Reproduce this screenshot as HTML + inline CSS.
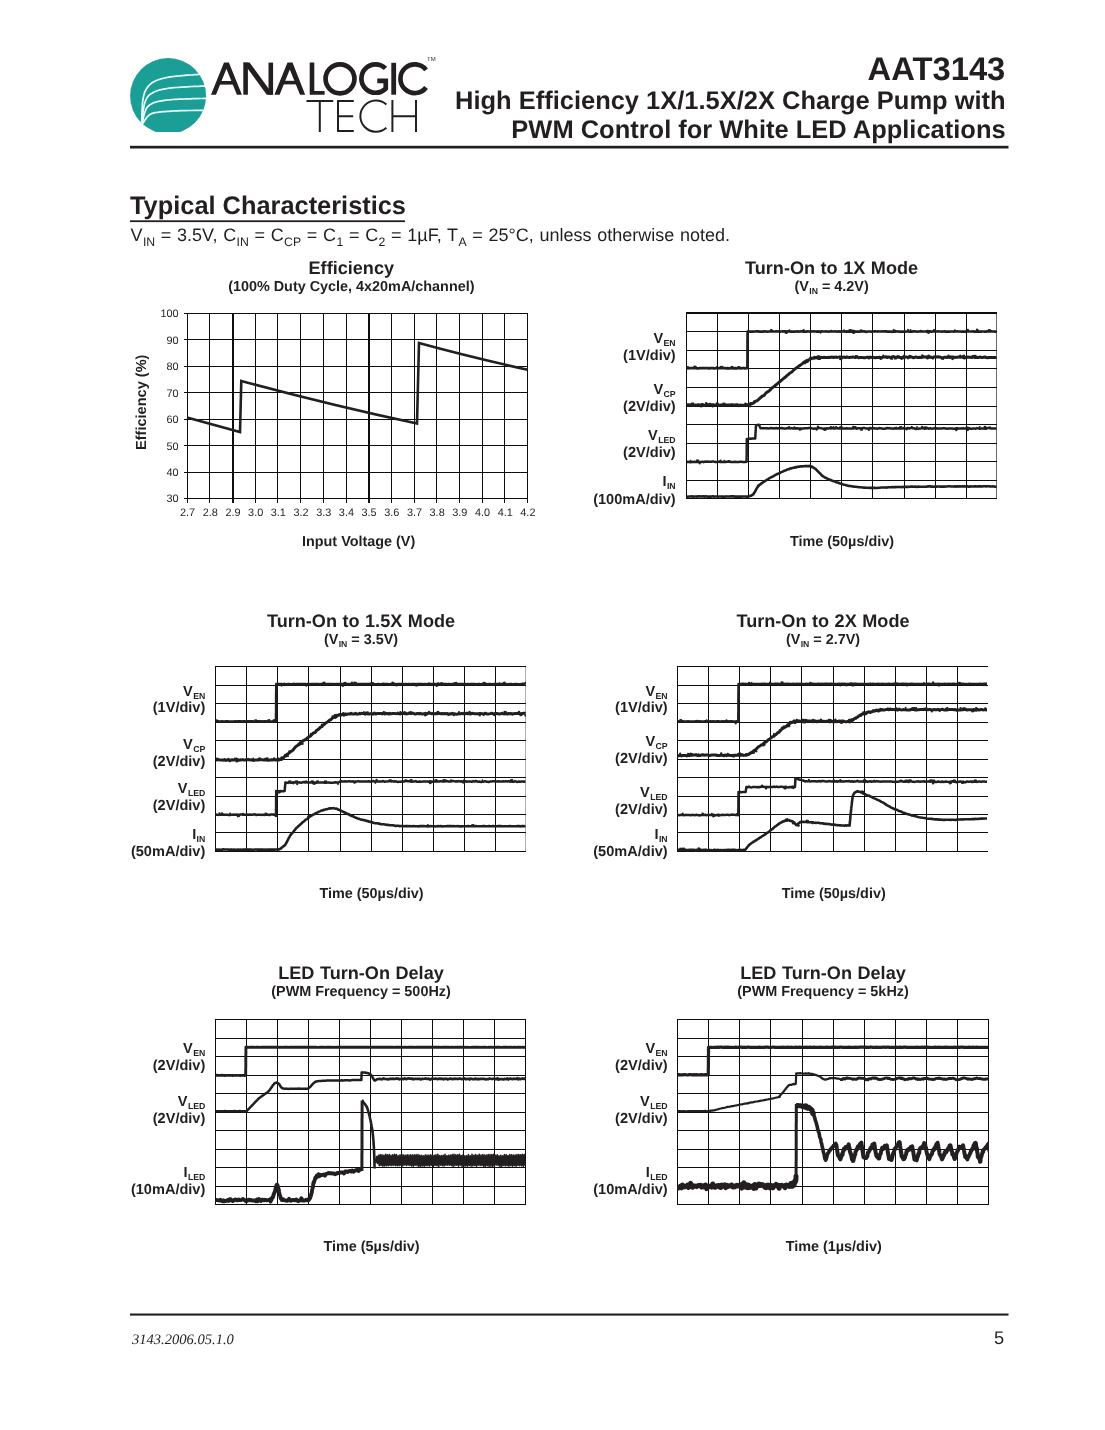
<!DOCTYPE html>
<html><head><meta charset="utf-8"><title>AAT3143</title>
<style>
html,body{margin:0;padding:0;background:#fff;}
body{width:1105px;height:1430px;position:relative;overflow:hidden;font-family:"Liberation Sans",sans-serif;color:#231f20;text-rendering:geometricPrecision;}
svg.g{position:absolute;left:0;top:0;}
.tx{position:absolute;left:0;top:0;width:1105px;height:1430px;will-change:transform;}
.t{position:absolute;white-space:nowrap;line-height:1em;font-weight:bold;}
.t sub{font-size:var(--sf,0.6em);vertical-align:baseline;position:relative;top:var(--st,0.4em);line-height:0;margin-left:0.4px;}
</style></head><body>
<svg class="g" width="1105" height="1430" viewBox="0 0 1105 1430">
<clipPath id="lc"><rect x="120" y="50" width="100" height="81.9"/></clipPath>
<circle cx="168.1" cy="96" r="38" fill="#1a9e96" clip-path="url(#lc)"/>
<path d="M141.7 121.5 L141.8 120.0 L141.8 118.1 L141.9 115.8 L142.0 113.2 L142.1 110.4 L142.2 107.6 L142.4 104.8 L142.6 102.2 L142.9 99.8 L143.2 97.8 L143.6 96.1 L144.0 94.5 L144.4 93.1 L144.9 91.8 L145.5 90.6 L146.1 89.5 L146.7 88.4 L147.4 87.4 L148.2 86.4 L149.0 85.5 L149.9 84.6 L150.8 83.8 L151.8 83.0 L152.9 82.3 L154.0 81.7 L155.2 81.1 L156.4 80.5 L157.7 80.0 L159.1 79.5 L160.5 79.0 L162.0 78.6 L163.6 78.2 L165.2 77.8 L166.9 77.5 L168.6 77.2 L170.4 76.9 L172.3 76.7 L174.1 76.5 L176.1 76.2 L178.0 76.0 L180.1 75.8 L182.4 75.6 L184.8 75.4 L187.3 75.2 L189.8 75.0 L192.3 74.9 L194.5 74.7 L196.5 74.6 L198.2 74.5 L199.5 74.4" fill="none" stroke="#eafffc" stroke-width="1.7" stroke-linecap="round"/>
<path d="M142.0 122.0 L142.1 120.9 L142.3 119.4 L142.5 117.5 L142.7 115.5 L142.9 113.4 L143.2 111.2 L143.5 109.0 L143.8 107.0 L144.2 105.2 L144.6 103.6 L145.0 102.3 L145.4 101.1 L145.9 100.0 L146.3 99.0 L146.8 98.1 L147.4 97.2 L148.0 96.4 L148.7 95.7 L149.5 94.9 L150.4 94.2 L151.4 93.5 L152.4 92.9 L153.5 92.3 L154.7 91.7 L155.9 91.2 L157.2 90.7 L158.6 90.3 L160.1 89.9 L161.7 89.5 L163.4 89.1 L165.2 88.8 L167.2 88.5 L169.4 88.2 L171.6 87.9 L173.9 87.7 L176.2 87.5 L178.5 87.4 L180.8 87.2 L183.1 87.1 L185.2 86.9 L187.4 86.8 L189.6 86.6 L191.9 86.5 L194.2 86.4 L196.5 86.4 L198.6 86.3 L200.6 86.2 L202.3 86.2 L203.8 86.1 L205.0 86.1" fill="none" stroke="#eafffc" stroke-width="1.7" stroke-linecap="round"/>
<path d="M142.4 122.6 L142.6 121.8 L142.8 120.7 L143.1 119.4 L143.4 117.9 L143.7 116.4 L144.1 114.8 L144.5 113.3 L145.0 111.8 L145.5 110.5 L146.0 109.4 L146.5 108.5 L147.1 107.6 L147.7 106.8 L148.3 106.1 L149.0 105.5 L149.7 104.9 L150.5 104.4 L151.3 103.9 L152.3 103.4 L153.3 102.9 L154.4 102.5 L155.7 102.1 L157.0 101.7 L158.4 101.4 L159.9 101.1 L161.4 100.9 L163.0 100.6 L164.5 100.4 L166.2 100.2 L167.8 100.0 L169.5 99.8 L171.2 99.7 L172.9 99.5 L174.7 99.4 L176.6 99.3 L178.4 99.2 L180.3 99.1 L182.2 99.1 L184.1 99.0 L186.0 98.9 L188.0 98.8 L190.1 98.8 L192.4 98.7 L194.7 98.6 L196.9 98.6 L199.1 98.5 L201.1 98.5 L202.9 98.5 L204.4 98.4 L205.6 98.4" fill="none" stroke="#eafffc" stroke-width="1.7" stroke-linecap="round"/>
<path d="M142.9 123.2 L143.3 122.7 L143.7 122.0 L144.2 121.2 L144.8 120.3 L145.4 119.4 L146.1 118.4 L146.8 117.5 L147.5 116.6 L148.3 115.8 L149.0 115.2 L149.7 114.7 L150.4 114.3 L151.0 113.9 L151.7 113.6 L152.4 113.3 L153.2 113.1 L154.1 112.9 L155.1 112.7 L156.3 112.5 L157.6 112.3 L159.1 112.1 L160.9 111.9 L162.7 111.7 L164.7 111.6 L166.8 111.4 L168.9 111.3 L171.2 111.1 L173.4 111.0 L175.7 110.9 L178.0 110.8 L180.4 110.7 L183.1 110.6 L185.9 110.6 L188.9 110.5 L191.8 110.5 L194.6 110.4 L197.2 110.4 L199.5 110.4 L201.5 110.3 L203.0 110.3" fill="none" stroke="#eafffc" stroke-width="1.7" stroke-linecap="round"/>
<polygon points="211.00,94.70 224.00,62.40 228.90,62.40 241.90,94.70 236.90,94.70 226.45,68.74 216.00,94.70" fill="#231f20"/>
<polygon points="219.57,81.00 233.33,81.00 233.33,84.60 219.57,84.60" fill="#231f20"/>
<polygon points="243.30,62.60 247.90,62.60 247.90,94.70 243.30,94.70" fill="#231f20"/>
<polygon points="268.50,62.60 273.10,62.60 273.10,94.70 268.50,94.70" fill="#231f20"/>
<polygon points="243.30,62.60 249.60,62.60 273.10,94.70 266.80,94.70" fill="#231f20"/>
<polygon points="274.40,94.70 287.50,62.40 292.50,62.40 305.20,94.70 300.00,94.70 289.80,69.55 279.60,94.70" fill="#231f20"/>
<polygon points="283.28,80.80 296.32,80.80 296.32,84.40 283.28,84.40" fill="#231f20"/>
<polygon points="309.70,62.60 314.30,62.60 314.30,91.00 324.60,91.00 324.60,94.70 309.70,94.70" fill="#231f20"/>
<circle cx="340" cy="78.85" r="14.45" fill="none" stroke="#231f20" stroke-width="4.7"/>
<path d="M385.5 68.4 A14.2 14.2 0 1 0 385.75 88.5 L385.75 80.85 L377.3 80.85" fill="none" stroke="#231f20" stroke-width="4.7" stroke-linecap="butt" stroke-linejoin="miter"/>
<polygon points="391.30,62.80 396.10,62.80 396.10,94.70 391.30,94.70" fill="#231f20"/>
<path d="M426.1 69.9 A14.35 14.35 0 1 0 426.1 87.5" fill="none" stroke="#231f20" stroke-width="4.7" stroke-linecap="butt" stroke-linejoin="miter"/>
<path d="M306.5 101.1 L333.2 101.1 M319.8 101.1 L319.8 132" fill="none" stroke="#231f20" stroke-width="2.0" stroke-linecap="butt" stroke-linejoin="miter"/>
<path d="M353.8 101.1 L338 101.1 L338 130.9 L353.8 130.9 M338 116.2 L353.2 116.2" fill="none" stroke="#231f20" stroke-width="2.0" stroke-linecap="butt" stroke-linejoin="miter"/>
<path d="M386.4 104.6 A15.6 15.6 0 1 0 386.4 127.8" fill="none" stroke="#231f20" stroke-width="2.0" stroke-linecap="butt" stroke-linejoin="miter"/>
<path d="M392.4 100 L392.4 132 M416 100 L416 132 M392.4 116.2 L416 116.2" fill="none" stroke="#231f20" stroke-width="2.0" stroke-linecap="butt" stroke-linejoin="miter"/>
<rect x="130" y="145.8" width="878.5" height="2.7" fill="#231f20"/>
<rect x="130" y="220.3" width="275" height="1.8" fill="#231f20"/>
<rect x="130" y="1313.5" width="878.5" height="2.1" fill="#231f20"/>
<rect x="187" y="313" width="1" height="190" fill="#0d0d0d"/>
<rect x="209" y="313" width="1" height="190" fill="#0d0d0d"/>
<rect x="232" y="313" width="2" height="190" fill="#0d0d0d"/>
<rect x="255" y="313" width="1" height="190" fill="#0d0d0d"/>
<rect x="277" y="313" width="1" height="190" fill="#0d0d0d"/>
<rect x="300" y="313" width="1" height="190" fill="#0d0d0d"/>
<rect x="323" y="313" width="1" height="190" fill="#0d0d0d"/>
<rect x="346" y="313" width="1" height="190" fill="#0d0d0d"/>
<rect x="368" y="313" width="2" height="190" fill="#0d0d0d"/>
<rect x="391" y="313" width="1" height="190" fill="#0d0d0d"/>
<rect x="414" y="313" width="1" height="190" fill="#0d0d0d"/>
<rect x="436" y="313" width="1" height="190" fill="#0d0d0d"/>
<rect x="459" y="313" width="1" height="190" fill="#0d0d0d"/>
<rect x="482" y="313" width="1" height="190" fill="#0d0d0d"/>
<rect x="504" y="313" width="1" height="190" fill="#0d0d0d"/>
<rect x="527" y="313" width="1" height="190" fill="#0d0d0d"/>
<rect x="184" y="313" width="344" height="1" fill="#0d0d0d"/>
<rect x="184" y="339" width="344" height="1" fill="#0d0d0d"/>
<rect x="184" y="366" width="344" height="1" fill="#0d0d0d"/>
<rect x="184" y="392" width="344" height="1" fill="#0d0d0d"/>
<rect x="184" y="419" width="344" height="1" fill="#0d0d0d"/>
<rect x="184" y="445" width="344" height="1" fill="#0d0d0d"/>
<rect x="184" y="472" width="344" height="1" fill="#0d0d0d"/>
<rect x="184" y="498" width="344" height="1" fill="#0d0d0d"/>
<path d="M187 417.5 L240 432 L241.3 381 Q330 405 417 423.6 L419 343 Q470 357 527.6 369.7" fill="none" stroke="#231f20" stroke-width="2.6" stroke-linejoin="miter"/>
<clipPath id="c1"><rect x="686" y="313" width="311" height="186"/></clipPath>
<rect x="686" y="313" width="1" height="186" fill="#0d0d0d"/>
<rect x="717" y="313" width="1" height="186" fill="#0d0d0d"/>
<rect x="748" y="313" width="1" height="186" fill="#0d0d0d"/>
<rect x="779" y="313" width="1" height="186" fill="#0d0d0d"/>
<rect x="810" y="313" width="1" height="186" fill="#0d0d0d"/>
<rect x="841" y="313" width="1" height="186" fill="#0d0d0d"/>
<rect x="872" y="313" width="1" height="186" fill="#0d0d0d"/>
<rect x="904" y="313" width="1" height="186" fill="#0d0d0d"/>
<rect x="935" y="313" width="1" height="186" fill="#0d0d0d"/>
<rect x="966" y="313" width="1" height="186" fill="#0d0d0d"/>
<rect x="996" y="313" width="1" height="186" fill="#6a6a6a"/>
<rect x="686" y="312" width="311" height="2" fill="#0d0d0d"/>
<rect x="686" y="331" width="311" height="1" fill="#0d0d0d"/>
<rect x="686" y="350" width="311" height="1" fill="#0d0d0d"/>
<rect x="686" y="368" width="311" height="1" fill="#0d0d0d"/>
<rect x="686" y="387" width="311" height="1" fill="#0d0d0d"/>
<rect x="686" y="406" width="311" height="1" fill="#0d0d0d"/>
<rect x="686" y="424" width="311" height="1" fill="#0d0d0d"/>
<rect x="686" y="443" width="311" height="1" fill="#0d0d0d"/>
<rect x="686" y="461" width="311" height="1" fill="#0d0d0d"/>
<rect x="686" y="480" width="311" height="1" fill="#0d0d0d"/>
<rect x="686" y="498" width="311" height="1" fill="#0d0d0d"/>
<path d="M686.6 368.2 L687.9 368.3 L689.2 368.2 L690.6 368.2 L691.9 368.2 L693.2 368.2 L694.5 368.1 L695.9 368.1 L697.2 368.3 L698.5 368.3 L699.8 368.1 L701.1 368.1 L702.5 368.2 L703.8 368.2 L705.1 368.1 L706.4 368.2 L707.7 368.1 L709.1 368.4 L710.4 368.1 L711.7 368.1 L713.0 368.1 L714.4 368.5 L715.7 368.2 L717.0 368.1 L718.3 368.2 L719.6 368.1 L721.0 368.2 L722.3 368.2 L723.6 368.2 L724.9 368.1 L726.3 368.3 L727.6 368.2 L728.9 368.4 L730.2 368.3 L731.5 368.0 L732.9 368.4 L734.2 368.4 L735.5 368.2 L736.8 368.3 L738.1 368.2 L739.5 368.2 L740.8 368.3 L742.1 368.1 L743.4 368.0 L744.8 368.4 L746.1 368.1 L747.4 368.1 L747.4 366.9 L747.4 365.6 L747.4 364.3 L747.4 363.0 L747.4 361.6 L747.4 360.3 L747.5 359.0 L747.5 357.7 L747.5 356.4 L747.5 355.1 L747.5 353.8 L747.5 352.5 L747.5 351.2 L747.5 349.9 L747.5 348.5 L747.5 347.2 L747.5 345.9 L747.5 344.6 L747.5 343.3 L747.5 342.0 L747.5 340.7 L747.6 339.4 L747.6 338.1 L747.6 336.7 L747.6 335.4 L747.6 334.1 L747.6 332.8 L747.6 331.6 L748.9 331.6 L750.2 331.5 L751.5 331.6 L752.8 331.6 L754.1 331.5 L755.4 331.5 L756.7 331.3 L758.0 331.3 L759.3 331.6 L760.6 331.6 L761.9 331.5 L763.2 331.6 L764.5 331.3 L765.9 331.5 L767.2 331.6 L768.5 331.5 L769.8 331.5 L771.1 331.4 L772.4 331.3 L773.7 331.5 L775.0 331.5 L776.3 331.4 L777.6 331.5 L778.9 331.4 L780.2 331.7 L781.5 331.5 L782.8 331.4 L784.1 331.4 L785.4 331.3 L786.7 331.8 L788.0 331.3 L789.3 331.5 L790.6 331.6 L791.9 331.7 L793.2 331.7 L794.5 331.7 L795.8 331.5 L797.1 331.4 L798.4 331.7 L799.7 331.5 L801.1 331.4 L802.4 331.4 L803.7 331.6 L805.0 331.6 L806.3 331.7 L807.6 331.3 L808.9 331.5 L810.2 331.6 L811.5 331.4 L812.8 331.5 L814.1 331.3 L815.4 331.5 L816.7 331.6 L818.0 331.4 L819.3 331.6 L820.6 331.5 L821.9 331.4 L823.2 331.5 L824.5 331.5 L825.8 331.4 L827.1 331.5 L828.4 331.7 L829.7 331.5 L831.0 331.2 L832.3 331.4 L833.6 331.5 L834.9 331.4 L836.2 331.5 L837.6 331.7 L838.9 331.3 L840.2 331.7 L841.5 331.4 L842.8 331.5 L844.1 331.5 L845.4 331.7 L846.7 331.4 L848.0 331.6 L849.3 331.6 L850.6 331.4 L851.9 331.6 L853.2 331.4 L854.5 331.4 L855.8 331.6 L857.1 331.6 L858.4 331.5 L859.7 331.6 L861.0 331.5 L862.3 331.5 L863.6 331.4 L864.9 331.4 L866.2 331.9 L867.5 331.5 L868.8 331.5 L870.1 331.5 L871.4 331.6 L872.8 331.5 L874.1 331.4 L875.4 331.4 L876.7 331.5 L878.0 331.4 L879.3 331.5 L880.6 331.5 L881.9 331.4 L883.2 331.5 L884.5 331.4 L885.8 331.4 L887.1 331.6 L888.4 331.5 L889.7 331.6 L891.0 331.7 L892.3 331.8 L893.6 331.5 L894.9 331.6 L896.2 331.4 L897.5 331.5 L898.8 331.6 L900.1 331.5 L901.4 331.8 L902.7 331.5 L904.0 331.8 L905.3 331.6 L906.6 331.5 L908.0 331.5 L909.3 331.6 L910.6 331.4 L911.9 331.7 L913.2 331.3 L914.5 331.4 L915.8 331.5 L917.1 331.7 L918.4 331.5 L919.7 331.4 L921.0 331.2 L922.3 331.5 L923.6 331.5 L924.9 331.5 L926.2 331.4 L927.5 331.2 L928.8 331.4 L930.1 331.4 L931.4 331.7 L932.7 331.5 L934.0 331.3 L935.3 331.5 L936.6 331.5 L937.9 331.4 L939.2 331.5 L940.5 331.5 L941.8 331.7 L943.1 331.5 L944.5 331.4 L945.8 331.7 L947.1 331.6 L948.4 331.6 L949.7 331.6 L951.0 331.5 L952.3 331.5 L953.6 331.6 L954.9 331.4 L956.2 331.5 L957.5 331.4 L958.8 331.5 L960.1 331.5 L961.4 331.7 L962.7 331.6 L964.0 331.5 L965.3 331.6 L966.6 331.4 L967.9 331.5 L969.2 331.5 L970.5 331.5 L971.8 331.5 L973.1 331.4 L974.4 331.6 L975.7 331.7 L977.0 331.5 L978.3 331.6 L979.7 331.5 L981.0 331.6 L982.3 331.5 L983.6 331.5 L984.9 331.6 L986.2 331.6 L987.5 331.3 L988.8 331.3 L990.1 331.4 L991.4 331.4 L992.7 331.5 L994.0 331.5 L995.3 331.7 L996.6 331.5" fill="none" stroke="#231f20" stroke-width="2.7" stroke-linejoin="round" stroke-linecap="butt" clip-path="url(#c1)"/>
<path d="M686.8 367.2a1.10 1.10 0 1 0 2.21 0a1.10 1.10 0 1 0 -2.21 0zM693.3 366.9a1.26 1.26 0 1 0 2.51 0a1.26 1.26 0 1 0 -2.51 0zM694.8 366.8a0.98 0.98 0 1 0 1.95 0a0.98 0.98 0 1 0 -1.95 0zM715.9 367.2a1.09 1.09 0 1 0 2.19 0a1.09 1.09 0 1 0 -2.19 0zM719.8 366.9a1.14 1.14 0 1 0 2.27 0a1.14 1.14 0 1 0 -2.27 0zM721.1 366.9a1.09 1.09 0 1 0 2.19 0a1.09 1.09 0 1 0 -2.19 0zM730.6 366.9a0.99 0.99 0 1 0 1.97 0a0.99 0.99 0 1 0 -1.97 0zM731.7 367.1a1.06 1.06 0 1 0 2.12 0a1.06 1.06 0 1 0 -2.12 0zM737.2 367.1a0.99 0.99 0 1 0 1.98 0a0.99 0.99 0 1 0 -1.98 0zM738.3 367.0a1.08 1.08 0 1 0 2.16 0a1.08 1.08 0 1 0 -2.16 0zM769.8 330.2a1.23 1.23 0 1 0 2.46 0a1.23 1.23 0 1 0 -2.46 0zM771.2 330.5a1.06 1.06 0 1 0 2.12 0a1.06 1.06 0 1 0 -2.12 0zM784.5 332.6a0.96 0.96 0 1 0 1.91 0a0.96 0.96 0 1 0 -1.91 0zM785.4 332.8a1.18 1.18 0 1 0 2.35 0a1.18 1.18 0 1 0 -2.35 0zM788.3 330.4a1.03 1.03 0 1 0 2.06 0a1.03 1.03 0 1 0 -2.06 0zM802.6 330.1a1.08 1.08 0 1 0 2.17 0a1.08 1.08 0 1 0 -2.17 0zM819.5 332.6a1.06 1.06 0 1 0 2.12 0a1.06 1.06 0 1 0 -2.12 0zM843.1 330.3a0.93 0.93 0 1 0 1.85 0a0.93 0.93 0 1 0 -1.85 0zM848.1 330.4a1.14 1.14 0 1 0 2.27 0a1.14 1.14 0 1 0 -2.27 0zM849.3 330.2a1.21 1.21 0 1 0 2.42 0a1.21 1.21 0 1 0 -2.42 0zM850.8 330.5a1.09 1.09 0 1 0 2.19 0a1.09 1.09 0 1 0 -2.19 0zM852.1 330.6a0.99 0.99 0 1 0 1.98 0a0.99 0.99 0 1 0 -1.98 0zM852.3 333.2a0.92 0.92 0 1 0 1.84 0a0.92 0.92 0 1 0 -1.84 0zM853.3 332.4a1.14 1.14 0 1 0 2.27 0a1.14 1.14 0 1 0 -2.27 0zM859.8 330.4a1.22 1.22 0 1 0 2.45 0a1.22 1.22 0 1 0 -2.45 0zM861.3 330.6a0.91 0.91 0 1 0 1.82 0a0.91 0.91 0 1 0 -1.82 0zM892.6 330.0a0.98 0.98 0 1 0 1.96 0a0.98 0.98 0 1 0 -1.96 0zM893.7 330.6a1.16 1.16 0 1 0 2.32 0a1.16 1.16 0 1 0 -2.32 0zM907.0 329.9a0.94 0.94 0 1 0 1.87 0a0.94 0.94 0 1 0 -1.87 0zM909.6 329.9a0.94 0.94 0 1 0 1.88 0a0.94 0.94 0 1 0 -1.88 0zM926.5 332.6a1.02 1.02 0 1 0 2.04 0a1.02 1.02 0 1 0 -2.04 0zM927.6 332.9a1.06 1.06 0 1 0 2.13 0a1.06 1.06 0 1 0 -2.13 0zM932.8 330.2a1.19 1.19 0 1 0 2.38 0a1.19 1.19 0 1 0 -2.38 0zM953.8 330.5a1.06 1.06 0 1 0 2.11 0a1.06 1.06 0 1 0 -2.11 0zM966.9 330.0a1.04 1.04 0 1 0 2.07 0a1.04 1.04 0 1 0 -2.07 0zM975.9 329.8a1.11 1.11 0 1 0 2.21 0a1.11 1.11 0 1 0 -2.21 0zM977.3 330.4a0.97 0.97 0 1 0 1.94 0a0.97 0.97 0 1 0 -1.94 0zM987.7 330.2a1.12 1.12 0 1 0 2.23 0a1.12 1.12 0 1 0 -2.23 0zM988.9 330.1a1.04 1.04 0 1 0 2.08 0a1.04 1.04 0 1 0 -2.08 0z" fill="#231f20" clip-path="url(#c1)"/>
<path d="M686.6 405.3 L687.9 404.8 L689.2 405.0 L690.5 404.8 L691.8 405.1 L693.1 405.6 L694.4 405.1 L695.7 405.1 L697.1 405.2 L698.4 404.7 L699.7 404.9 L701.0 405.1 L702.3 404.4 L703.6 405.2 L704.9 405.2 L706.2 405.3 L707.5 404.9 L708.8 404.7 L710.1 404.3 L711.4 405.0 L712.7 404.7 L714.0 404.9 L715.3 405.1 L716.6 405.0 L718.0 404.9 L719.3 405.2 L720.6 405.0 L721.9 405.0 L723.2 405.4 L724.5 404.8 L725.8 405.1 L727.1 405.0 L728.4 405.1 L729.7 404.9 L731.0 404.8 L732.3 404.8 L733.6 405.0 L734.9 405.1 L736.2 404.8 L737.5 404.8 L738.9 405.7 L740.2 405.1 L741.5 405.3 L742.8 405.2 L744.1 405.2 L745.4 405.1 L746.7 405.1 L748.0 405.2 L748.0 405.0 L748.3 405.3 L748.5 404.7 L748.8 405.2 L749.2 404.6 L749.6 404.7 L750.0 404.8 L750.5 403.9 L751.0 403.7 L751.7 404.0 L752.4 403.3 L753.1 403.2 L754.0 402.7 L755.0 401.9 L756.0 401.0 L757.2 400.7 L758.4 399.7 L759.8 398.2 L761.1 397.2 L762.5 396.0 L764.0 395.6 L765.5 393.5 L767.0 392.1 L768.5 391.4 L770.0 390.2 L771.5 388.3 L773.1 387.2 L774.8 385.8 L776.5 384.5 L778.3 382.9 L780.0 381.5 L781.7 380.1 L783.5 378.5 L785.2 377.3 L786.9 375.7 L788.5 374.4 L790.0 373.0 L791.5 372.2 L793.0 370.7 L794.5 369.2 L795.9 368.3 L797.4 367.4 L798.8 366.1 L800.1 365.4 L801.4 364.4 L802.7 363.3 L803.8 362.3 L805.0 361.6 L806.0 361.1 L806.9 360.4 L807.8 360.1 L808.6 359.9 L809.3 359.7 L809.9 359.0 L810.5 359.1 L811.1 358.7 L811.6 358.6 L812.2 358.1 L812.8 358.3 L813.4 358.2 L814.0 357.6 L814.7 358.1 L815.3 357.5 L815.9 357.8 L816.5 357.4 L817.1 357.8 L817.7 358.1 L818.3 356.6 L819.0 357.3 L819.6 357.1 L820.4 357.6 L821.2 357.3 L822.0 357.6 L822.9 357.4 L824.0 357.3 L825.2 357.4 L826.4 357.4 L827.7 357.4 L829.0 357.3 L830.3 357.4 L831.4 357.1 L832.5 357.3 L833.5 357.6 L834.4 357.1 L835.0 357.3 L836.3 357.1 L837.6 357.4 L838.9 357.1 L840.2 357.0 L841.5 357.3 L842.8 357.2 L844.1 357.1 L845.4 357.6 L846.7 356.9 L848.0 357.3 L849.3 357.6 L850.6 357.3 L851.9 357.3 L853.2 356.9 L854.5 357.4 L855.9 357.4 L857.2 357.0 L858.5 357.7 L859.8 357.5 L861.1 357.6 L862.4 357.4 L863.7 357.7 L865.0 357.7 L866.3 357.4 L867.6 357.1 L868.9 357.9 L870.2 357.1 L871.5 357.4 L872.8 357.3 L874.1 357.6 L875.4 357.8 L876.7 357.5 L878.0 357.6 L879.3 357.3 L880.6 357.7 L881.9 357.4 L883.2 357.1 L884.5 357.1 L885.8 356.7 L887.1 357.6 L888.4 356.9 L889.7 357.2 L891.0 357.4 L892.3 356.7 L893.6 356.6 L894.9 357.3 L896.3 357.3 L897.6 357.2 L898.9 357.2 L900.2 357.4 L901.5 357.7 L902.8 357.2 L904.1 357.8 L905.4 357.0 L906.7 357.1 L908.0 357.4 L909.3 357.3 L910.6 357.1 L911.9 357.1 L913.2 357.7 L914.5 357.5 L915.8 356.9 L917.1 357.4 L918.4 357.4 L919.7 357.2 L921.0 357.5 L922.3 357.3 L923.6 357.1 L924.9 356.9 L926.2 357.1 L927.5 358.0 L928.8 357.3 L930.1 357.0 L931.4 357.3 L932.7 358.0 L934.0 356.9 L935.3 356.6 L936.7 357.1 L938.0 356.7 L939.3 357.1 L940.6 357.2 L941.9 357.9 L943.2 357.6 L944.5 357.3 L945.8 357.2 L947.1 357.5 L948.4 356.8 L949.7 357.6 L951.0 356.9 L952.3 357.1 L953.6 357.1 L954.9 357.4 L956.2 357.3 L957.5 357.3 L958.8 356.9 L960.1 357.3 L961.4 356.8 L962.7 357.4 L964.0 357.9 L965.3 357.7 L966.6 357.2 L967.9 357.1 L969.2 357.2 L970.5 357.3 L971.8 357.5 L973.1 356.4 L974.4 357.4 L975.7 357.4 L977.1 357.3 L978.4 357.6 L979.7 357.1 L981.0 357.3 L982.3 357.6 L983.6 357.3 L984.9 356.9 L986.2 357.6 L987.5 357.8 L988.8 357.5 L990.1 357.6 L991.4 357.5 L992.7 357.5 L994.0 357.4 L995.3 357.5 L996.6 357.4" fill="none" stroke="#231f20" stroke-width="3.0" stroke-linejoin="round" stroke-linecap="butt" clip-path="url(#c1)"/>
<path d="M685.6 403.8a0.96 0.96 0 1 0 1.92 0a0.96 0.96 0 1 0 -1.92 0zM690.8 403.5a1.00 1.00 0 1 0 2.01 0a1.00 1.00 0 1 0 -2.01 0zM692.1 403.4a0.95 0.95 0 1 0 1.89 0a0.95 0.95 0 1 0 -1.89 0zM699.8 406.4a1.13 1.13 0 1 0 2.26 0a1.13 1.13 0 1 0 -2.26 0zM701.0 406.2a1.15 1.15 0 1 0 2.30 0a1.15 1.15 0 1 0 -2.30 0zM704.9 403.3a1.25 1.25 0 1 0 2.51 0a1.25 1.25 0 1 0 -2.51 0zM706.5 404.0a0.93 0.93 0 1 0 1.86 0a0.93 0.93 0 1 0 -1.86 0zM711.5 406.3a1.23 1.23 0 1 0 2.47 0a1.23 1.23 0 1 0 -2.47 0zM715.7 403.2a0.95 0.95 0 1 0 1.91 0a0.95 0.95 0 1 0 -1.91 0zM717.0 403.5a0.88 0.88 0 1 0 1.76 0a0.88 0.88 0 1 0 -1.76 0zM722.2 403.4a1.00 1.00 0 1 0 2.00 0a1.00 1.00 0 1 0 -2.00 0zM723.3 403.7a1.10 1.10 0 1 0 2.21 0a1.10 1.10 0 1 0 -2.21 0zM744.2 403.6a1.15 1.15 0 1 0 2.31 0a1.15 1.15 0 1 0 -2.31 0zM745.7 404.0a0.91 0.91 0 1 0 1.81 0a0.91 0.91 0 1 0 -1.81 0zM747.9 406.1a1.25 1.25 0 1 0 2.50 0a1.25 1.25 0 1 0 -2.50 0zM749.4 406.4a0.95 0.95 0 1 0 1.90 0a0.95 0.95 0 1 0 -1.90 0zM749.4 403.1a1.09 1.09 0 1 0 2.18 0a1.09 1.09 0 1 0 -2.18 0zM750.6 403.2a1.12 1.12 0 1 0 2.25 0a1.12 1.12 0 1 0 -2.25 0zM753.0 401.2a0.98 0.98 0 1 0 1.97 0a0.98 0.98 0 1 0 -1.97 0zM779.1 380.0a0.94 0.94 0 1 0 1.88 0a0.94 0.94 0 1 0 -1.88 0zM780.3 380.5a0.90 0.90 0 1 0 1.81 0a0.90 0.90 0 1 0 -1.81 0zM803.8 363.1a1.20 1.20 0 1 0 2.39 0a1.20 1.20 0 1 0 -2.39 0zM805.7 362.0a1.20 1.20 0 1 0 2.40 0a1.20 1.20 0 1 0 -2.40 0zM807.1 361.4a1.05 1.05 0 1 0 2.10 0a1.05 1.05 0 1 0 -2.10 0zM809.3 357.7a1.16 1.16 0 1 0 2.32 0a1.16 1.16 0 1 0 -2.32 0zM813.7 356.7a0.94 0.94 0 1 0 1.89 0a0.94 0.94 0 1 0 -1.89 0zM817.8 358.7a1.20 1.20 0 1 0 2.39 0a1.20 1.20 0 1 0 -2.39 0zM819.1 358.9a1.03 1.03 0 1 0 2.06 0a1.03 1.03 0 1 0 -2.06 0zM839.0 359.1a1.19 1.19 0 1 0 2.39 0a1.19 1.19 0 1 0 -2.39 0zM840.3 358.9a1.16 1.16 0 1 0 2.32 0a1.16 1.16 0 1 0 -2.32 0zM854.9 355.9a0.92 0.92 0 1 0 1.83 0a0.92 0.92 0 1 0 -1.83 0zM856.2 356.0a0.89 0.89 0 1 0 1.79 0a0.89 0.89 0 1 0 -1.79 0zM879.5 358.7a1.13 1.13 0 1 0 2.25 0a1.13 1.13 0 1 0 -2.25 0zM880.8 358.5a1.00 1.00 0 1 0 2.01 0a1.00 1.00 0 1 0 -2.01 0zM882.2 355.5a1.05 1.05 0 1 0 2.11 0a1.05 1.05 0 1 0 -2.11 0zM889.9 358.5a1.17 1.17 0 1 0 2.33 0a1.17 1.17 0 1 0 -2.33 0zM891.3 358.9a0.96 0.96 0 1 0 1.93 0a0.96 0.96 0 1 0 -1.93 0zM893.8 358.6a1.12 1.12 0 1 0 2.24 0a1.12 1.12 0 1 0 -2.24 0zM895.3 358.5a0.90 0.90 0 1 0 1.79 0a0.90 0.90 0 1 0 -1.79 0zM896.6 355.9a0.92 0.92 0 1 0 1.84 0a0.92 0.92 0 1 0 -1.84 0zM897.7 356.2a1.07 1.07 0 1 0 2.15 0a1.07 1.07 0 1 0 -2.15 0zM900.4 358.9a1.05 1.05 0 1 0 2.11 0a1.05 1.05 0 1 0 -2.11 0zM901.6 358.3a1.10 1.10 0 1 0 2.20 0a1.10 1.10 0 1 0 -2.20 0zM903.0 355.5a1.11 1.11 0 1 0 2.22 0a1.11 1.11 0 1 0 -2.22 0zM907.1 358.6a0.90 0.90 0 1 0 1.80 0a0.90 0.90 0 1 0 -1.80 0zM908.3 355.7a0.96 0.96 0 1 0 1.91 0a0.96 0.96 0 1 0 -1.91 0zM909.4 356.0a1.09 1.09 0 1 0 2.18 0a1.09 1.09 0 1 0 -2.18 0zM921.1 355.5a1.24 1.24 0 1 0 2.49 0a1.24 1.24 0 1 0 -2.49 0zM922.4 356.3a1.09 1.09 0 1 0 2.18 0a1.09 1.09 0 1 0 -2.18 0zM926.5 356.2a0.98 0.98 0 1 0 1.96 0a0.98 0.98 0 1 0 -1.96 0zM927.5 355.8a1.19 1.19 0 1 0 2.38 0a1.19 1.19 0 1 0 -2.38 0zM940.7 358.5a1.12 1.12 0 1 0 2.24 0a1.12 1.12 0 1 0 -2.24 0zM942.0 359.0a1.11 1.11 0 1 0 2.22 0a1.11 1.11 0 1 0 -2.22 0zM942.0 358.9a1.12 1.12 0 1 0 2.25 0a1.12 1.12 0 1 0 -2.25 0zM947.5 355.5a0.92 0.92 0 1 0 1.84 0a0.92 0.92 0 1 0 -1.84 0zM948.7 356.3a0.89 0.89 0 1 0 1.78 0a0.89 0.89 0 1 0 -1.78 0zM951.2 359.0a1.13 1.13 0 1 0 2.26 0a1.13 1.13 0 1 0 -2.26 0zM952.5 358.5a0.97 0.97 0 1 0 1.93 0a0.97 0.97 0 1 0 -1.93 0zM959.1 355.6a1.01 1.01 0 1 0 2.03 0a1.01 1.01 0 1 0 -2.03 0zM961.8 356.1a0.88 0.88 0 1 0 1.76 0a0.88 0.88 0 1 0 -1.76 0zM962.7 355.8a1.20 1.20 0 1 0 2.41 0a1.20 1.20 0 1 0 -2.41 0zM962.9 356.1a1.15 1.15 0 1 0 2.30 0a1.15 1.15 0 1 0 -2.30 0zM973.4 355.9a1.03 1.03 0 1 0 2.07 0a1.03 1.03 0 1 0 -2.07 0zM974.7 355.7a0.91 0.91 0 1 0 1.82 0a0.91 0.91 0 1 0 -1.82 0z" fill="#231f20" clip-path="url(#c1)"/>
<path d="M686.6 462.0 L687.9 461.8 L689.2 461.9 L690.5 462.3 L691.8 461.8 L693.1 461.9 L694.4 461.7 L695.7 462.0 L697.0 462.0 L698.3 462.1 L699.6 461.9 L700.9 461.9 L702.3 461.7 L703.6 462.2 L704.9 461.6 L706.2 461.8 L707.5 461.6 L708.8 461.8 L710.1 461.8 L711.4 461.8 L712.7 461.6 L714.0 461.6 L715.3 462.0 L716.6 462.0 L717.9 461.8 L719.2 461.7 L720.5 462.1 L721.8 462.0 L723.1 462.1 L724.4 462.0 L725.7 462.1 L727.0 461.8 L728.3 461.7 L729.6 461.7 L730.9 462.0 L732.3 461.9 L733.6 462.1 L734.9 461.7 L736.2 461.9 L737.5 461.9 L738.8 462.0 L740.1 461.7 L741.4 461.7 L742.7 462.1 L744.0 461.9 L745.3 462.0 L746.6 461.7 L746.6 460.5 L746.6 459.2 L746.6 457.8 L746.6 456.4 L746.7 455.0 L746.7 453.7 L746.7 452.3 L746.7 450.9 L746.7 449.6 L746.7 448.2 L746.7 446.8 L746.7 445.5 L746.8 444.1 L746.8 442.7 L746.8 441.3 L746.8 440.0 L746.8 438.9 L748.2 438.9 L749.6 438.6 L751.0 438.8 L752.4 438.6 L753.8 438.6 L755.2 438.6 L755.3 437.3 L755.4 435.9 L755.4 434.6 L755.5 433.2 L755.6 431.9 L755.7 430.6 L755.8 429.2 L755.8 427.9 L755.9 426.5 L756.0 425.4 L757.5 424.9 L759.0 424.8 L759.8 426.7 L760.5 428.2 L761.8 428.3 L763.1 428.2 L764.4 428.3 L765.7 428.3 L767.0 428.3 L768.3 428.4 L769.6 428.3 L770.9 428.1 L772.2 428.3 L773.5 428.2 L774.8 428.4 L776.2 428.0 L777.5 428.4 L778.8 428.2 L780.1 428.3 L781.4 428.1 L782.7 428.3 L784.0 428.5 L785.3 428.6 L786.6 428.4 L787.9 428.0 L789.2 428.3 L790.5 428.4 L791.8 428.1 L793.1 428.6 L794.4 428.5 L795.7 428.4 L797.0 428.2 L798.3 428.4 L799.6 428.5 L800.9 428.4 L802.2 428.6 L803.5 428.4 L804.9 428.2 L806.2 428.2 L807.5 428.3 L808.8 428.1 L810.1 428.0 L811.4 428.3 L812.7 428.6 L814.0 428.7 L815.3 428.4 L816.6 428.5 L817.9 428.4 L819.2 428.1 L820.5 428.1 L821.8 428.4 L823.1 428.7 L824.4 428.5 L825.7 428.4 L827.0 428.3 L828.3 428.5 L829.6 428.1 L830.9 428.5 L832.2 428.1 L833.5 428.5 L834.9 428.6 L836.2 428.3 L837.5 428.3 L838.8 428.4 L840.1 428.5 L841.4 428.2 L842.7 428.6 L844.0 428.5 L845.3 428.5 L846.6 428.3 L847.9 428.4 L849.2 428.4 L850.5 428.5 L851.8 428.5 L853.1 428.5 L854.4 428.2 L855.7 428.3 L857.0 428.7 L858.3 428.2 L859.6 428.2 L860.9 428.6 L862.2 428.1 L863.5 428.0 L864.9 428.1 L866.2 428.6 L867.5 428.4 L868.8 428.6 L870.1 428.0 L871.4 428.6 L872.7 428.1 L874.0 428.3 L875.3 428.5 L876.6 428.5 L877.9 428.7 L879.2 428.1 L880.5 428.2 L881.8 428.4 L883.1 428.8 L884.4 428.7 L885.7 428.6 L887.0 428.0 L888.3 428.2 L889.6 428.1 L890.9 428.5 L892.2 428.6 L893.6 428.7 L894.9 428.2 L896.2 428.6 L897.5 428.4 L898.8 428.3 L900.1 428.4 L901.4 428.4 L902.7 428.5 L904.0 428.0 L905.3 428.6 L906.6 428.5 L907.9 428.0 L909.2 428.5 L910.5 428.1 L911.8 428.0 L913.1 428.3 L914.4 428.2 L915.7 429.1 L917.0 428.3 L918.3 428.9 L919.6 428.5 L920.9 428.4 L922.2 428.1 L923.6 428.3 L924.9 428.7 L926.2 428.6 L927.5 428.0 L928.8 428.8 L930.1 428.2 L931.4 428.7 L932.7 428.6 L934.0 428.5 L935.3 427.9 L936.6 428.5 L937.9 428.5 L939.2 428.5 L940.5 428.6 L941.8 428.4 L943.1 428.3 L944.4 428.3 L945.7 428.5 L947.0 428.7 L948.3 428.5 L949.6 428.5 L950.9 428.6 L952.2 428.6 L953.6 428.7 L954.9 428.7 L956.2 428.3 L957.5 428.3 L958.8 428.6 L960.1 428.6 L961.4 428.5 L962.7 428.2 L964.0 428.5 L965.3 428.6 L966.6 428.4 L967.9 428.4 L969.2 428.3 L970.5 428.7 L971.8 428.7 L973.1 428.5 L974.4 428.5 L975.7 428.7 L977.0 428.1 L978.3 428.4 L979.6 428.8 L980.9 428.5 L982.3 428.6 L983.6 428.6 L984.9 428.7 L986.2 428.7 L987.5 428.1 L988.8 428.1 L990.1 428.3 L991.4 428.5 L992.7 428.5 L994.0 428.5 L995.3 428.6 L996.6 428.6" fill="none" stroke="#231f20" stroke-width="2.5" stroke-linejoin="round" stroke-linecap="butt" clip-path="url(#c1)"/>
<path d="M689.5 460.9a1.03 1.03 0 1 0 2.06 0a1.03 1.03 0 1 0 -2.06 0zM696.0 460.4a1.05 1.05 0 1 0 2.10 0a1.05 1.05 0 1 0 -2.10 0zM697.3 460.5a0.98 0.98 0 1 0 1.96 0a0.98 0.98 0 1 0 -1.96 0zM698.6 463.4a1.05 1.05 0 1 0 2.09 0a1.05 1.05 0 1 0 -2.09 0zM719.4 460.8a1.16 1.16 0 1 0 2.31 0a1.16 1.16 0 1 0 -2.31 0zM723.4 460.7a1.04 1.04 0 1 0 2.08 0a1.04 1.04 0 1 0 -2.08 0zM727.4 460.8a0.90 0.90 0 1 0 1.80 0a0.90 0.90 0 1 0 -1.80 0zM728.7 460.9a0.88 0.88 0 1 0 1.77 0a0.88 0.88 0 1 0 -1.77 0zM788.1 427.1a1.10 1.10 0 1 0 2.19 0a1.10 1.10 0 1 0 -2.19 0zM793.3 427.4a1.16 1.16 0 1 0 2.33 0a1.16 1.16 0 1 0 -2.33 0zM798.6 429.8a1.02 1.02 0 1 0 2.04 0a1.02 1.02 0 1 0 -2.04 0zM799.7 429.5a1.13 1.13 0 1 0 2.27 0a1.13 1.13 0 1 0 -2.27 0zM815.5 429.8a1.06 1.06 0 1 0 2.13 0a1.06 1.06 0 1 0 -2.13 0zM816.8 426.8a1.12 1.12 0 1 0 2.23 0a1.12 1.12 0 1 0 -2.23 0zM823.3 429.9a1.13 1.13 0 1 0 2.26 0a1.13 1.13 0 1 0 -2.26 0zM824.5 429.7a1.14 1.14 0 1 0 2.28 0a1.14 1.14 0 1 0 -2.28 0zM829.7 427.1a1.20 1.20 0 1 0 2.40 0a1.20 1.20 0 1 0 -2.40 0zM832.4 427.2a1.11 1.11 0 1 0 2.22 0a1.11 1.11 0 1 0 -2.22 0zM834.9 427.1a1.22 1.22 0 1 0 2.45 0a1.22 1.22 0 1 0 -2.45 0zM838.9 427.4a1.16 1.16 0 1 0 2.31 0a1.16 1.16 0 1 0 -2.31 0zM840.3 427.1a0.94 0.94 0 1 0 1.88 0a0.94 0.94 0 1 0 -1.88 0zM840.2 427.0a1.21 1.21 0 1 0 2.42 0a1.21 1.21 0 1 0 -2.42 0zM852.0 426.9a1.16 1.16 0 1 0 2.32 0a1.16 1.16 0 1 0 -2.32 0zM853.1 427.5a1.20 1.20 0 1 0 2.40 0a1.20 1.20 0 1 0 -2.40 0zM853.2 427.4a1.19 1.19 0 1 0 2.38 0a1.19 1.19 0 1 0 -2.38 0zM854.6 427.1a1.03 1.03 0 1 0 2.06 0a1.03 1.03 0 1 0 -2.06 0zM859.9 429.7a1.00 1.00 0 1 0 2.00 0a1.00 1.00 0 1 0 -2.00 0zM861.1 429.7a1.00 1.00 0 1 0 2.01 0a1.00 1.00 0 1 0 -2.01 0zM867.6 429.8a1.21 1.21 0 1 0 2.43 0a1.21 1.21 0 1 0 -2.43 0zM895.2 427.3a0.92 0.92 0 1 0 1.84 0a0.92 0.92 0 1 0 -1.84 0zM899.0 427.2a1.10 1.10 0 1 0 2.20 0a1.10 1.10 0 1 0 -2.20 0zM900.3 427.1a1.02 1.02 0 1 0 2.04 0a1.02 1.02 0 1 0 -2.04 0zM905.6 429.4a1.02 1.02 0 1 0 2.04 0a1.02 1.02 0 1 0 -2.04 0zM910.7 427.2a1.13 1.13 0 1 0 2.25 0a1.13 1.13 0 1 0 -2.25 0zM916.1 426.9a0.90 0.90 0 1 0 1.81 0a0.90 0.90 0 1 0 -1.81 0zM921.0 427.0a1.24 1.24 0 1 0 2.48 0a1.24 1.24 0 1 0 -2.48 0zM923.8 427.3a1.03 1.03 0 1 0 2.06 0a1.03 1.03 0 1 0 -2.06 0zM925.0 427.4a1.03 1.03 0 1 0 2.05 0a1.03 1.03 0 1 0 -2.05 0zM955.1 430.0a1.05 1.05 0 1 0 2.09 0a1.05 1.05 0 1 0 -2.09 0zM956.4 429.4a0.96 0.96 0 1 0 1.92 0a0.96 0.96 0 1 0 -1.92 0zM965.5 427.4a1.10 1.10 0 1 0 2.20 0a1.10 1.10 0 1 0 -2.20 0zM966.7 427.6a1.13 1.13 0 1 0 2.27 0a1.13 1.13 0 1 0 -2.27 0zM966.7 430.0a1.16 1.16 0 1 0 2.32 0a1.16 1.16 0 1 0 -2.32 0zM978.6 427.0a1.06 1.06 0 1 0 2.13 0a1.06 1.06 0 1 0 -2.13 0zM983.6 427.0a1.25 1.25 0 1 0 2.51 0a1.25 1.25 0 1 0 -2.51 0zM985.1 427.5a0.96 0.96 0 1 0 1.92 0a0.96 0.96 0 1 0 -1.92 0zM989.0 427.3a1.08 1.08 0 1 0 2.16 0a1.08 1.08 0 1 0 -2.16 0z" fill="#231f20" clip-path="url(#c1)"/>
<path d="M686.6 496.5 L687.9 496.7 L689.2 496.5 L690.5 496.5 L691.8 496.4 L693.1 496.6 L694.4 496.5 L695.7 496.5 L697.1 496.6 L698.4 496.3 L699.7 496.4 L701.0 496.5 L702.3 496.4 L703.6 496.4 L704.9 496.6 L706.2 496.3 L707.5 496.7 L708.8 496.5 L710.1 496.6 L711.4 496.6 L712.7 496.3 L714.0 496.6 L715.3 496.5 L716.6 496.5 L718.0 496.6 L719.3 496.5 L720.6 496.5 L721.9 496.6 L723.2 496.5 L724.5 496.7 L725.8 496.4 L727.1 496.5 L728.4 496.5 L729.7 496.5 L731.0 496.4 L732.3 496.4 L733.6 496.4 L734.9 496.6 L736.2 496.5 L737.5 496.6 L738.9 496.6 L740.2 496.5 L741.5 496.6 L742.8 496.5 L744.1 496.5 L745.4 496.5 L746.7 496.6 L748.0 496.6 L748.0 496.5 L748.2 496.3 L748.6 496.4 L748.9 496.4 L749.3 496.0 L749.8 495.9 L750.2 495.9 L750.7 495.9 L751.2 495.7 L751.7 495.4 L752.2 495.0 L752.6 494.8 L753.0 494.4 L753.4 494.3 L753.7 493.7 L754.1 493.0 L754.4 492.4 L754.7 492.1 L755.1 491.6 L755.4 490.7 L755.7 490.1 L756.0 489.7 L756.3 489.1 L756.7 488.3 L757.0 488.0 L757.3 487.4 L757.6 487.2 L757.9 486.8 L758.1 486.4 L758.4 486.1 L758.7 485.8 L759.0 485.5 L759.3 485.2 L759.6 484.8 L760.0 484.5 L760.5 484.3 L761.0 483.7 L761.6 483.4 L762.1 483.0 L762.8 482.6 L763.4 482.1 L764.1 481.5 L764.8 481.2 L765.6 480.6 L766.4 480.2 L767.2 479.6 L768.1 479.3 L769.0 478.4 L770.0 477.9 L771.0 477.4 L772.2 476.7 L773.4 476.3 L774.7 475.4 L776.0 474.7 L777.3 474.0 L778.7 473.5 L780.0 472.9 L781.3 472.1 L782.6 471.6 L783.8 471.0 L785.0 470.6 L786.1 470.2 L787.2 469.6 L788.3 469.3 L789.4 469.1 L790.4 468.3 L791.4 468.4 L792.4 468.1 L793.4 467.8 L794.4 467.7 L795.3 467.1 L796.1 467.5 L797.0 466.8 L797.8 466.9 L798.6 466.8 L799.4 466.6 L800.1 466.5 L800.8 466.4 L801.4 466.4 L802.1 466.5 L802.7 466.2 L803.3 466.2 L803.9 466.3 L804.5 466.2 L805.0 466.0 L805.5 466.1 L806.0 466.2 L806.5 466.1 L806.9 466.1 L807.3 466.0 L807.7 466.3 L808.1 466.2 L808.4 466.0 L808.8 466.1 L809.2 465.9 L809.6 466.1 L810.0 466.3 L810.4 466.4 L810.8 466.4 L811.2 466.9 L811.7 466.5 L812.1 466.7 L812.5 467.1 L812.9 467.4 L813.3 467.4 L813.8 467.9 L814.2 468.0 L814.6 468.3 L815.0 468.6 L815.4 468.8 L815.8 469.1 L816.2 469.6 L816.7 470.2 L817.1 470.6 L817.5 470.9 L817.9 471.4 L818.3 471.7 L818.8 472.2 L819.2 472.8 L819.6 473.2 L820.0 473.3 L820.4 473.9 L820.8 474.1 L821.1 474.7 L821.5 475.0 L821.8 475.5 L822.2 475.5 L822.6 475.9 L823.0 476.3 L823.4 476.4 L823.9 476.8 L824.4 477.1 L825.0 477.4 L825.6 477.8 L826.3 478.0 L827.0 478.6 L827.8 478.8 L828.6 479.2 L829.4 479.4 L830.2 480.0 L831.1 480.1 L832.0 480.7 L833.0 480.9 L834.0 481.3 L835.0 481.6 L836.1 482.1 L837.2 482.5 L838.3 482.6 L839.4 483.3 L840.6 483.6 L841.9 483.8 L843.1 484.4 L844.4 484.8 L845.8 485.0 L847.2 485.6 L848.6 485.9 L850.0 486.0 L851.5 486.3 L852.9 486.4 L854.4 486.8 L855.9 486.8 L857.5 487.0 L859.1 487.2 L860.7 487.3 L862.4 487.5 L864.2 487.6 L866.0 487.7 L868.0 487.8 L870.0 487.9 L872.1 487.8 L874.4 487.9 L876.8 488.0 L879.3 487.7 L881.8 487.5 L884.4 487.5 L885.7 487.5 L887.0 487.6 L888.3 487.3 L889.6 487.2 L890.9 487.2 L892.3 487.1 L893.6 487.3 L894.9 487.1 L897.5 487.0 L900.0 487.0 L902.6 487.1 L904.0 486.8 L905.3 486.9 L906.8 486.8 L908.2 486.9 L909.7 486.8 L911.1 486.6 L912.6 486.6 L914.0 486.7 L915.4 486.6 L916.9 486.9 L918.3 486.6 L919.6 486.8 L922.2 486.7 L924.6 486.7 L926.7 486.6 L928.6 486.3 L930.0 486.4 L931.3 486.6 L932.6 486.6 L933.9 486.7 L935.2 486.4 L936.5 486.6 L937.8 486.5 L939.1 486.5 L940.4 486.6 L941.8 486.6 L943.1 486.6 L944.4 486.6 L945.7 486.5 L947.0 486.5 L948.3 486.3 L949.6 486.3 L950.9 486.5 L952.2 486.5 L953.5 486.5 L954.8 486.4 L956.1 486.6 L957.4 486.2 L958.7 486.6 L960.0 486.3 L961.3 486.5 L962.6 486.4 L964.0 486.3 L965.3 486.6 L966.6 486.3 L967.9 486.4 L969.2 486.7 L970.5 486.3 L971.8 486.5 L973.1 486.5 L974.4 486.4 L975.7 486.4 L977.0 486.5 L978.3 486.4 L979.6 486.4 L980.9 486.4 L982.2 486.5 L983.5 486.3 L984.8 486.3 L986.2 486.4 L987.5 486.3 L988.8 486.2 L990.1 486.4 L991.4 486.5 L992.7 486.4 L994.0 486.5 L995.3 486.7 L996.6 486.4" fill="none" stroke="#231f20" stroke-width="2.6" stroke-linejoin="round" stroke-linecap="butt" clip-path="url(#c1)"/>
<path d="M756.8 485.5a1.07 1.07 0 1 0 2.14 0a1.07 1.07 0 1 0 -2.14 0z" fill="#231f20" clip-path="url(#c1)"/>
<clipPath id="c2"><rect x="215" y="666" width="311" height="186"/></clipPath>
<rect x="215" y="666" width="1" height="186" fill="#0d0d0d"/>
<rect x="246" y="666" width="1" height="186" fill="#0d0d0d"/>
<rect x="277" y="666" width="1" height="186" fill="#0d0d0d"/>
<rect x="308" y="666" width="1" height="186" fill="#0d0d0d"/>
<rect x="340" y="666" width="1" height="186" fill="#0d0d0d"/>
<rect x="371" y="666" width="1" height="186" fill="#0d0d0d"/>
<rect x="402" y="666" width="1" height="186" fill="#0d0d0d"/>
<rect x="433" y="666" width="1" height="186" fill="#0d0d0d"/>
<rect x="464" y="666" width="1" height="186" fill="#0d0d0d"/>
<rect x="495" y="666" width="1" height="186" fill="#0d0d0d"/>
<rect x="525" y="666" width="1" height="186" fill="#b0b0b0"/>
<rect x="215" y="666" width="311" height="1" fill="#0d0d0d"/>
<rect x="215" y="685" width="311" height="1" fill="#0d0d0d"/>
<rect x="215" y="703" width="311" height="1" fill="#0d0d0d"/>
<rect x="215" y="722" width="311" height="1" fill="#0d0d0d"/>
<rect x="215" y="740" width="311" height="1" fill="#0d0d0d"/>
<rect x="215" y="759" width="311" height="1" fill="#0d0d0d"/>
<rect x="215" y="777" width="311" height="1" fill="#0d0d0d"/>
<rect x="215" y="796" width="311" height="1" fill="#0d0d0d"/>
<rect x="215" y="814" width="311" height="1" fill="#0d0d0d"/>
<rect x="215" y="832" width="311" height="1" fill="#0d0d0d"/>
<rect x="215" y="851" width="311" height="1" fill="#0d0d0d"/>
<path d="M215.5 721.7 L216.8 721.5 L218.1 721.4 L219.5 721.6 L220.8 721.6 L222.1 721.4 L223.4 721.5 L224.7 721.7 L226.0 721.4 L227.4 721.4 L228.7 721.5 L230.0 721.6 L231.3 721.6 L232.6 721.5 L233.9 721.6 L235.3 721.4 L236.6 721.5 L237.9 721.4 L239.2 721.4 L240.5 721.3 L241.8 721.6 L243.2 721.4 L244.5 721.4 L245.8 721.5 L247.1 721.3 L248.4 721.3 L249.8 721.4 L251.1 721.4 L252.4 721.4 L253.7 721.5 L255.0 721.5 L256.3 721.5 L257.7 721.3 L259.0 721.3 L260.3 721.6 L261.6 721.4 L262.9 721.5 L264.2 721.3 L265.6 721.4 L266.9 721.6 L268.2 721.7 L269.5 721.5 L270.8 721.5 L272.1 721.5 L273.5 721.5 L274.8 721.4 L276.1 721.6 L276.1 720.2 L276.1 718.8 L276.1 717.5 L276.1 716.2 L276.1 714.8 L276.1 713.5 L276.2 712.2 L276.2 710.8 L276.2 709.5 L276.2 708.2 L276.2 706.8 L276.2 705.5 L276.2 704.2 L276.2 702.9 L276.2 701.5 L276.2 700.2 L276.2 698.9 L276.2 697.5 L276.2 696.2 L276.2 694.9 L276.2 693.5 L276.3 692.2 L276.3 690.9 L276.3 689.5 L276.3 688.2 L276.3 686.9 L276.3 685.5 L276.3 684.1 L277.6 684.2 L278.9 684.2 L280.2 684.0 L281.5 684.2 L282.8 684.4 L284.1 683.9 L285.4 684.2 L286.7 684.5 L288.0 684.1 L289.3 684.2 L290.7 684.3 L292.0 684.4 L293.3 683.9 L294.6 684.3 L295.9 684.1 L297.2 684.2 L298.5 684.1 L299.8 684.1 L301.1 684.2 L302.4 684.2 L303.7 684.1 L305.0 684.1 L306.3 684.4 L307.6 684.1 L308.9 684.2 L310.2 684.4 L311.5 684.2 L312.8 684.1 L314.1 684.0 L315.4 684.2 L316.7 684.2 L318.1 684.2 L319.4 684.3 L320.7 684.2 L322.0 684.2 L323.3 684.3 L324.6 684.2 L325.9 684.3 L327.2 684.2 L328.5 684.2 L329.8 684.1 L331.1 684.1 L332.4 684.4 L333.7 684.2 L335.0 684.3 L336.3 684.1 L337.6 684.0 L338.9 684.1 L340.2 684.2 L341.5 684.2 L342.8 684.2 L344.1 684.3 L345.4 684.0 L346.8 684.0 L348.1 684.2 L349.4 684.0 L350.7 684.2 L352.0 684.2 L353.3 684.0 L354.6 684.4 L355.9 684.2 L357.2 684.2 L358.5 684.2 L359.8 684.1 L361.1 684.0 L362.4 684.2 L363.7 684.1 L365.0 684.1 L366.3 684.2 L367.6 684.0 L368.9 684.2 L370.2 683.9 L371.5 683.9 L372.8 684.2 L374.2 684.3 L375.5 684.3 L376.8 684.4 L378.1 684.1 L379.4 684.3 L380.7 684.4 L382.0 684.2 L383.3 683.9 L384.6 684.2 L385.9 684.1 L387.2 684.0 L388.5 684.3 L389.8 684.3 L391.1 684.1 L392.4 684.4 L393.7 684.2 L395.0 684.1 L396.3 684.3 L397.6 684.1 L398.9 684.1 L400.2 684.1 L401.6 684.2 L402.9 684.2 L404.2 684.4 L405.5 684.1 L406.8 684.3 L408.1 684.1 L409.4 684.1 L410.7 684.3 L412.0 684.1 L413.3 684.2 L414.6 684.0 L415.9 684.3 L417.2 684.2 L418.5 684.2 L419.8 684.1 L421.1 684.1 L422.4 684.1 L423.7 684.3 L425.0 684.1 L426.3 684.3 L427.6 684.2 L429.0 684.1 L430.3 684.0 L431.6 684.2 L432.9 684.2 L434.2 684.1 L435.5 684.1 L436.8 684.4 L438.1 683.9 L439.4 684.1 L440.7 684.3 L442.0 684.4 L443.3 684.2 L444.6 684.1 L445.9 684.2 L447.2 684.4 L448.5 684.1 L449.8 684.2 L451.1 684.3 L452.4 684.2 L453.7 683.8 L455.0 684.3 L456.4 684.3 L457.7 684.2 L459.0 684.2 L460.3 684.0 L461.6 684.2 L462.9 684.1 L464.2 684.1 L465.5 684.1 L466.8 684.3 L468.1 684.1 L469.4 684.4 L470.7 684.1 L472.0 684.1 L473.3 684.2 L474.6 684.1 L475.9 684.4 L477.2 684.4 L478.5 684.0 L479.8 684.2 L481.1 684.3 L482.4 684.1 L483.7 684.4 L485.1 684.1 L486.4 684.1 L487.7 684.3 L489.0 684.1 L490.3 684.1 L491.6 684.3 L492.9 684.3 L494.2 684.2 L495.5 684.2 L496.8 684.1 L498.1 684.1 L499.4 684.2 L500.7 684.4 L502.0 684.2 L503.3 684.3 L504.6 684.3 L505.9 683.9 L507.2 684.4 L508.5 684.3 L509.8 684.1 L511.1 684.1 L512.5 684.3 L513.8 684.3 L515.1 684.2 L516.4 684.2 L517.7 684.3 L519.0 684.3 L520.3 684.4 L521.6 684.1 L522.9 683.9 L524.2 684.1 L525.5 684.3" fill="none" stroke="#231f20" stroke-width="2.7" stroke-linejoin="round" stroke-linecap="butt" clip-path="url(#c2)"/>
<path d="M215.7 720.3a1.13 1.13 0 1 0 2.27 0a1.13 1.13 0 1 0 -2.27 0zM254.1 720.1a0.96 0.96 0 1 0 1.92 0a0.96 0.96 0 1 0 -1.92 0zM255.2 720.2a1.02 1.02 0 1 0 2.04 0a1.02 1.02 0 1 0 -2.04 0zM267.1 720.3a1.11 1.11 0 1 0 2.22 0a1.11 1.11 0 1 0 -2.22 0zM268.4 720.0a0.96 0.96 0 1 0 1.92 0a0.96 0.96 0 1 0 -1.92 0zM272.4 720.4a1.09 1.09 0 1 0 2.19 0a1.09 1.09 0 1 0 -2.19 0zM273.7 720.2a1.01 1.01 0 1 0 2.01 0a1.01 1.01 0 1 0 -2.01 0zM280.4 685.6a1.13 1.13 0 1 0 2.26 0a1.13 1.13 0 1 0 -2.26 0zM305.2 685.7a1.12 1.12 0 1 0 2.25 0a1.12 1.12 0 1 0 -2.25 0zM322.2 682.9a1.05 1.05 0 1 0 2.10 0a1.05 1.05 0 1 0 -2.10 0zM323.6 682.7a0.98 0.98 0 1 0 1.95 0a0.98 0.98 0 1 0 -1.95 0zM341.6 685.7a1.25 1.25 0 1 0 2.50 0a1.25 1.25 0 1 0 -2.50 0zM343.2 683.0a0.93 0.93 0 1 0 1.87 0a0.93 0.93 0 1 0 -1.87 0zM344.2 683.0a1.17 1.17 0 1 0 2.34 0a1.17 1.17 0 1 0 -2.34 0zM350.8 682.8a1.18 1.18 0 1 0 2.36 0a1.18 1.18 0 1 0 -2.36 0zM353.3 682.8a1.26 1.26 0 1 0 2.52 0a1.26 1.26 0 1 0 -2.52 0zM354.7 682.9a1.12 1.12 0 1 0 2.24 0a1.12 1.12 0 1 0 -2.24 0zM371.7 683.2a1.19 1.19 0 1 0 2.38 0a1.19 1.19 0 1 0 -2.38 0zM391.3 682.6a1.14 1.14 0 1 0 2.28 0a1.14 1.14 0 1 0 -2.28 0zM392.6 683.2a1.00 1.00 0 1 0 2.01 0a1.00 1.00 0 1 0 -2.01 0zM395.3 685.4a1.05 1.05 0 1 0 2.09 0a1.05 1.05 0 1 0 -2.09 0zM396.4 685.2a1.13 1.13 0 1 0 2.26 0a1.13 1.13 0 1 0 -2.26 0zM414.7 685.3a1.23 1.23 0 1 0 2.46 0a1.23 1.23 0 1 0 -2.46 0zM416.1 685.3a1.05 1.05 0 1 0 2.09 0a1.05 1.05 0 1 0 -2.09 0zM428.0 683.2a0.92 0.92 0 1 0 1.84 0a0.92 0.92 0 1 0 -1.84 0zM435.5 685.8a1.25 1.25 0 1 0 2.51 0a1.25 1.25 0 1 0 -2.51 0zM436.9 685.1a1.11 1.11 0 1 0 2.22 0a1.11 1.11 0 1 0 -2.22 0zM437.2 683.2a0.90 0.90 0 1 0 1.79 0a0.90 0.90 0 1 0 -1.79 0zM439.6 683.2a1.05 1.05 0 1 0 2.11 0a1.05 1.05 0 1 0 -2.11 0zM440.9 683.1a1.02 1.02 0 1 0 2.03 0a1.02 1.02 0 1 0 -2.03 0zM453.9 683.2a1.15 1.15 0 1 0 2.29 0a1.15 1.15 0 1 0 -2.29 0zM455.2 682.9a1.06 1.06 0 1 0 2.12 0a1.06 1.06 0 1 0 -2.12 0zM482.5 683.0a1.21 1.21 0 1 0 2.42 0a1.21 1.21 0 1 0 -2.42 0zM483.8 683.1a1.11 1.11 0 1 0 2.22 0a1.11 1.11 0 1 0 -2.22 0zM498.5 683.2a0.95 0.95 0 1 0 1.90 0a0.95 0.95 0 1 0 -1.90 0zM502.4 682.9a0.91 0.91 0 1 0 1.83 0a0.91 0.91 0 1 0 -1.83 0zM503.5 682.7a0.98 0.98 0 1 0 1.95 0a0.98 0.98 0 1 0 -1.95 0zM524.4 682.9a1.08 1.08 0 1 0 2.15 0a1.08 1.08 0 1 0 -2.15 0z" fill="#231f20" clip-path="url(#c2)"/>
<path d="M215.5 759.9 L216.8 759.9 L218.1 759.6 L219.4 759.9 L220.7 759.9 L222.0 760.0 L223.3 760.2 L224.6 759.6 L225.9 760.4 L227.2 760.0 L228.5 759.8 L229.8 760.8 L231.1 759.9 L232.4 759.8 L233.7 760.1 L235.0 759.6 L236.3 759.9 L237.6 759.5 L238.9 760.3 L240.2 759.8 L241.5 759.9 L242.8 759.6 L244.1 760.1 L245.4 760.0 L246.8 759.7 L248.1 759.6 L249.4 759.7 L250.7 760.0 L252.0 759.8 L253.3 760.5 L254.6 760.1 L255.9 760.0 L257.2 760.1 L258.5 760.0 L259.8 759.5 L261.1 759.8 L262.4 759.7 L263.7 760.0 L265.0 760.0 L266.3 759.7 L267.6 760.2 L268.9 760.2 L270.2 760.0 L271.5 759.8 L272.8 759.9 L274.1 759.5 L275.4 760.1 L276.7 759.7 L278.0 759.9 L278.0 759.9 L278.2 759.1 L278.4 759.8 L278.7 759.9 L279.0 760.1 L279.3 760.1 L279.6 759.5 L280.0 759.6 L280.5 759.5 L281.0 759.5 L281.6 759.4 L282.3 758.6 L283.0 758.0 L283.8 757.3 L284.8 756.3 L285.8 756.1 L286.9 754.3 L288.0 753.7 L289.2 753.0 L290.4 751.7 L291.7 751.1 L293.0 750.1 L294.3 748.3 L295.7 746.7 L297.0 745.8 L298.4 745.0 L299.8 744.0 L301.3 742.7 L302.8 740.9 L304.4 740.2 L305.9 739.1 L307.5 737.9 L309.1 736.8 L310.6 735.9 L312.1 734.3 L313.6 732.7 L315.0 732.7 L316.4 730.6 L317.7 729.8 L319.1 728.7 L320.5 727.1 L321.8 726.8 L323.1 725.0 L324.3 724.4 L325.6 723.0 L326.8 722.4 L327.9 721.6 L329.0 720.7 L330.0 719.8 L330.9 719.7 L331.8 718.6 L332.6 718.0 L333.4 717.5 L334.1 716.8 L334.8 716.8 L335.4 717.3 L336.1 716.3 L336.7 716.5 L337.4 715.8 L338.1 715.2 L338.8 715.1 L339.5 715.1 L340.3 715.2 L341.0 714.9 L341.7 714.9 L342.5 714.2 L343.2 714.6 L343.9 714.2 L344.7 714.5 L345.5 713.9 L346.3 714.4 L347.1 714.3 L348.0 714.0 L348.9 713.9 L350.0 713.9 L351.1 713.3 L352.2 714.0 L353.4 714.1 L354.6 714.0 L355.7 713.3 L356.8 714.2 L357.8 714.1 L358.7 713.9 L359.4 713.4 L360.0 714.0 L361.3 713.3 L362.6 713.6 L363.9 713.2 L365.2 714.3 L366.5 713.0 L367.8 713.9 L369.1 714.0 L370.4 713.8 L371.7 713.6 L373.0 714.2 L374.3 713.0 L375.6 714.1 L376.9 713.6 L378.2 713.4 L379.5 713.6 L380.9 713.5 L382.2 713.9 L383.5 713.2 L384.8 714.0 L386.1 713.5 L387.4 713.4 L388.7 714.1 L390.0 713.3 L391.3 713.8 L392.6 713.6 L393.9 713.4 L395.2 713.6 L396.5 713.7 L397.8 713.4 L399.1 713.7 L400.4 713.9 L401.7 713.4 L403.0 713.5 L404.3 713.5 L405.6 713.7 L406.9 713.9 L408.2 713.5 L409.5 713.0 L410.8 713.6 L412.1 713.2 L413.4 713.3 L414.7 714.0 L416.0 714.0 L417.3 713.4 L418.6 713.8 L419.9 713.6 L421.2 713.7 L422.6 714.0 L423.9 713.8 L425.2 713.3 L426.5 714.2 L427.8 713.3 L429.1 713.3 L430.4 713.2 L431.7 713.8 L433.0 713.3 L434.3 713.9 L435.6 713.6 L436.9 713.8 L438.2 713.6 L439.5 713.6 L440.8 713.7 L442.1 713.5 L443.4 713.7 L444.7 713.5 L446.0 713.7 L447.3 713.5 L448.6 714.5 L449.9 713.7 L451.2 713.9 L452.5 713.2 L453.8 714.2 L455.1 713.8 L456.4 714.3 L457.7 714.0 L459.0 713.6 L460.3 714.0 L461.6 713.4 L462.9 713.8 L464.3 713.8 L465.6 713.7 L466.9 713.2 L468.2 713.8 L469.5 713.5 L470.8 714.0 L472.1 713.3 L473.4 713.6 L474.7 713.8 L476.0 713.7 L477.3 713.8 L478.6 714.1 L479.9 713.4 L481.2 713.6 L482.5 713.7 L483.8 714.4 L485.1 713.2 L486.4 713.7 L487.7 714.0 L489.0 713.9 L490.3 713.6 L491.6 713.2 L492.9 713.6 L494.2 714.0 L495.5 713.5 L496.8 713.6 L498.1 713.7 L499.4 713.9 L500.7 713.8 L502.0 713.3 L503.3 713.7 L504.6 713.9 L506.0 713.5 L507.3 714.1 L508.6 713.4 L509.9 713.8 L511.2 713.6 L512.5 714.2 L513.8 713.7 L515.1 713.6 L516.4 713.6 L517.7 713.5 L519.0 713.2 L520.3 713.7 L521.6 713.6 L522.9 713.4 L524.2 713.1 L525.5 713.7" fill="none" stroke="#231f20" stroke-width="3.0" stroke-linejoin="round" stroke-linecap="butt" clip-path="url(#c2)"/>
<path d="M215.8 758.6a1.01 1.01 0 1 0 2.01 0a1.01 1.01 0 1 0 -2.01 0zM217.1 758.6a0.91 0.91 0 1 0 1.82 0a0.91 0.91 0 1 0 -1.82 0zM227.5 758.7a1.01 1.01 0 1 0 2.02 0a1.01 1.01 0 1 0 -2.02 0zM234.0 758.6a1.03 1.03 0 1 0 2.05 0a1.03 1.03 0 1 0 -2.05 0zM235.3 758.6a0.98 0.98 0 1 0 1.96 0a0.98 0.98 0 1 0 -1.96 0zM235.3 761.4a1.02 1.02 0 1 0 2.05 0a1.02 1.02 0 1 0 -2.05 0zM236.5 761.2a1.07 1.07 0 1 0 2.15 0a1.07 1.07 0 1 0 -2.15 0zM252.4 758.4a0.89 0.89 0 1 0 1.77 0a0.89 0.89 0 1 0 -1.77 0zM257.5 758.7a0.92 0.92 0 1 0 1.84 0a0.92 0.92 0 1 0 -1.84 0zM258.5 758.4a1.19 1.19 0 1 0 2.39 0a1.19 1.19 0 1 0 -2.39 0zM264.0 758.6a0.97 0.97 0 1 0 1.94 0a0.97 0.97 0 1 0 -1.94 0zM265.1 758.6a1.20 1.20 0 1 0 2.41 0a1.20 1.20 0 1 0 -2.41 0zM266.3 758.4a1.20 1.20 0 1 0 2.41 0a1.20 1.20 0 1 0 -2.41 0zM272.9 758.7a1.24 1.24 0 1 0 2.47 0a1.24 1.24 0 1 0 -2.47 0zM277.2 758.5a1.00 1.00 0 1 0 1.99 0a1.00 1.00 0 1 0 -1.99 0zM279.5 758.3a1.01 1.01 0 1 0 2.02 0a1.01 1.01 0 1 0 -2.02 0zM280.6 758.3a1.12 1.12 0 1 0 2.25 0a1.12 1.12 0 1 0 -2.25 0zM280.4 757.5a1.17 1.17 0 1 0 2.34 0a1.17 1.17 0 1 0 -2.34 0zM281.8 757.9a1.01 1.01 0 1 0 2.02 0a1.01 1.01 0 1 0 -2.02 0zM283.8 755.0a0.94 0.94 0 1 0 1.89 0a0.94 0.94 0 1 0 -1.89 0zM285.0 754.9a0.99 0.99 0 1 0 1.98 0a0.99 0.99 0 1 0 -1.98 0zM285.9 756.0a0.97 0.97 0 1 0 1.94 0a0.97 0.97 0 1 0 -1.94 0zM287.0 756.0a1.06 1.06 0 1 0 2.12 0a1.06 1.06 0 1 0 -2.12 0zM288.2 751.4a0.96 0.96 0 1 0 1.91 0a0.96 0.96 0 1 0 -1.91 0zM289.5 751.7a0.92 0.92 0 1 0 1.84 0a0.92 0.92 0 1 0 -1.84 0zM297.4 743.3a0.92 0.92 0 1 0 1.84 0a0.92 0.92 0 1 0 -1.84 0zM298.8 742.2a0.97 0.97 0 1 0 1.94 0a0.97 0.97 0 1 0 -1.94 0zM300.3 743.7a1.01 1.01 0 1 0 2.02 0a1.01 1.01 0 1 0 -2.02 0zM301.4 743.7a1.14 1.14 0 1 0 2.27 0a1.14 1.14 0 1 0 -2.27 0zM309.7 733.8a0.94 0.94 0 1 0 1.88 0a0.94 0.94 0 1 0 -1.88 0zM310.9 734.4a0.95 0.95 0 1 0 1.89 0a0.95 0.95 0 1 0 -1.89 0zM320.7 724.6a1.10 1.10 0 1 0 2.21 0a1.10 1.10 0 1 0 -2.21 0zM331.4 716.6a1.21 1.21 0 1 0 2.41 0a1.21 1.21 0 1 0 -2.41 0zM332.8 716.9a1.07 1.07 0 1 0 2.13 0a1.07 1.07 0 1 0 -2.13 0zM333.6 715.4a1.19 1.19 0 1 0 2.37 0a1.19 1.19 0 1 0 -2.37 0zM334.9 714.9a1.18 1.18 0 1 0 2.37 0a1.18 1.18 0 1 0 -2.37 0zM338.5 714.0a1.02 1.02 0 1 0 2.03 0a1.02 1.02 0 1 0 -2.03 0zM342.2 712.9a1.02 1.02 0 1 0 2.05 0a1.02 1.02 0 1 0 -2.05 0zM342.7 715.6a1.22 1.22 0 1 0 2.45 0a1.22 1.22 0 1 0 -2.45 0zM362.9 712.5a1.03 1.03 0 1 0 2.05 0a1.03 1.03 0 1 0 -2.05 0zM364.2 712.4a0.93 0.93 0 1 0 1.86 0a0.93 0.93 0 1 0 -1.86 0zM366.7 712.5a1.11 1.11 0 1 0 2.21 0a1.11 1.11 0 1 0 -2.21 0zM382.6 712.0a0.90 0.90 0 1 0 1.81 0a0.90 0.90 0 1 0 -1.81 0zM383.6 712.4a1.10 1.10 0 1 0 2.21 0a1.10 1.10 0 1 0 -2.21 0zM396.8 712.6a0.99 0.99 0 1 0 1.97 0a0.99 0.99 0 1 0 -1.97 0zM399.2 712.3a1.23 1.23 0 1 0 2.47 0a1.23 1.23 0 1 0 -2.47 0zM403.3 712.2a1.02 1.02 0 1 0 2.03 0a1.02 1.02 0 1 0 -2.03 0zM404.5 712.5a1.11 1.11 0 1 0 2.22 0a1.11 1.11 0 1 0 -2.22 0zM409.6 712.3a1.24 1.24 0 1 0 2.48 0a1.24 1.24 0 1 0 -2.48 0zM419.1 712.6a0.88 0.88 0 1 0 1.76 0a0.88 0.88 0 1 0 -1.76 0zM424.0 715.3a1.17 1.17 0 1 0 2.34 0a1.17 1.17 0 1 0 -2.34 0zM428.0 711.9a1.03 1.03 0 1 0 2.06 0a1.03 1.03 0 1 0 -2.06 0zM435.7 712.6a1.20 1.20 0 1 0 2.41 0a1.20 1.20 0 1 0 -2.41 0zM437.0 712.8a1.09 1.09 0 1 0 2.18 0a1.09 1.09 0 1 0 -2.18 0zM436.9 712.2a1.26 1.26 0 1 0 2.51 0a1.26 1.26 0 1 0 -2.51 0zM452.7 715.1a1.08 1.08 0 1 0 2.15 0a1.08 1.08 0 1 0 -2.15 0zM458.0 712.2a1.05 1.05 0 1 0 2.09 0a1.05 1.05 0 1 0 -2.09 0zM463.1 712.6a1.18 1.18 0 1 0 2.36 0a1.18 1.18 0 1 0 -2.36 0zM468.3 712.1a1.16 1.16 0 1 0 2.31 0a1.16 1.16 0 1 0 -2.31 0zM469.8 712.6a0.88 0.88 0 1 0 1.77 0a0.88 0.88 0 1 0 -1.77 0zM478.9 715.5a1.02 1.02 0 1 0 2.04 0a1.02 1.02 0 1 0 -2.04 0zM493.1 715.0a1.11 1.11 0 1 0 2.21 0a1.11 1.11 0 1 0 -2.21 0zM494.3 714.6a1.15 1.15 0 1 0 2.31 0a1.15 1.15 0 1 0 -2.31 0zM503.4 711.9a1.24 1.24 0 1 0 2.49 0a1.24 1.24 0 1 0 -2.49 0zM504.7 712.3a1.18 1.18 0 1 0 2.37 0a1.18 1.18 0 1 0 -2.37 0zM517.8 712.0a1.20 1.20 0 1 0 2.39 0a1.20 1.20 0 1 0 -2.39 0zM519.4 715.4a0.89 0.89 0 1 0 1.79 0a0.89 0.89 0 1 0 -1.79 0zM520.3 714.8a1.19 1.19 0 1 0 2.37 0a1.19 1.19 0 1 0 -2.37 0zM524.3 715.4a1.22 1.22 0 1 0 2.44 0a1.22 1.22 0 1 0 -2.44 0zM525.6 714.7a1.05 1.05 0 1 0 2.11 0a1.05 1.05 0 1 0 -2.11 0z" fill="#231f20" clip-path="url(#c2)"/>
<path d="M215.5 814.8 L216.8 814.6 L218.1 814.9 L219.4 814.8 L220.8 814.6 L222.1 814.7 L223.4 814.6 L224.7 814.7 L226.0 814.8 L227.3 814.8 L228.7 815.0 L230.0 815.0 L231.3 814.7 L232.6 814.8 L233.9 814.6 L235.2 814.7 L236.5 814.6 L237.9 814.7 L239.2 814.7 L240.5 814.6 L241.8 814.6 L243.1 814.7 L244.4 814.7 L245.8 814.8 L247.1 814.6 L248.4 814.7 L249.7 814.5 L251.0 814.7 L252.3 814.8 L253.6 814.4 L255.0 814.3 L256.3 815.1 L257.6 814.7 L258.9 814.7 L260.2 814.7 L261.5 814.9 L262.8 814.6 L264.2 815.0 L265.5 814.5 L266.8 814.7 L268.1 814.8 L269.4 815.1 L270.7 814.4 L272.1 814.5 L273.4 814.5 L274.7 815.0 L276.0 814.5 L276.0 813.4 L276.0 812.1 L276.0 810.8 L276.0 809.5 L276.1 808.2 L276.1 806.9 L276.1 805.6 L276.1 804.3 L276.1 803.0 L276.1 801.6 L276.1 800.3 L276.1 799.0 L276.1 797.7 L276.2 796.4 L276.2 795.1 L276.2 793.8 L276.2 792.5 L276.2 791.0 L277.6 791.3 L279.0 791.2 L280.4 791.1 L281.8 791.3 L283.2 791.3 L284.6 791.1 L284.7 789.8 L284.9 788.3 L285.0 786.9 L285.1 785.5 L285.3 784.0 L285.4 782.4 L286.7 782.7 L288.0 782.7 L289.3 782.3 L290.7 782.7 L292.0 782.7 L293.3 782.3 L294.6 782.5 L295.9 782.4 L297.2 782.6 L298.5 782.6 L299.9 782.3 L301.2 782.8 L302.5 782.3 L303.8 782.1 L305.1 782.6 L306.4 782.0 L307.8 782.6 L309.1 782.5 L310.4 782.5 L311.7 782.6 L313.0 782.7 L314.3 782.4 L315.6 783.0 L317.0 782.5 L318.3 782.6 L319.6 782.6 L320.9 782.5 L322.2 782.4 L323.5 782.5 L324.9 782.8 L326.2 782.7 L327.5 782.5 L328.8 782.5 L330.1 782.7 L331.4 782.7 L332.7 782.7 L334.1 782.5 L335.4 782.2 L336.7 782.4 L338.0 782.7 L340.0 781.5 L341.3 781.2 L342.6 781.4 L343.9 781.4 L345.2 781.3 L346.5 781.4 L347.8 781.4 L349.1 781.1 L350.5 781.5 L351.8 781.6 L353.1 781.3 L354.4 782.0 L355.7 781.4 L357.0 781.4 L358.3 781.1 L359.6 781.5 L360.9 781.4 L362.2 781.5 L363.5 781.6 L364.8 781.6 L366.1 781.6 L367.4 781.5 L368.7 781.2 L370.0 781.5 L371.4 781.8 L372.7 781.0 L374.0 781.4 L375.3 781.5 L376.6 781.5 L377.9 781.5 L379.2 781.5 L380.5 781.5 L381.8 781.6 L383.1 781.0 L384.4 781.8 L385.7 781.6 L387.0 781.4 L388.3 781.3 L389.6 781.1 L390.9 781.4 L392.3 781.2 L393.6 781.7 L394.9 781.2 L396.2 781.5 L397.5 781.9 L398.8 781.7 L400.1 781.7 L401.4 781.7 L402.7 781.2 L404.0 781.6 L405.3 781.1 L406.6 781.1 L407.9 781.3 L409.2 781.3 L410.5 781.6 L411.8 781.7 L413.2 781.5 L414.5 781.6 L415.8 781.1 L417.1 781.8 L418.4 781.7 L419.7 781.5 L421.0 781.9 L422.3 781.6 L423.6 781.4 L424.9 781.4 L426.2 781.6 L427.5 781.5 L428.8 781.8 L430.1 781.2 L431.4 781.4 L432.8 781.7 L434.1 781.5 L435.4 781.5 L436.7 781.3 L438.0 781.5 L439.3 781.6 L440.6 781.1 L441.9 781.4 L443.2 781.5 L444.5 781.5 L445.8 781.3 L447.1 781.1 L448.4 781.6 L449.7 781.4 L451.0 781.5 L452.3 781.1 L453.7 781.1 L455.0 781.4 L456.3 781.3 L457.6 781.5 L458.9 781.1 L460.2 781.5 L461.5 781.3 L462.8 781.7 L464.1 781.6 L465.4 781.2 L466.7 781.7 L468.0 781.5 L469.3 781.5 L470.6 781.5 L471.9 781.8 L473.2 781.1 L474.6 781.5 L475.9 781.0 L477.2 781.6 L478.5 781.7 L479.8 781.6 L481.1 782.1 L482.4 781.6 L483.7 781.7 L485.0 781.2 L486.3 781.7 L487.6 781.7 L488.9 782.0 L490.2 781.6 L491.5 781.4 L492.8 781.3 L494.1 781.3 L495.5 781.6 L496.8 781.4 L498.1 781.3 L499.4 781.4 L500.7 781.5 L502.0 781.4 L503.3 781.3 L504.6 781.6 L505.9 781.1 L507.2 781.6 L508.5 781.1 L509.8 781.7 L511.1 781.3 L512.4 781.7 L513.7 781.8 L515.0 781.1 L516.4 781.7 L517.7 781.9 L519.0 781.5 L520.3 781.7 L521.6 781.4 L522.9 781.5 L524.2 781.7 L525.5 781.4" fill="none" stroke="#231f20" stroke-width="2.5" stroke-linejoin="round" stroke-linecap="butt" clip-path="url(#c2)"/>
<path d="M218.4 813.3a1.07 1.07 0 1 0 2.15 0a1.07 1.07 0 1 0 -2.15 0zM221.0 813.4a1.06 1.06 0 1 0 2.11 0a1.06 1.06 0 1 0 -2.11 0zM229.1 813.6a0.92 0.92 0 1 0 1.83 0a0.92 0.92 0 1 0 -1.83 0zM236.7 816.1a1.18 1.18 0 1 0 2.35 0a1.18 1.18 0 1 0 -2.35 0zM237.9 815.7a1.20 1.20 0 1 0 2.41 0a1.20 1.20 0 1 0 -2.41 0zM242.0 813.8a1.14 1.14 0 1 0 2.28 0a1.14 1.14 0 1 0 -2.28 0zM264.5 813.5a1.01 1.01 0 1 0 2.02 0a1.01 1.01 0 1 0 -2.02 0zM265.6 813.8a1.03 1.03 0 1 0 2.06 0a1.03 1.03 0 1 0 -2.06 0zM274.9 816.0a1.12 1.12 0 1 0 2.23 0a1.12 1.12 0 1 0 -2.23 0zM276.2 816.1a0.97 0.97 0 1 0 1.95 0a0.97 0.97 0 1 0 -1.95 0zM276.5 792.5a1.12 1.12 0 1 0 2.24 0a1.12 1.12 0 1 0 -2.24 0zM278.0 792.6a1.00 1.00 0 1 0 1.99 0a1.00 1.00 0 1 0 -1.99 0zM279.3 792.0a0.88 0.88 0 1 0 1.77 0a0.88 0.88 0 1 0 -1.77 0zM288.1 781.5a1.20 1.20 0 1 0 2.40 0a1.20 1.20 0 1 0 -2.40 0zM289.6 781.3a0.95 0.95 0 1 0 1.91 0a0.95 0.95 0 1 0 -1.91 0zM292.4 783.5a0.91 0.91 0 1 0 1.83 0a0.91 0.91 0 1 0 -1.83 0zM294.7 781.6a1.26 1.26 0 1 0 2.52 0a1.26 1.26 0 1 0 -2.52 0zM296.1 781.4a1.07 1.07 0 1 0 2.14 0a1.07 1.07 0 1 0 -2.14 0zM296.2 784.1a1.02 1.02 0 1 0 2.03 0a1.02 1.02 0 1 0 -2.03 0zM304.2 781.5a0.96 0.96 0 1 0 1.93 0a0.96 0.96 0 1 0 -1.93 0zM305.2 781.5a1.09 1.09 0 1 0 2.18 0a1.09 1.09 0 1 0 -2.18 0zM310.6 781.2a1.07 1.07 0 1 0 2.14 0a1.07 1.07 0 1 0 -2.14 0zM311.7 781.4a1.18 1.18 0 1 0 2.37 0a1.18 1.18 0 1 0 -2.37 0zM312.0 783.4a1.02 1.02 0 1 0 2.04 0a1.02 1.02 0 1 0 -2.04 0zM313.2 783.9a1.06 1.06 0 1 0 2.13 0a1.06 1.06 0 1 0 -2.13 0zM313.4 783.7a0.96 0.96 0 1 0 1.93 0a0.96 0.96 0 1 0 -1.93 0zM316.0 781.2a0.97 0.97 0 1 0 1.94 0a0.97 0.97 0 1 0 -1.94 0zM317.2 781.1a0.95 0.95 0 1 0 1.90 0a0.95 0.95 0 1 0 -1.90 0zM323.9 781.2a0.95 0.95 0 1 0 1.90 0a0.95 0.95 0 1 0 -1.90 0zM325.0 781.2a1.05 1.05 0 1 0 2.10 0a1.05 1.05 0 1 0 -2.10 0zM337.0 783.9a0.99 0.99 0 1 0 1.98 0a0.99 0.99 0 1 0 -1.98 0zM353.2 782.5a1.14 1.14 0 1 0 2.27 0a1.14 1.14 0 1 0 -2.27 0zM354.6 782.4a0.93 0.93 0 1 0 1.87 0a0.93 0.93 0 1 0 -1.87 0zM374.4 782.9a0.91 0.91 0 1 0 1.81 0a0.91 0.91 0 1 0 -1.81 0zM375.4 780.0a1.19 1.19 0 1 0 2.38 0a1.19 1.19 0 1 0 -2.38 0zM388.5 780.5a1.14 1.14 0 1 0 2.29 0a1.14 1.14 0 1 0 -2.29 0zM389.7 780.4a1.18 1.18 0 1 0 2.37 0a1.18 1.18 0 1 0 -2.37 0zM404.3 780.4a1.04 1.04 0 1 0 2.07 0a1.04 1.04 0 1 0 -2.07 0zM405.4 780.6a1.07 1.07 0 1 0 2.14 0a1.07 1.07 0 1 0 -2.14 0zM409.5 780.0a1.03 1.03 0 1 0 2.06 0a1.03 1.03 0 1 0 -2.06 0zM410.8 780.2a0.98 0.98 0 1 0 1.95 0a0.98 0.98 0 1 0 -1.95 0zM428.9 783.0a1.25 1.25 0 1 0 2.51 0a1.25 1.25 0 1 0 -2.51 0zM430.3 782.4a1.05 1.05 0 1 0 2.10 0a1.05 1.05 0 1 0 -2.10 0zM434.1 780.5a1.25 1.25 0 1 0 2.51 0a1.25 1.25 0 1 0 -2.51 0zM435.6 780.1a0.99 0.99 0 1 0 1.98 0a0.99 0.99 0 1 0 -1.98 0zM442.1 780.5a1.11 1.11 0 1 0 2.21 0a1.11 1.11 0 1 0 -2.21 0zM443.3 780.2a1.15 1.15 0 1 0 2.29 0a1.15 1.15 0 1 0 -2.29 0zM443.5 780.2a1.05 1.05 0 1 0 2.10 0a1.05 1.05 0 1 0 -2.10 0zM444.8 780.1a0.95 0.95 0 1 0 1.90 0a0.95 0.95 0 1 0 -1.90 0zM449.9 780.4a1.13 1.13 0 1 0 2.25 0a1.13 1.13 0 1 0 -2.25 0zM461.8 782.6a0.97 0.97 0 1 0 1.94 0a0.97 0.97 0 1 0 -1.94 0zM463.0 782.7a0.96 0.96 0 1 0 1.92 0a0.96 0.96 0 1 0 -1.92 0zM463.0 780.5a1.08 1.08 0 1 0 2.15 0a1.08 1.08 0 1 0 -2.15 0zM481.5 780.1a0.89 0.89 0 1 0 1.79 0a0.89 0.89 0 1 0 -1.79 0zM509.9 780.3a1.26 1.26 0 1 0 2.52 0a1.26 1.26 0 1 0 -2.52 0zM511.3 780.2a0.99 0.99 0 1 0 1.97 0a0.99 0.99 0 1 0 -1.97 0z" fill="#231f20" clip-path="url(#c2)"/>
<path d="M215.5 849.6 L216.8 849.5 L218.1 849.7 L219.4 849.6 L220.8 849.9 L222.1 849.6 L223.4 849.4 L224.7 849.5 L226.0 849.5 L227.3 849.5 L228.6 849.6 L229.9 849.7 L231.2 849.4 L232.6 849.8 L233.9 849.5 L235.2 849.8 L236.5 849.7 L237.8 849.5 L239.1 849.8 L240.4 849.6 L241.8 849.7 L243.1 849.6 L244.4 849.6 L245.7 849.6 L247.0 849.6 L248.3 849.5 L249.6 849.6 L250.9 849.5 L252.2 849.8 L253.6 849.8 L254.9 849.5 L256.2 849.5 L257.5 849.6 L258.8 849.5 L260.1 849.6 L261.4 849.6 L262.8 849.5 L264.1 849.8 L265.4 849.6 L266.7 849.8 L268.0 849.6 L269.3 849.6 L270.6 849.6 L271.9 849.6 L273.2 849.5 L274.6 849.6 L275.9 849.5 L277.2 849.5 L278.5 849.6 L278.5 849.6 L278.8 849.5 L279.2 849.2 L279.7 849.0 L280.2 848.8 L280.8 848.5 L281.4 847.9 L282.1 847.4 L282.7 847.0 L283.3 846.3 L283.9 846.1 L284.5 845.6 L285.0 845.2 L285.5 844.2 L285.9 843.7 L286.3 843.0 L286.7 842.2 L287.1 841.6 L287.4 840.6 L287.8 840.0 L288.2 839.3 L288.6 838.3 L289.1 837.5 L289.5 836.8 L290.0 835.8 L290.5 835.1 L291.1 834.5 L291.7 833.6 L292.2 833.0 L292.9 832.5 L293.5 831.6 L294.1 830.7 L294.8 830.1 L295.4 829.2 L296.0 828.4 L296.7 827.6 L297.3 827.3 L297.9 826.7 L298.6 826.0 L299.2 825.4 L299.8 824.9 L300.5 824.3 L301.1 823.8 L301.8 823.3 L302.4 822.3 L303.1 822.1 L303.7 821.5 L304.4 821.0 L305.0 820.4 L305.6 819.7 L306.3 819.4 L306.9 819.1 L307.5 818.7 L308.1 818.3 L308.8 817.5 L309.4 816.9 L310.0 816.6 L310.7 816.1 L311.3 815.7 L312.0 815.3 L312.7 814.9 L313.4 814.5 L314.2 814.3 L314.9 813.6 L315.7 813.2 L316.5 813.0 L317.3 812.5 L318.1 812.3 L318.8 811.7 L319.6 811.4 L320.4 811.1 L321.2 810.7 L322.0 810.3 L322.8 810.4 L323.6 809.9 L324.4 809.9 L325.2 809.6 L326.0 809.3 L326.8 809.2 L327.6 809.0 L328.4 808.8 L329.1 808.5 L329.9 808.3 L330.6 808.4 L331.2 808.3 L331.8 808.4 L332.4 808.3 L332.9 808.3 L333.4 808.0 L333.8 808.2 L334.3 808.4 L334.7 808.5 L335.1 808.6 L335.6 808.7 L336.0 808.6 L336.5 808.6 L337.0 808.9 L337.5 809.2 L338.0 809.7 L338.6 809.5 L339.1 809.8 L339.6 810.1 L340.1 810.4 L340.7 810.6 L341.2 810.6 L341.8 811.2 L342.4 811.5 L342.9 811.5 L343.5 812.1 L344.1 812.1 L344.7 812.5 L345.3 812.8 L345.9 813.3 L346.5 813.4 L347.2 813.9 L347.8 814.0 L348.4 814.1 L349.1 814.5 L349.7 815.2 L350.4 815.1 L351.0 815.4 L351.6 815.9 L352.3 816.1 L352.9 816.2 L353.6 816.6 L354.2 817.1 L354.9 817.4 L355.5 817.7 L356.2 817.8 L356.8 818.0 L357.5 818.4 L358.1 818.7 L358.8 818.7 L359.5 819.0 L360.1 819.2 L360.8 819.4 L361.5 819.7 L362.2 819.7 L362.9 820.0 L363.6 820.0 L364.3 820.3 L365.0 820.4 L365.6 820.5 L366.3 821.0 L367.0 820.9 L367.7 821.2 L368.3 821.1 L368.8 821.6 L369.4 821.6 L370.0 821.8 L370.6 822.0 L371.2 822.1 L371.8 822.3 L372.5 822.4 L373.3 822.7 L374.1 823.0 L375.0 823.2 L376.0 823.3 L377.1 823.2 L378.3 823.6 L379.6 823.6 L380.9 824.2 L382.2 824.2 L383.5 824.3 L384.9 824.5 L386.2 824.8 L387.5 824.9 L388.8 825.0 L390.0 825.3 L391.2 825.2 L392.4 825.3 L393.7 825.4 L395.0 825.9 L396.2 825.9 L397.4 825.8 L398.6 825.8 L399.7 826.2 L400.7 826.0 L401.6 826.0 L402.4 826.1 L403.0 826.1 L404.3 826.2 L405.6 826.0 L406.9 826.1 L408.2 826.3 L409.5 826.1 L410.8 826.3 L412.1 826.3 L413.4 826.1 L414.7 826.2 L416.0 826.3 L417.3 826.3 L418.6 826.4 L419.9 826.1 L421.2 826.1 L422.5 826.1 L423.9 826.1 L425.2 826.3 L426.5 826.2 L427.8 826.5 L429.1 826.2 L430.4 826.1 L431.7 826.3 L433.0 826.2 L434.3 826.2 L435.6 826.5 L436.9 826.3 L438.2 826.1 L439.5 826.2 L440.8 826.1 L442.1 826.5 L443.4 826.2 L444.7 826.3 L446.0 826.3 L447.3 826.1 L448.6 826.1 L449.9 826.0 L451.2 826.1 L452.5 826.3 L453.8 826.1 L455.1 826.2 L456.4 826.2 L457.7 826.1 L459.0 826.2 L460.3 826.4 L461.6 826.4 L462.9 826.2 L464.2 826.3 L465.6 826.3 L466.9 826.3 L468.2 826.1 L469.5 826.2 L470.8 826.2 L472.1 826.3 L473.4 826.2 L474.7 826.1 L476.0 826.1 L477.3 826.2 L478.6 826.2 L479.9 826.2 L481.2 826.3 L482.5 826.3 L483.8 825.9 L485.1 826.2 L486.4 826.2 L487.7 826.3 L489.0 826.1 L490.3 826.2 L491.6 826.3 L492.9 826.1 L494.2 826.3 L495.5 826.3 L496.8 826.2 L498.1 826.0 L499.4 826.1 L500.7 826.1 L502.0 826.2 L503.3 826.2 L504.6 826.2 L506.0 826.2 L507.3 826.2 L508.6 826.3 L509.9 826.1 L511.2 826.3 L512.5 826.3 L513.8 826.3 L515.1 826.3 L516.4 826.3 L517.7 826.1 L519.0 826.1 L520.3 826.4 L521.6 826.1 L522.9 826.1 L524.2 826.2 L525.5 825.9" fill="none" stroke="#231f20" stroke-width="2.6" stroke-linejoin="round" stroke-linecap="butt" clip-path="url(#c2)"/>
<path d="M307.1 816.8a1.08 1.08 0 1 0 2.15 0a1.08 1.08 0 1 0 -2.15 0zM309.0 815.7a1.02 1.02 0 1 0 2.04 0a1.02 1.02 0 1 0 -2.04 0zM426.7 825.2a1.08 1.08 0 1 0 2.16 0a1.08 1.08 0 1 0 -2.16 0zM471.2 825.1a0.92 0.92 0 1 0 1.83 0a0.92 0.92 0 1 0 -1.83 0zM472.3 825.1a0.99 0.99 0 1 0 1.98 0a0.99 0.99 0 1 0 -1.98 0z" fill="#231f20" clip-path="url(#c2)"/>
<clipPath id="c3"><rect x="677" y="666" width="310" height="186"/></clipPath>
<rect x="677" y="666" width="1" height="186" fill="#0d0d0d"/>
<rect x="708" y="666" width="1" height="186" fill="#0d0d0d"/>
<rect x="739" y="666" width="1" height="186" fill="#0d0d0d"/>
<rect x="770" y="666" width="1" height="186" fill="#0d0d0d"/>
<rect x="801" y="666" width="1" height="186" fill="#0d0d0d"/>
<rect x="833" y="666" width="1" height="186" fill="#0d0d0d"/>
<rect x="864" y="666" width="1" height="186" fill="#0d0d0d"/>
<rect x="895" y="666" width="1" height="186" fill="#0d0d0d"/>
<rect x="926" y="666" width="1" height="186" fill="#0d0d0d"/>
<rect x="957" y="666" width="1" height="186" fill="#0d0d0d"/>
<rect x="677" y="666" width="311" height="1" fill="#0d0d0d"/>
<rect x="677" y="685" width="311" height="1" fill="#0d0d0d"/>
<rect x="677" y="703" width="311" height="1" fill="#0d0d0d"/>
<rect x="677" y="722" width="311" height="1" fill="#0d0d0d"/>
<rect x="677" y="740" width="311" height="1" fill="#0d0d0d"/>
<rect x="677" y="759" width="311" height="1" fill="#0d0d0d"/>
<rect x="677" y="777" width="311" height="1" fill="#0d0d0d"/>
<rect x="677" y="796" width="311" height="1" fill="#0d0d0d"/>
<rect x="677" y="814" width="311" height="1" fill="#0d0d0d"/>
<rect x="677" y="832" width="311" height="1" fill="#0d0d0d"/>
<rect x="677" y="851" width="311" height="1" fill="#0d0d0d"/>
<path d="M677.5 721.3 L678.8 721.5 L680.1 721.4 L681.5 721.5 L682.8 721.4 L684.1 721.6 L685.4 721.6 L686.8 721.6 L688.1 721.4 L689.4 721.5 L690.7 721.5 L692.1 721.5 L693.4 721.5 L694.7 721.6 L696.0 721.3 L697.4 721.2 L698.7 721.6 L700.0 721.4 L701.3 721.5 L702.7 721.6 L704.0 721.6 L705.3 721.4 L706.6 721.4 L708.0 721.5 L709.3 721.7 L710.6 721.4 L711.9 721.5 L713.2 721.4 L714.6 721.6 L715.9 721.6 L717.2 721.4 L718.5 721.4 L719.9 721.5 L721.2 721.5 L722.5 721.3 L723.8 721.5 L725.2 721.3 L726.5 721.5 L727.8 721.4 L729.1 721.6 L730.5 721.4 L731.8 721.3 L733.1 721.5 L734.4 721.6 L735.8 721.5 L737.1 721.4 L738.4 721.5 L738.4 720.2 L738.4 718.8 L738.4 717.5 L738.4 716.1 L738.4 714.8 L738.4 713.5 L738.5 712.1 L738.5 710.8 L738.5 709.4 L738.5 708.1 L738.5 706.8 L738.5 705.4 L738.5 704.1 L738.5 702.8 L738.5 701.4 L738.5 700.1 L738.5 698.7 L738.5 697.4 L738.5 696.1 L738.5 694.7 L738.5 693.4 L738.6 692.0 L738.6 690.7 L738.6 689.4 L738.6 688.0 L738.6 686.7 L738.6 685.3 L738.6 684.0 L739.9 684.1 L741.2 684.1 L742.5 683.9 L743.8 683.9 L745.1 684.0 L746.4 684.2 L747.7 684.2 L749.0 683.9 L750.3 683.9 L751.7 684.0 L753.0 684.1 L754.3 684.0 L755.6 684.1 L756.9 684.0 L758.2 684.2 L759.5 684.1 L760.8 684.0 L762.1 683.9 L763.4 684.0 L764.7 683.9 L766.0 684.1 L767.3 684.1 L768.6 684.0 L769.9 683.9 L771.2 683.9 L772.5 684.0 L773.8 684.0 L775.1 683.9 L776.5 683.9 L777.8 683.8 L779.1 684.1 L780.4 684.0 L781.7 683.9 L783.0 684.1 L784.3 684.0 L785.6 683.9 L786.9 684.1 L788.2 683.9 L789.5 684.0 L790.8 684.0 L792.1 684.1 L793.4 683.9 L794.7 684.0 L796.0 684.0 L797.3 683.8 L798.6 684.0 L799.9 683.9 L801.3 684.0 L802.6 684.0 L803.9 684.4 L805.2 684.0 L806.5 683.9 L807.8 684.1 L809.1 684.1 L810.4 684.2 L811.7 683.9 L813.0 683.9 L814.3 684.1 L815.6 684.2 L816.9 684.0 L818.2 683.9 L819.5 683.9 L820.8 684.0 L822.1 683.8 L823.4 684.0 L824.7 683.9 L826.1 683.9 L827.4 683.9 L828.7 684.0 L830.0 683.8 L831.3 683.9 L832.6 684.2 L833.9 684.0 L835.2 684.0 L836.5 684.0 L837.8 684.0 L839.1 683.9 L840.4 684.1 L841.7 683.9 L843.0 684.1 L844.3 683.9 L845.6 684.1 L846.9 684.0 L848.2 684.0 L849.5 683.9 L850.9 683.7 L852.2 683.8 L853.5 683.8 L854.8 683.8 L856.1 683.8 L857.4 684.0 L858.7 684.1 L860.0 684.0 L861.3 684.0 L862.6 684.2 L863.9 684.1 L865.2 684.3 L866.5 684.0 L867.8 684.0 L869.1 684.1 L870.4 683.9 L871.7 684.0 L873.0 683.8 L874.3 684.2 L875.6 684.2 L877.0 684.0 L878.3 683.9 L879.6 684.0 L880.9 684.0 L882.2 683.9 L883.5 684.0 L884.8 684.0 L886.1 684.0 L887.4 684.1 L888.7 683.9 L890.0 684.1 L891.3 684.1 L892.6 684.0 L893.9 683.8 L895.2 683.9 L896.5 683.7 L897.8 683.9 L899.1 684.1 L900.4 684.1 L901.8 683.9 L903.1 683.9 L904.4 684.0 L905.7 683.9 L907.0 684.1 L908.3 684.1 L909.6 684.1 L910.9 683.9 L912.2 683.9 L913.5 684.0 L914.8 684.0 L916.1 684.1 L917.4 684.1 L918.7 684.0 L920.0 684.0 L921.3 684.0 L922.6 684.1 L923.9 684.0 L925.2 684.1 L926.6 684.0 L927.9 683.8 L929.2 683.9 L930.5 684.0 L931.8 684.1 L933.1 683.9 L934.4 683.8 L935.7 684.0 L937.0 684.2 L938.3 683.9 L939.6 684.1 L940.9 684.1 L942.2 684.2 L943.5 684.0 L944.8 683.9 L946.1 684.0 L947.4 684.0 L948.7 683.9 L950.0 684.0 L951.4 684.0 L952.7 683.9 L954.0 683.9 L955.3 684.0 L956.6 684.2 L957.9 684.0 L959.2 683.9 L960.5 683.9 L961.8 684.0 L963.1 683.9 L964.4 684.3 L965.7 684.0 L967.0 684.3 L968.3 684.1 L969.6 683.9 L970.9 684.0 L972.2 684.0 L973.5 684.0 L974.8 684.1 L976.2 684.1 L977.5 684.1 L978.8 684.1 L980.1 683.9 L981.4 684.1 L982.7 684.0 L984.0 683.8 L985.3 683.9 L986.6 683.9 L987.9 684.2" fill="none" stroke="#231f20" stroke-width="2.7" stroke-linejoin="round" stroke-linecap="butt" clip-path="url(#c3)"/>
<path d="M679.2 719.9a0.98 0.98 0 1 0 1.97 0a0.98 0.98 0 1 0 -1.97 0zM680.3 720.1a1.01 1.01 0 1 0 2.03 0a1.01 1.01 0 1 0 -2.03 0zM705.7 720.1a0.95 0.95 0 1 0 1.90 0a0.95 0.95 0 1 0 -1.90 0zM725.4 720.2a1.05 1.05 0 1 0 2.10 0a1.05 1.05 0 1 0 -2.10 0zM734.5 723.1a1.21 1.21 0 1 0 2.41 0a1.21 1.21 0 1 0 -2.41 0zM747.9 682.9a1.18 1.18 0 1 0 2.36 0a1.18 1.18 0 1 0 -2.36 0zM750.8 682.9a0.89 0.89 0 1 0 1.78 0a0.89 0.89 0 1 0 -1.78 0zM768.9 682.5a0.98 0.98 0 1 0 1.97 0a0.98 0.98 0 1 0 -1.97 0zM780.5 682.4a1.15 1.15 0 1 0 2.29 0a1.15 1.15 0 1 0 -2.29 0zM781.9 682.5a0.94 0.94 0 1 0 1.88 0a0.94 0.94 0 1 0 -1.88 0zM809.1 682.9a1.25 1.25 0 1 0 2.50 0a1.25 1.25 0 1 0 -2.50 0zM839.2 685.3a1.20 1.20 0 1 0 2.40 0a1.20 1.20 0 1 0 -2.40 0zM844.5 685.0a1.16 1.16 0 1 0 2.31 0a1.16 1.16 0 1 0 -2.31 0zM845.7 685.3a1.10 1.10 0 1 0 2.20 0a1.10 1.10 0 1 0 -2.20 0zM851.2 685.5a0.97 0.97 0 1 0 1.94 0a0.97 0.97 0 1 0 -1.94 0zM852.3 685.5a1.06 1.06 0 1 0 2.12 0a1.06 1.06 0 1 0 -2.12 0zM905.8 685.3a1.22 1.22 0 1 0 2.44 0a1.22 1.22 0 1 0 -2.44 0zM923.0 682.9a0.97 0.97 0 1 0 1.95 0a0.97 0.97 0 1 0 -1.95 0zM928.3 685.1a0.89 0.89 0 1 0 1.79 0a0.89 0.89 0 1 0 -1.79 0zM931.9 682.5a1.14 1.14 0 1 0 2.28 0a1.14 1.14 0 1 0 -2.28 0zM937.2 685.3a1.10 1.10 0 1 0 2.20 0a1.10 1.10 0 1 0 -2.20 0zM938.3 685.2a1.17 1.17 0 1 0 2.33 0a1.17 1.17 0 1 0 -2.33 0zM958.0 683.0a1.16 1.16 0 1 0 2.32 0a1.16 1.16 0 1 0 -2.32 0zM959.4 683.0a1.01 1.01 0 1 0 2.02 0a1.01 1.01 0 1 0 -2.02 0zM982.9 685.3a1.07 1.07 0 1 0 2.15 0a1.07 1.07 0 1 0 -2.15 0zM985.6 685.1a0.97 0.97 0 1 0 1.93 0a0.97 0.97 0 1 0 -1.93 0zM986.9 684.9a0.94 0.94 0 1 0 1.89 0a0.94 0.94 0 1 0 -1.89 0z" fill="#231f20" clip-path="url(#c3)"/>
<path d="M677.5 755.7 L678.8 755.7 L680.1 755.3 L681.5 755.9 L682.8 755.4 L684.1 755.4 L685.4 755.4 L686.8 755.9 L688.1 755.2 L689.4 755.7 L690.7 755.1 L692.1 755.3 L693.4 755.0 L694.7 755.1 L696.0 754.6 L697.4 755.5 L698.7 755.6 L700.0 755.6 L701.3 755.0 L702.6 754.7 L704.0 755.2 L705.3 755.1 L706.6 755.1 L707.9 755.0 L709.3 755.6 L710.6 755.2 L711.9 755.1 L713.2 755.0 L714.6 755.1 L715.9 755.0 L717.2 755.5 L718.5 755.6 L719.9 755.4 L721.2 755.3 L722.5 755.2 L723.8 755.8 L725.1 754.9 L726.5 755.7 L727.8 755.2 L729.1 755.1 L730.4 755.5 L731.8 755.6 L733.1 755.5 L734.4 755.3 L735.7 755.3 L737.1 755.3 L738.4 755.3 L739.7 755.4 L741.0 755.2 L742.4 754.8 L743.7 755.4 L745.0 755.1 L745.0 755.3 L745.2 755.1 L745.5 755.3 L745.8 755.2 L746.1 754.6 L746.5 755.1 L746.9 754.5 L747.3 754.6 L747.8 754.7 L748.3 754.8 L748.8 754.0 L749.4 753.9 L750.0 753.2 L750.6 753.0 L751.3 752.8 L752.0 752.1 L752.8 752.0 L753.6 750.9 L754.4 750.3 L755.2 750.0 L756.1 749.1 L757.0 748.3 L758.0 747.1 L759.0 746.5 L760.0 746.0 L761.1 745.0 L762.3 744.7 L763.5 743.4 L764.8 742.5 L766.1 741.9 L767.4 740.7 L768.8 739.5 L770.1 738.7 L771.4 737.5 L772.7 736.6 L773.9 736.3 L775.0 735.0 L776.1 734.4 L777.1 733.3 L778.1 732.5 L779.1 732.3 L780.1 730.4 L781.0 730.2 L781.9 728.8 L782.8 728.6 L783.6 728.1 L784.4 727.0 L785.2 727.2 L786.0 726.4 L786.7 726.2 L787.4 725.0 L788.0 725.0 L788.6 724.0 L789.2 723.5 L789.8 723.4 L790.3 723.4 L790.8 722.4 L791.3 722.7 L791.9 722.2 L792.4 722.4 L793.0 721.8 L793.6 721.4 L794.2 720.9 L794.9 721.6 L795.6 721.4 L796.3 721.5 L796.9 720.3 L797.6 721.3 L798.2 721.0 L798.7 721.4 L799.2 720.9 L799.7 721.0 L800.0 721.2 L801.3 721.2 L802.6 721.7 L803.9 720.7 L805.2 721.3 L806.6 721.1 L807.9 721.1 L809.2 721.0 L810.5 721.1 L811.8 720.9 L813.1 721.7 L814.4 721.5 L815.7 720.9 L817.0 721.9 L818.4 720.9 L819.7 721.4 L821.0 721.1 L822.3 721.3 L823.6 721.3 L824.9 721.6 L826.2 721.2 L827.5 721.3 L828.8 721.2 L830.1 721.9 L831.5 720.9 L832.8 721.8 L834.1 721.9 L835.4 720.6 L836.7 721.8 L838.0 721.4 L839.3 721.0 L840.6 721.5 L841.9 720.9 L843.3 721.1 L844.6 721.5 L845.9 721.8 L847.2 721.7 L848.5 721.2 L848.5 721.4 L848.7 721.0 L848.9 721.1 L849.1 721.1 L849.3 720.4 L849.6 722.0 L849.9 721.3 L850.2 720.5 L850.5 720.7 L850.9 721.1 L851.2 720.8 L851.6 720.4 L852.0 720.3 L852.4 720.1 L852.8 720.1 L853.3 719.9 L853.8 719.3 L854.3 718.7 L854.8 718.5 L855.3 718.0 L855.8 718.3 L856.4 717.4 L856.9 717.4 L857.5 717.0 L858.0 716.8 L858.5 716.2 L859.1 715.8 L859.7 715.3 L860.3 715.1 L860.8 715.4 L861.4 714.2 L862.0 714.2 L862.6 714.2 L863.2 713.9 L863.8 713.3 L864.4 713.4 L865.0 713.4 L865.6 713.8 L866.2 712.6 L866.8 713.1 L867.3 712.5 L867.9 712.2 L868.5 711.9 L869.1 711.7 L869.7 712.3 L870.3 712.5 L870.8 712.1 L871.4 711.7 L872.0 711.8 L872.6 711.7 L873.1 710.7 L873.6 710.9 L874.1 710.8 L874.6 711.3 L875.1 711.0 L875.7 710.4 L876.2 710.3 L876.8 710.0 L877.4 710.6 L878.1 711.0 L878.8 710.1 L879.6 710.7 L880.5 709.5 L881.6 710.1 L882.6 709.8 L883.7 710.1 L884.8 709.9 L885.9 709.6 L886.9 709.5 L887.9 709.6 L888.7 709.7 L889.4 709.6 L890.0 709.0 L891.3 709.5 L892.6 709.5 L893.9 709.4 L895.2 709.8 L896.5 709.6 L897.8 710.2 L899.1 709.1 L900.4 709.8 L901.7 709.9 L903.1 709.6 L904.4 709.7 L905.7 709.8 L907.0 710.1 L908.3 710.1 L909.6 710.0 L910.9 709.5 L912.2 709.6 L913.5 709.2 L914.8 709.9 L916.1 710.0 L917.4 709.7 L918.7 709.8 L920.0 709.6 L921.3 709.6 L922.6 709.6 L923.9 709.2 L925.2 709.4 L926.5 709.7 L927.9 709.8 L929.2 709.5 L930.5 709.6 L931.8 710.0 L933.1 709.7 L934.4 709.6 L935.7 709.8 L937.0 709.7 L938.3 709.4 L939.6 709.9 L940.9 709.6 L942.2 709.3 L943.5 709.7 L944.8 710.0 L946.1 709.7 L947.4 709.9 L948.7 709.6 L950.0 709.6 L951.4 709.6 L952.7 709.6 L954.0 709.7 L955.3 709.4 L956.6 710.3 L957.9 710.1 L959.2 710.1 L960.5 710.1 L961.8 709.6 L963.1 709.8 L964.4 709.4 L965.7 709.5 L967.0 710.0 L968.3 709.8 L969.6 709.8 L970.9 709.7 L972.2 710.1 L973.5 709.5 L974.8 709.8 L976.2 710.2 L977.5 709.3 L978.8 710.1 L980.1 709.7 L981.4 709.4 L982.7 709.9 L984.0 709.8 L985.3 709.6 L986.6 710.0 L987.9 709.9" fill="none" stroke="#231f20" stroke-width="3.0" stroke-linejoin="round" stroke-linecap="butt" clip-path="url(#c3)"/>
<path d="M679.1 753.5a1.09 1.09 0 1 0 2.18 0a1.09 1.09 0 1 0 -2.18 0zM687.1 753.8a1.00 1.00 0 1 0 1.99 0a1.00 1.00 0 1 0 -1.99 0zM688.4 753.9a0.91 0.91 0 1 0 1.82 0a0.91 0.91 0 1 0 -1.82 0zM689.7 753.6a0.99 0.99 0 1 0 1.98 0a0.99 0.99 0 1 0 -1.98 0zM690.8 754.2a1.18 1.18 0 1 0 2.36 0a1.18 1.18 0 1 0 -2.36 0zM697.7 754.2a0.98 0.98 0 1 0 1.96 0a0.98 0.98 0 1 0 -1.96 0zM720.0 753.5a1.20 1.20 0 1 0 2.40 0a1.20 1.20 0 1 0 -2.40 0zM726.7 753.8a1.06 1.06 0 1 0 2.13 0a1.06 1.06 0 1 0 -2.13 0zM732.2 756.7a0.88 0.88 0 1 0 1.77 0a0.88 0.88 0 1 0 -1.77 0zM733.4 756.5a0.88 0.88 0 1 0 1.77 0a0.88 0.88 0 1 0 -1.77 0zM737.2 753.9a1.14 1.14 0 1 0 2.27 0a1.14 1.14 0 1 0 -2.27 0zM738.6 754.0a0.95 0.95 0 1 0 1.90 0a0.95 0.95 0 1 0 -1.90 0zM738.5 753.4a1.22 1.22 0 1 0 2.44 0a1.22 1.22 0 1 0 -2.44 0zM740.0 753.7a0.89 0.89 0 1 0 1.77 0a0.89 0.89 0 1 0 -1.77 0zM751.6 752.8a1.14 1.14 0 1 0 2.27 0a1.14 1.14 0 1 0 -2.27 0zM752.9 752.7a1.12 1.12 0 1 0 2.24 0a1.12 1.12 0 1 0 -2.24 0zM754.2 750.8a1.07 1.07 0 1 0 2.13 0a1.07 1.07 0 1 0 -2.13 0zM755.4 751.3a1.02 1.02 0 1 0 2.03 0a1.02 1.02 0 1 0 -2.03 0zM762.3 745.2a1.21 1.21 0 1 0 2.42 0a1.21 1.21 0 1 0 -2.42 0zM763.7 744.7a1.00 1.00 0 1 0 2.01 0a1.00 1.00 0 1 0 -2.01 0zM763.9 741.0a0.88 0.88 0 1 0 1.77 0a0.88 0.88 0 1 0 -1.77 0zM764.9 741.4a1.08 1.08 0 1 0 2.17 0a1.08 1.08 0 1 0 -2.17 0zM772.9 734.2a0.99 0.99 0 1 0 1.97 0a0.99 0.99 0 1 0 -1.97 0zM780.8 727.9a1.12 1.12 0 1 0 2.25 0a1.12 1.12 0 1 0 -2.25 0zM781.7 727.5a1.12 1.12 0 1 0 2.25 0a1.12 1.12 0 1 0 -2.25 0zM782.5 726.7a1.15 1.15 0 1 0 2.30 0a1.15 1.15 0 1 0 -2.30 0zM787.0 726.2a1.08 1.08 0 1 0 2.16 0a1.08 1.08 0 1 0 -2.16 0zM788.1 726.1a1.15 1.15 0 1 0 2.29 0a1.15 1.15 0 1 0 -2.29 0zM788.8 721.8a0.90 0.90 0 1 0 1.80 0a0.90 0.90 0 1 0 -1.80 0zM790.1 722.0a0.88 0.88 0 1 0 1.76 0a0.88 0.88 0 1 0 -1.76 0zM793.3 723.0a0.97 0.97 0 1 0 1.94 0a0.97 0.97 0 1 0 -1.94 0zM794.3 722.9a1.15 1.15 0 1 0 2.31 0a1.15 1.15 0 1 0 -2.31 0zM801.6 719.5a1.00 1.00 0 1 0 2.00 0a1.00 1.00 0 1 0 -2.00 0zM802.7 720.1a1.13 1.13 0 1 0 2.27 0a1.13 1.13 0 1 0 -2.27 0zM802.9 722.4a1.03 1.03 0 1 0 2.07 0a1.03 1.03 0 1 0 -2.07 0zM803.9 722.3a1.19 1.19 0 1 0 2.38 0a1.19 1.19 0 1 0 -2.38 0zM804.3 719.8a0.93 0.93 0 1 0 1.86 0a0.93 0.93 0 1 0 -1.86 0zM805.3 720.3a1.19 1.19 0 1 0 2.38 0a1.19 1.19 0 1 0 -2.38 0zM811.9 720.0a1.16 1.16 0 1 0 2.33 0a1.16 1.16 0 1 0 -2.33 0zM813.3 720.1a0.97 0.97 0 1 0 1.95 0a0.97 0.97 0 1 0 -1.95 0zM819.8 719.7a1.13 1.13 0 1 0 2.25 0a1.13 1.13 0 1 0 -2.25 0zM827.8 719.8a0.99 0.99 0 1 0 1.98 0a0.99 0.99 0 1 0 -1.98 0zM828.9 720.0a1.18 1.18 0 1 0 2.36 0a1.18 1.18 0 1 0 -2.36 0zM834.4 719.6a1.02 1.02 0 1 0 2.05 0a1.02 1.02 0 1 0 -2.05 0zM839.7 722.7a0.96 0.96 0 1 0 1.92 0a0.96 0.96 0 1 0 -1.92 0zM840.7 722.8a1.11 1.11 0 1 0 2.21 0a1.11 1.11 0 1 0 -2.21 0zM848.6 719.7a0.96 0.96 0 1 0 1.92 0a0.96 0.96 0 1 0 -1.92 0zM849.8 720.2a0.99 0.99 0 1 0 1.99 0a0.99 0.99 0 1 0 -1.99 0zM849.9 722.2a0.96 0.96 0 1 0 1.92 0a0.96 0.96 0 1 0 -1.92 0zM851.0 722.0a1.05 1.05 0 1 0 2.11 0a1.05 1.05 0 1 0 -2.11 0zM850.3 719.2a0.97 0.97 0 1 0 1.93 0a0.97 0.97 0 1 0 -1.93 0zM851.5 719.5a0.89 0.89 0 1 0 1.78 0a0.89 0.89 0 1 0 -1.78 0zM862.1 712.3a1.12 1.12 0 1 0 2.25 0a1.12 1.12 0 1 0 -2.25 0zM879.5 709.1a1.02 1.02 0 1 0 2.04 0a1.02 1.02 0 1 0 -2.04 0zM880.8 709.2a0.96 0.96 0 1 0 1.93 0a0.96 0.96 0 1 0 -1.93 0zM887.0 708.2a0.92 0.92 0 1 0 1.84 0a0.92 0.92 0 1 0 -1.84 0zM895.5 708.3a1.07 1.07 0 1 0 2.13 0a1.07 1.07 0 1 0 -2.13 0zM904.7 707.9a0.96 0.96 0 1 0 1.91 0a0.96 0.96 0 1 0 -1.91 0zM911.2 708.0a1.00 1.00 0 1 0 2.00 0a1.00 1.00 0 1 0 -2.00 0zM912.3 708.3a1.19 1.19 0 1 0 2.38 0a1.19 1.19 0 1 0 -2.38 0zM913.7 708.1a0.98 0.98 0 1 0 1.96 0a0.98 0.98 0 1 0 -1.96 0zM915.1 708.0a1.04 1.04 0 1 0 2.09 0a1.04 1.04 0 1 0 -2.09 0zM924.3 708.4a0.90 0.90 0 1 0 1.79 0a0.90 0.90 0 1 0 -1.79 0zM925.3 708.0a1.12 1.12 0 1 0 2.25 0a1.12 1.12 0 1 0 -2.25 0zM930.7 711.2a1.11 1.11 0 1 0 2.21 0a1.11 1.11 0 1 0 -2.21 0zM938.5 711.1a1.13 1.13 0 1 0 2.26 0a1.13 1.13 0 1 0 -2.26 0zM945.2 708.5a0.92 0.92 0 1 0 1.83 0a0.92 0.92 0 1 0 -1.83 0zM946.2 708.1a1.10 1.10 0 1 0 2.19 0a1.10 1.10 0 1 0 -2.19 0zM959.4 708.2a1.13 1.13 0 1 0 2.27 0a1.13 1.13 0 1 0 -2.27 0zM962.2 708.2a0.91 0.91 0 1 0 1.81 0a0.91 0.91 0 1 0 -1.81 0zM963.2 708.4a1.05 1.05 0 1 0 2.10 0a1.05 1.05 0 1 0 -2.10 0zM963.1 708.4a1.25 1.25 0 1 0 2.51 0a1.25 1.25 0 1 0 -2.51 0zM964.5 708.8a1.12 1.12 0 1 0 2.24 0a1.12 1.12 0 1 0 -2.24 0zM971.3 711.5a0.97 0.97 0 1 0 1.95 0a0.97 0.97 0 1 0 -1.95 0zM972.3 711.2a1.14 1.14 0 1 0 2.29 0a1.14 1.14 0 1 0 -2.29 0zM975.0 708.1a1.15 1.15 0 1 0 2.30 0a1.15 1.15 0 1 0 -2.30 0zM984.1 708.5a1.24 1.24 0 1 0 2.48 0a1.24 1.24 0 1 0 -2.48 0z" fill="#231f20" clip-path="url(#c3)"/>
<path d="M677.5 814.9 L678.8 815.2 L680.1 815.0 L681.5 814.8 L682.8 814.9 L684.1 815.3 L685.4 814.8 L686.8 815.1 L688.1 814.9 L689.4 815.0 L690.7 815.3 L692.0 814.8 L693.4 814.9 L694.7 815.3 L696.0 814.8 L697.3 814.9 L698.6 815.2 L700.0 815.4 L701.3 815.1 L702.6 815.0 L703.9 814.9 L705.3 814.8 L706.6 815.2 L707.9 814.9 L709.2 814.9 L710.5 815.0 L711.9 814.9 L713.2 814.7 L714.5 815.0 L715.8 815.2 L717.2 814.9 L718.5 814.6 L719.8 815.3 L721.1 815.1 L722.4 814.7 L723.8 815.0 L725.1 815.1 L726.4 814.8 L727.7 814.7 L729.0 815.2 L730.4 814.9 L731.7 814.6 L733.0 814.7 L734.3 814.8 L735.7 814.9 L737.0 814.9 L738.3 815.2 L738.3 813.7 L738.3 812.4 L738.3 811.1 L738.3 809.8 L738.4 808.5 L738.4 807.2 L738.4 805.9 L738.4 804.6 L738.4 803.3 L738.4 802.0 L738.4 800.7 L738.4 799.4 L738.4 798.1 L738.5 796.8 L738.5 795.5 L738.5 794.2 L738.5 792.9 L738.5 791.9 L739.9 791.9 L741.3 792.2 L742.8 792.1 L744.2 791.9 L745.6 791.9 L745.9 790.4 L746.1 788.7 L746.4 787.0 L747.7 787.2 L749.0 786.6 L750.3 787.3 L751.7 787.4 L753.0 787.0 L754.3 787.1 L755.6 787.1 L756.9 787.2 L758.2 787.0 L759.5 787.2 L760.8 786.8 L762.2 786.8 L763.5 786.7 L764.8 786.9 L766.1 787.0 L767.4 787.0 L768.7 786.9 L770.0 787.1 L771.4 786.9 L772.7 787.1 L774.0 786.6 L775.3 787.1 L776.6 786.6 L777.9 787.0 L779.2 786.9 L780.6 786.8 L781.9 786.8 L783.2 786.9 L784.5 787.1 L785.8 786.8 L787.1 787.2 L788.4 787.4 L789.7 787.0 L791.1 787.3 L792.4 786.7 L793.7 786.7 L795.0 787.0 L795.1 785.6 L795.1 784.3 L795.2 782.9 L795.3 781.5 L795.3 780.2 L795.4 778.7 L796.7 778.9 L798.0 778.8 L799.4 779.8 L800.8 779.8 L802.2 780.4 L803.6 780.6 L805.0 781.5 L806.3 781.1 L807.6 781.4 L808.9 781.1 L810.2 781.6 L811.5 781.3 L812.8 781.3 L814.1 781.3 L815.5 781.2 L816.8 781.4 L818.1 781.2 L819.4 781.1 L820.7 781.6 L822.0 780.9 L823.3 781.1 L824.6 781.3 L825.9 781.4 L827.2 781.6 L828.5 781.3 L829.8 781.1 L831.1 781.4 L832.4 781.5 L833.7 781.2 L835.0 781.5 L836.4 781.3 L837.7 781.7 L839.0 781.2 L840.3 781.4 L841.6 781.3 L842.9 781.4 L844.2 781.5 L845.5 781.3 L846.8 781.3 L848.1 781.3 L849.4 781.1 L850.7 781.7 L852.0 781.3 L853.3 781.7 L854.6 781.4 L856.0 781.4 L857.3 780.8 L858.6 781.6 L859.9 781.4 L861.2 781.5 L862.5 781.4 L863.8 781.7 L865.1 781.9 L866.4 781.3 L867.7 781.7 L869.0 781.5 L870.3 781.3 L871.6 781.7 L872.9 781.4 L874.2 781.4 L875.5 781.5 L876.9 781.1 L878.2 781.5 L879.5 781.6 L880.8 781.7 L882.1 781.4 L883.4 781.5 L884.7 781.4 L886.0 781.6 L887.3 781.4 L888.6 781.6 L889.9 781.5 L891.2 781.4 L892.5 781.7 L893.8 781.7 L895.1 781.9 L896.5 781.7 L897.8 781.7 L899.1 781.5 L900.4 781.2 L901.7 781.1 L903.0 781.7 L904.3 781.6 L905.6 781.7 L906.9 781.4 L908.2 781.9 L909.5 781.7 L910.8 781.2 L912.1 781.7 L913.4 781.8 L914.7 781.9 L916.0 781.6 L917.4 781.4 L918.7 781.3 L920.0 781.8 L921.3 781.6 L922.6 781.4 L923.9 781.3 L925.2 781.7 L926.5 781.6 L927.8 781.6 L929.1 781.3 L930.4 781.7 L931.7 781.6 L933.0 781.6 L934.3 782.0 L935.6 782.0 L936.9 781.9 L938.3 781.5 L939.6 781.8 L940.9 782.0 L942.2 781.5 L943.5 782.1 L944.8 781.8 L946.1 781.6 L947.4 781.8 L948.7 781.9 L950.0 781.7 L951.3 781.6 L952.6 781.3 L953.9 781.7 L955.2 781.7 L956.5 782.3 L957.9 781.7 L959.2 781.8 L960.5 781.4 L961.8 782.2 L963.1 781.5 L964.4 782.3 L965.7 782.3 L967.0 781.4 L968.3 781.7 L969.6 781.7 L970.9 781.4 L972.2 782.0 L973.5 781.5 L974.8 781.7 L976.1 781.7 L977.4 781.9 L978.8 781.5 L980.1 781.6 L981.4 781.9 L982.7 781.4 L984.0 781.4 L985.3 781.7 L986.6 781.8 L987.9 781.3" fill="none" stroke="#231f20" stroke-width="2.5" stroke-linejoin="round" stroke-linecap="butt" clip-path="url(#c3)"/>
<path d="M681.8 813.5a0.95 0.95 0 1 0 1.89 0a0.95 0.95 0 1 0 -1.89 0zM701.4 813.9a1.26 1.26 0 1 0 2.51 0a1.26 1.26 0 1 0 -2.51 0zM710.9 813.6a0.95 0.95 0 1 0 1.90 0a0.95 0.95 0 1 0 -1.90 0zM712.1 816.4a1.09 1.09 0 1 0 2.18 0a1.09 1.09 0 1 0 -2.18 0zM713.4 815.9a0.98 0.98 0 1 0 1.95 0a0.98 0.98 0 1 0 -1.95 0zM717.4 815.9a1.10 1.10 0 1 0 2.20 0a1.10 1.10 0 1 0 -2.20 0zM736.0 813.9a0.95 0.95 0 1 0 1.90 0a0.95 0.95 0 1 0 -1.90 0zM737.2 813.6a0.96 0.96 0 1 0 1.92 0a0.96 0.96 0 1 0 -1.92 0zM738.9 792.6a1.02 1.02 0 1 0 2.04 0a1.02 1.02 0 1 0 -2.04 0zM761.0 785.7a1.12 1.12 0 1 0 2.24 0a1.12 1.12 0 1 0 -2.24 0zM764.9 788.4a1.19 1.19 0 1 0 2.37 0a1.19 1.19 0 1 0 -2.37 0zM783.4 788.3a1.05 1.05 0 1 0 2.09 0a1.05 1.05 0 1 0 -2.09 0zM784.7 788.4a0.97 0.97 0 1 0 1.95 0a0.97 0.97 0 1 0 -1.95 0zM791.5 787.9a0.88 0.88 0 1 0 1.77 0a0.88 0.88 0 1 0 -1.77 0zM792.6 788.3a0.93 0.93 0 1 0 1.86 0a0.93 0.93 0 1 0 -1.86 0zM807.8 779.9a1.09 1.09 0 1 0 2.18 0a1.09 1.09 0 1 0 -2.18 0zM832.6 780.3a1.14 1.14 0 1 0 2.28 0a1.14 1.14 0 1 0 -2.28 0zM839.3 779.9a1.00 1.00 0 1 0 2.01 0a1.00 1.00 0 1 0 -2.01 0zM862.7 780.4a1.10 1.10 0 1 0 2.19 0a1.10 1.10 0 1 0 -2.19 0zM863.8 780.3a1.19 1.19 0 1 0 2.38 0a1.19 1.19 0 1 0 -2.38 0zM873.3 780.4a0.92 0.92 0 1 0 1.84 0a0.92 0.92 0 1 0 -1.84 0zM899.5 780.4a0.90 0.90 0 1 0 1.81 0a0.90 0.90 0 1 0 -1.81 0zM900.7 780.6a0.91 0.91 0 1 0 1.83 0a0.91 0.91 0 1 0 -1.83 0zM904.5 780.5a1.06 1.06 0 1 0 2.13 0a1.06 1.06 0 1 0 -2.13 0zM905.7 780.5a1.11 1.11 0 1 0 2.22 0a1.11 1.11 0 1 0 -2.22 0zM907.1 780.6a1.10 1.10 0 1 0 2.19 0a1.10 1.10 0 1 0 -2.19 0zM908.4 780.8a0.96 0.96 0 1 0 1.92 0a0.96 0.96 0 1 0 -1.92 0zM908.5 780.2a1.06 1.06 0 1 0 2.12 0a1.06 1.06 0 1 0 -2.12 0zM909.6 780.4a1.08 1.08 0 1 0 2.16 0a1.08 1.08 0 1 0 -2.16 0zM929.2 780.6a1.26 1.26 0 1 0 2.52 0a1.26 1.26 0 1 0 -2.52 0zM930.5 780.5a1.25 1.25 0 1 0 2.50 0a1.25 1.25 0 1 0 -2.50 0zM931.9 780.5a1.06 1.06 0 1 0 2.12 0a1.06 1.06 0 1 0 -2.12 0zM931.9 783.2a1.17 1.17 0 1 0 2.33 0a1.17 1.17 0 1 0 -2.33 0zM933.2 780.5a1.11 1.11 0 1 0 2.23 0a1.11 1.11 0 1 0 -2.23 0zM948.8 783.2a1.19 1.19 0 1 0 2.39 0a1.19 1.19 0 1 0 -2.39 0zM950.3 782.7a0.92 0.92 0 1 0 1.83 0a0.92 0.92 0 1 0 -1.83 0zM952.9 780.3a1.08 1.08 0 1 0 2.16 0a1.08 1.08 0 1 0 -2.16 0zM954.2 780.4a0.92 0.92 0 1 0 1.84 0a0.92 0.92 0 1 0 -1.84 0zM960.8 782.8a1.00 1.00 0 1 0 2.01 0a1.00 1.00 0 1 0 -2.01 0zM962.1 783.2a0.90 0.90 0 1 0 1.80 0a0.90 0.90 0 1 0 -1.80 0zM973.8 780.5a1.07 1.07 0 1 0 2.13 0a1.07 1.07 0 1 0 -2.13 0zM975.2 780.5a0.96 0.96 0 1 0 1.92 0a0.96 0.96 0 1 0 -1.92 0z" fill="#231f20" clip-path="url(#c3)"/>
<path d="M677.5 850.0 L678.8 849.8 L680.1 849.9 L681.5 850.0 L682.8 850.0 L684.1 850.0 L685.4 849.9 L686.8 850.1 L688.1 850.1 L689.4 849.9 L690.7 849.9 L692.1 849.9 L693.4 849.8 L694.7 850.1 L696.0 850.0 L697.4 849.9 L698.7 849.9 L700.0 850.0 L701.3 850.1 L702.6 850.1 L704.0 849.9 L705.3 849.8 L706.6 849.9 L707.9 850.2 L709.3 850.1 L710.6 850.0 L711.9 850.2 L713.2 850.1 L714.6 849.8 L715.9 850.0 L717.2 850.1 L718.5 849.9 L719.9 850.2 L721.2 850.0 L722.5 850.2 L723.8 850.1 L725.1 850.1 L726.5 850.0 L727.8 849.9 L729.1 849.8 L730.4 850.2 L731.8 849.8 L733.1 849.9 L734.4 849.8 L735.7 850.0 L737.1 850.2 L738.4 850.0 L739.7 849.9 L741.0 850.0 L742.4 850.0 L743.7 849.9 L745.0 849.9 L745.0 850.0 L745.2 849.4 L745.5 849.3 L745.8 849.1 L746.2 848.4 L746.6 848.0 L747.0 847.3 L747.5 846.8 L747.9 846.4 L748.4 845.8 L748.9 845.1 L749.5 844.7 L750.0 844.4 L750.6 843.8 L751.1 843.3 L751.7 843.0 L752.4 842.5 L753.0 842.1 L753.7 841.6 L754.3 841.4 L755.0 840.7 L755.8 840.5 L756.5 839.8 L757.2 839.4 L758.0 839.1 L758.8 838.4 L759.6 837.9 L760.5 837.2 L761.4 836.9 L762.2 836.1 L763.2 835.6 L764.1 835.1 L765.0 834.4 L765.9 833.8 L766.8 832.9 L767.7 832.6 L768.5 832.1 L769.3 831.5 L770.2 830.4 L771.0 830.0 L771.9 829.4 L772.7 828.7 L773.5 828.1 L774.4 827.2 L775.1 826.5 L775.9 826.1 L776.6 825.7 L777.3 824.9 L778.0 824.7 L778.6 823.8 L779.2 823.7 L779.7 823.3 L780.2 822.8 L780.7 822.7 L781.2 822.6 L781.6 822.3 L782.1 822.1 L782.5 821.5 L782.9 821.7 L783.4 821.4 L783.8 821.2 L784.2 820.8 L784.6 821.1 L785.1 820.7 L785.5 820.5 L785.8 820.6 L786.2 820.4 L786.6 820.8 L787.0 820.5 L787.4 820.4 L787.7 820.4 L788.1 820.1 L788.5 820.3 L788.9 820.2 L789.3 820.3 L789.7 820.6 L790.1 820.6 L790.4 820.8 L790.8 820.9 L791.2 821.1 L791.6 821.1 L791.9 821.4 L792.3 821.6 L792.7 821.3 L793.0 821.8 L793.3 822.2 L793.7 822.3 L794.0 822.8 L794.3 823.0 L794.6 823.2 L794.9 823.7 L795.2 824.0 L795.4 824.2 L795.7 824.4 L796.0 824.6 L796.2 825.0 L796.5 825.1 L796.7 825.1 L797.0 824.8 L797.2 824.9 L797.4 824.9 L797.6 824.6 L797.8 824.1 L798.0 824.1 L798.1 823.6 L798.3 823.5 L798.5 823.2 L798.8 823.2 L799.0 823.2 L799.2 822.7 L799.4 822.7 L799.5 822.6 L799.7 822.5 L799.8 822.4 L800.0 822.2 L800.2 822.3 L800.5 822.0 L800.8 822.2 L801.2 822.0 L801.7 822.0 L802.3 821.8 L803.0 821.8 L803.8 822.0 L804.8 821.9 L805.8 821.7 L806.8 822.1 L807.9 822.1 L809.1 822.2 L810.2 822.2 L811.4 822.4 L812.6 822.3 L813.8 822.6 L815.0 822.7 L816.2 822.9 L817.4 822.7 L818.7 822.8 L820.0 823.2 L821.3 823.2 L822.7 823.4 L824.0 823.6 L825.3 823.9 L826.5 823.8 L827.8 824.0 L828.9 824.1 L830.0 824.3 L831.0 824.4 L832.0 824.7 L832.9 824.5 L833.7 824.5 L834.6 824.8 L835.4 824.9 L836.1 825.0 L836.9 825.2 L837.7 825.1 L838.4 825.2 L839.2 825.2 L840.0 825.4 L840.8 825.4 L841.7 825.5 L842.6 825.5 L843.5 825.5 L844.4 825.8 L845.3 825.3 L846.2 825.6 L847.0 825.5 L847.7 825.4 L848.4 825.5 L848.9 825.6 L849.4 825.5 L849.6 825.5 L849.6 825.5 L849.7 824.5 L849.8 823.3 L849.9 821.8 L850.1 820.4 L850.3 818.3 L850.4 816.3 L850.6 814.7 L850.8 812.6 L851.0 810.9 L851.2 808.9 L851.3 807.4 L851.5 806.2 L851.7 804.7 L851.8 803.5 L851.9 802.4 L852.1 801.3 L852.2 800.2 L852.3 799.2 L852.5 798.3 L852.6 797.3 L852.8 796.6 L853.0 795.6 L853.2 795.1 L853.5 794.5 L853.8 793.8 L854.1 793.5 L854.4 792.9 L854.7 792.8 L855.1 792.4 L855.4 792.2 L855.8 792.2 L856.2 791.7 L856.6 791.6 L857.1 791.6 L857.5 791.2 L858.0 791.5 L858.5 791.5 L858.9 791.9 L859.4 791.7 L859.9 791.8 L860.4 791.9 L860.9 792.4 L861.5 792.7 L862.1 792.6 L862.7 793.1 L863.4 793.6 L864.2 793.8 L865.0 794.2 L865.9 794.7 L866.9 795.2 L867.9 795.5 L869.0 795.6 L870.1 796.5 L871.3 796.7 L872.5 797.5 L873.7 798.1 L875.0 798.6 L876.2 799.1 L877.5 799.9 L878.8 800.4 L880.1 801.0 L881.4 801.9 L882.7 802.4 L884.1 803.2 L885.4 804.1 L886.8 805.1 L888.2 805.8 L889.7 806.7 L891.2 807.6 L892.7 808.2 L894.2 809.1 L895.8 809.6 L897.4 810.1 L899.1 811.1 L900.9 811.5 L902.6 812.4 L904.4 813.0 L906.3 813.7 L908.1 814.2 L910.0 814.8 L911.8 815.4 L913.7 815.8 L915.5 816.3 L917.3 816.8 L919.1 817.2 L920.9 817.5 L922.7 817.8 L924.6 818.0 L926.4 818.5 L928.2 818.7 L930.1 818.8 L931.9 818.9 L933.6 819.2 L935.4 819.4 L937.1 819.4 L938.8 819.6 L940.4 819.6 L941.9 819.8 L943.3 819.9 L944.7 819.9 L946.1 819.8 L947.5 819.8 L948.9 819.8 L950.3 819.9 L951.9 819.8 L953.5 819.8 L955.3 820.0 L957.3 819.5 L959.5 819.5 L962.1 819.4 L963.5 819.5 L964.9 819.2 L966.4 819.2 L967.9 819.2 L969.4 819.3 L970.9 819.3 L972.4 819.0 L974.0 819.1 L975.5 818.9 L976.9 819.0 L978.4 818.9 L979.8 818.8 L981.1 818.6 L982.4 818.6 L984.8 818.5 L986.8 818.5 L988.3 818.3" fill="none" stroke="#231f20" stroke-width="2.6" stroke-linejoin="round" stroke-linecap="butt" clip-path="url(#c3)"/>
<path d="M679.2 848.5a0.93 0.93 0 1 0 1.86 0a0.93 0.93 0 1 0 -1.86 0zM680.2 849.0a1.10 1.10 0 1 0 2.19 0a1.10 1.10 0 1 0 -2.19 0zM681.6 848.8a1.20 1.20 0 1 0 2.39 0a1.20 1.20 0 1 0 -2.39 0zM682.9 848.6a1.11 1.11 0 1 0 2.21 0a1.11 1.11 0 1 0 -2.21 0zM694.9 851.4a1.14 1.14 0 1 0 2.28 0a1.14 1.14 0 1 0 -2.28 0zM697.4 848.5a1.23 1.23 0 1 0 2.46 0a1.23 1.23 0 1 0 -2.46 0zM698.9 848.7a0.94 0.94 0 1 0 1.87 0a0.94 0.94 0 1 0 -1.87 0zM785.3 819.2a0.91 0.91 0 1 0 1.81 0a0.91 0.91 0 1 0 -1.81 0zM786.5 819.0a0.93 0.93 0 1 0 1.87 0a0.93 0.93 0 1 0 -1.87 0zM791.8 823.2a1.21 1.21 0 1 0 2.42 0a1.21 1.21 0 1 0 -2.42 0zM793.0 822.6a1.20 1.20 0 1 0 2.40 0a1.20 1.20 0 1 0 -2.40 0zM793.5 822.2a1.04 1.04 0 1 0 2.08 0a1.04 1.04 0 1 0 -2.08 0zM796.5 825.4a1.08 1.08 0 1 0 2.15 0a1.08 1.08 0 1 0 -2.15 0zM797.6 825.7a1.15 1.15 0 1 0 2.30 0a1.15 1.15 0 1 0 -2.30 0zM805.9 820.4a0.91 0.91 0 1 0 1.83 0a0.91 0.91 0 1 0 -1.83 0zM807.0 820.8a1.00 1.00 0 1 0 2.00 0a1.00 1.00 0 1 0 -2.00 0zM811.7 823.4a0.93 0.93 0 1 0 1.86 0a0.93 0.93 0 1 0 -1.86 0zM860.9 791.4a1.13 1.13 0 1 0 2.26 0a1.13 1.13 0 1 0 -2.26 0zM862.1 792.0a1.18 1.18 0 1 0 2.35 0a1.18 1.18 0 1 0 -2.35 0z" fill="#231f20" clip-path="url(#c3)"/>
<clipPath id="c4"><rect x="215" y="1019" width="311" height="186"/></clipPath>
<rect x="215" y="1019" width="1" height="186" fill="#0d0d0d"/>
<rect x="246" y="1019" width="1" height="186" fill="#0d0d0d"/>
<rect x="277" y="1019" width="1" height="186" fill="#0d0d0d"/>
<rect x="308" y="1019" width="1" height="186" fill="#0d0d0d"/>
<rect x="339" y="1019" width="1" height="186" fill="#0d0d0d"/>
<rect x="370" y="1019" width="1" height="186" fill="#0d0d0d"/>
<rect x="401" y="1019" width="1" height="186" fill="#0d0d0d"/>
<rect x="432" y="1019" width="1" height="186" fill="#0d0d0d"/>
<rect x="463" y="1019" width="1" height="186" fill="#0d0d0d"/>
<rect x="494" y="1019" width="1" height="186" fill="#0d0d0d"/>
<rect x="525" y="1019" width="1" height="186" fill="#0d0d0d"/>
<rect x="215" y="1019" width="311" height="1" fill="#0d0d0d"/>
<rect x="215" y="1038" width="311" height="1" fill="#0d0d0d"/>
<rect x="215" y="1056" width="311" height="1" fill="#0d0d0d"/>
<rect x="215" y="1075" width="311" height="1" fill="#0d0d0d"/>
<rect x="215" y="1093" width="311" height="1" fill="#0d0d0d"/>
<rect x="215" y="1112" width="311" height="1" fill="#0d0d0d"/>
<rect x="215" y="1130" width="311" height="1" fill="#0d0d0d"/>
<rect x="215" y="1149" width="311" height="1" fill="#0d0d0d"/>
<rect x="215" y="1167" width="311" height="1" fill="#0d0d0d"/>
<rect x="215" y="1186" width="311" height="1" fill="#0d0d0d"/>
<rect x="215" y="1204" width="311" height="1" fill="#0d0d0d"/>
<path d="M215.5 1075.3 L216.8 1075.3 L218.1 1075.4 L219.4 1075.4 L220.8 1075.4 L222.1 1075.3 L223.4 1075.4 L224.7 1075.5 L226.0 1075.4 L227.3 1075.4 L228.6 1075.4 L229.9 1075.4 L231.3 1075.4 L232.6 1075.5 L233.9 1075.4 L235.2 1075.4 L236.5 1075.4 L237.8 1075.4 L239.1 1075.4 L240.4 1075.5 L241.8 1075.4 L243.1 1075.4 L244.4 1075.5 L245.7 1075.4 L245.7 1074.1 L245.7 1072.7 L245.7 1071.4 L245.7 1070.0 L245.7 1068.7 L245.8 1067.4 L245.8 1066.0 L245.8 1064.7 L245.8 1063.4 L245.8 1062.0 L245.8 1060.7 L245.8 1059.3 L245.8 1058.0 L245.8 1056.7 L245.8 1055.3 L245.9 1054.0 L245.9 1052.7 L245.9 1051.3 L245.9 1050.0 L245.9 1048.6 L245.9 1047.3 L247.2 1047.3 L248.5 1047.4 L249.8 1047.2 L251.1 1047.2 L252.4 1047.3 L253.7 1047.2 L255.0 1047.4 L256.3 1047.3 L257.6 1047.2 L258.9 1047.3 L260.2 1047.4 L261.5 1047.3 L262.8 1047.3 L264.1 1047.3 L265.4 1047.3 L266.7 1047.3 L268.0 1047.3 L269.3 1047.3 L270.6 1047.3 L271.9 1047.3 L273.2 1047.3 L274.5 1047.2 L275.8 1047.3 L277.1 1047.2 L278.4 1047.3 L279.7 1047.4 L281.0 1047.2 L282.3 1047.4 L283.6 1047.3 L284.9 1047.2 L286.2 1047.3 L287.5 1047.3 L288.8 1047.4 L290.1 1047.2 L291.4 1047.3 L292.7 1047.3 L294.0 1047.3 L295.3 1047.2 L296.6 1047.3 L297.9 1047.2 L299.2 1047.3 L300.5 1047.3 L301.8 1047.3 L303.1 1047.2 L304.4 1047.2 L305.7 1047.3 L307.0 1047.3 L308.3 1047.3 L309.6 1047.3 L310.9 1047.3 L312.2 1047.3 L313.5 1047.3 L314.8 1047.3 L316.1 1047.3 L317.4 1047.4 L318.7 1047.4 L320.0 1047.3 L321.3 1047.3 L322.6 1047.2 L323.9 1047.3 L325.2 1047.4 L326.5 1047.3 L327.8 1047.2 L329.1 1047.3 L330.4 1047.2 L331.7 1047.3 L333.0 1047.4 L334.3 1047.3 L335.6 1047.4 L336.9 1047.3 L338.2 1047.3 L339.5 1047.3 L340.8 1047.3 L342.1 1047.3 L343.4 1047.2 L344.7 1047.3 L346.0 1047.3 L347.3 1047.3 L348.6 1047.3 L349.9 1047.2 L351.2 1047.2 L352.5 1047.3 L353.8 1047.3 L355.1 1047.3 L356.4 1047.2 L357.7 1047.3 L359.0 1047.3 L360.3 1047.3 L361.6 1047.3 L362.9 1047.3 L364.2 1047.3 L365.5 1047.3 L366.8 1047.2 L368.1 1047.3 L369.4 1047.3 L370.7 1047.4 L372.0 1047.3 L373.3 1047.3 L374.6 1047.3 L375.9 1047.3 L377.2 1047.2 L378.5 1047.3 L379.8 1047.3 L381.1 1047.3 L382.4 1047.3 L383.7 1047.3 L385.0 1047.3 L386.4 1047.3 L387.7 1047.3 L389.0 1047.3 L390.3 1047.3 L391.6 1047.3 L392.9 1047.3 L394.2 1047.4 L395.5 1047.3 L396.8 1047.3 L398.1 1047.3 L399.4 1047.3 L400.7 1047.2 L402.0 1047.3 L403.3 1047.4 L404.6 1047.3 L405.9 1047.3 L407.2 1047.4 L408.5 1047.2 L409.8 1047.2 L411.1 1047.3 L412.4 1047.3 L413.7 1047.3 L415.0 1047.4 L416.3 1047.3 L417.6 1047.3 L418.9 1047.3 L420.2 1047.3 L421.5 1047.2 L422.8 1047.3 L424.1 1047.2 L425.4 1047.3 L426.7 1047.3 L428.0 1047.3 L429.3 1047.3 L430.6 1047.3 L431.9 1047.2 L433.2 1047.3 L434.5 1047.3 L435.8 1047.3 L437.1 1047.3 L438.4 1047.3 L439.7 1047.3 L441.0 1047.4 L442.3 1047.3 L443.6 1047.3 L444.9 1047.3 L446.2 1047.3 L447.5 1047.3 L448.8 1047.3 L450.1 1047.4 L451.4 1047.3 L452.7 1047.3 L454.0 1047.4 L455.3 1047.3 L456.6 1047.3 L457.9 1047.3 L459.2 1047.3 L460.5 1047.3 L461.8 1047.3 L463.1 1047.3 L464.4 1047.2 L465.7 1047.4 L467.0 1047.3 L468.3 1047.4 L469.6 1047.4 L470.9 1047.4 L472.2 1047.3 L473.5 1047.3 L474.8 1047.3 L476.1 1047.3 L477.4 1047.3 L478.7 1047.3 L480.0 1047.4 L481.3 1047.3 L482.6 1047.4 L483.9 1047.2 L485.2 1047.3 L486.5 1047.4 L487.8 1047.4 L489.1 1047.2 L490.4 1047.3 L491.7 1047.3 L493.0 1047.4 L494.3 1047.2 L495.6 1047.3 L496.9 1047.3 L498.2 1047.3 L499.5 1047.3 L500.8 1047.4 L502.1 1047.4 L503.4 1047.3 L504.7 1047.2 L506.0 1047.3 L507.3 1047.3 L508.6 1047.4 L509.9 1047.2 L511.2 1047.3 L512.5 1047.4 L513.8 1047.3 L515.1 1047.3 L516.4 1047.4 L517.7 1047.3 L519.0 1047.3 L520.3 1047.3 L521.6 1047.4 L522.9 1047.2 L524.2 1047.4 L525.5 1047.3" fill="none" stroke="#231f20" stroke-width="2.9" stroke-linejoin="round" stroke-linecap="butt" clip-path="url(#c4)"/>
<path d="M215.5 1111.2 L216.8 1111.2 L218.2 1111.2 L219.5 1111.3 L220.9 1111.2 L222.2 1111.3 L223.6 1111.2 L224.9 1111.1 L226.3 1111.2 L227.6 1111.2 L229.0 1111.3 L230.3 1111.2 L231.7 1111.2 L233.0 1111.3 L234.4 1111.1 L235.7 1111.2 L237.1 1111.3 L238.4 1111.3 L239.8 1111.1 L241.1 1111.3 L242.5 1111.2 L243.8 1111.2 L245.2 1111.3 L246.5 1111.2 L246.5 1111.2 L246.8 1110.9 L247.1 1110.7 L247.4 1110.2 L247.8 1110.0 L248.3 1109.3 L248.8 1108.8 L249.3 1108.3 L249.8 1107.8 L250.3 1107.2 L250.9 1106.6 L251.4 1106.1 L252.0 1105.5 L252.6 1105.0 L253.2 1104.3 L253.8 1103.5 L254.5 1102.9 L255.2 1102.1 L255.8 1101.4 L256.5 1100.8 L257.2 1100.1 L257.9 1099.4 L258.6 1098.6 L259.3 1098.1 L260.0 1097.5 L260.7 1097.0 L261.4 1096.4 L262.1 1095.9 L262.9 1095.4 L263.6 1094.9 L264.3 1094.4 L265.0 1093.8 L265.7 1093.5 L266.4 1093.0 L267.0 1092.7 L267.5 1092.2 L268.0 1091.7 L268.4 1091.5 L268.8 1091.0 L269.1 1090.7 L269.4 1090.4 L269.6 1090.1 L269.8 1089.8 L270.0 1089.5 L270.2 1089.2 L270.4 1088.9 L270.6 1088.7 L270.8 1088.3 L271.0 1088.0 L271.3 1087.8 L271.5 1087.3 L271.8 1087.0 L272.0 1086.7 L272.3 1086.3 L272.5 1085.9 L272.8 1085.4 L273.0 1085.1 L273.3 1084.8 L273.5 1084.6 L273.8 1084.3 L274.0 1084.0 L274.2 1083.7 L274.4 1083.6 L274.7 1083.4 L274.9 1083.2 L275.1 1083.1 L275.3 1083.0 L275.5 1082.9 L275.7 1082.8 L275.9 1082.8 L276.1 1082.7 L276.3 1082.7 L276.5 1082.6 L276.7 1082.6 L276.9 1082.5 L277.1 1082.7 L277.4 1082.8 L277.6 1082.9 L277.8 1083.1 L278.0 1083.2 L278.2 1083.4 L278.4 1083.5 L278.6 1083.6 L278.8 1083.8 L279.0 1083.9 L279.2 1084.1 L279.4 1084.4 L279.5 1084.6 L279.7 1085.0 L279.9 1085.2 L280.0 1085.4 L280.2 1085.8 L280.4 1086.1 L280.5 1086.4 L280.7 1086.6 L280.8 1086.7 L281.0 1087.0 L281.2 1087.2 L281.3 1087.4 L281.5 1087.5 L281.6 1087.7 L281.7 1087.8 L281.9 1087.9 L282.0 1088.0 L282.2 1088.2 L282.4 1088.2 L282.6 1088.3 L282.8 1088.4 L283.0 1088.5 L283.3 1088.5 L283.6 1088.5 L284.0 1088.6 L284.3 1088.7 L284.7 1088.7 L285.1 1088.7 L285.5 1088.8 L285.9 1088.6 L286.2 1088.7 L286.5 1088.7 L286.8 1088.8 L287.0 1088.6 L288.3 1088.9 L289.6 1088.7 L290.9 1088.7 L292.2 1088.7 L293.6 1088.7 L294.9 1088.8 L296.2 1088.7 L297.5 1088.7 L298.8 1088.6 L300.1 1088.7 L301.4 1088.7 L302.8 1088.7 L304.1 1088.7 L305.4 1088.7 L306.7 1088.7 L308.0 1088.7 L308.0 1088.7 L308.1 1088.6 L308.3 1088.3 L308.5 1088.3 L308.8 1088.0 L309.0 1087.8 L309.3 1087.5 L309.6 1087.3 L309.9 1087.1 L310.2 1086.8 L310.5 1086.5 L310.7 1086.3 L311.0 1086.0 L311.2 1085.8 L311.5 1085.4 L311.7 1085.2 L312.0 1084.9 L312.2 1084.6 L312.4 1084.3 L312.7 1084.0 L312.9 1083.7 L313.2 1083.5 L313.4 1083.3 L313.7 1083.0 L314.0 1082.9 L314.3 1082.5 L314.5 1082.4 L314.7 1082.2 L315.0 1082.1 L315.2 1082.0 L315.4 1081.8 L315.7 1081.6 L316.0 1081.6 L316.4 1081.4 L316.9 1081.4 L317.4 1081.2 L318.0 1081.2 L318.7 1081.1 L319.3 1081.0 L320.0 1081.1 L320.7 1080.9 L321.5 1080.9 L322.3 1080.8 L323.2 1080.8 L324.3 1080.8 L325.4 1080.7 L326.8 1080.6 L328.3 1080.6 L330.0 1080.6 L332.0 1080.5 L334.5 1080.4 L335.8 1080.4 L337.2 1080.4 L338.7 1080.4 L340.2 1080.4 L341.7 1080.3 L343.3 1080.4 L344.9 1080.2 L346.4 1080.3 L348.0 1080.2 L349.6 1080.4 L351.1 1080.2 L352.5 1080.1 L353.9 1080.1 L355.3 1080.0 L357.8 1080.1 L359.8 1080.1 L361.4 1080.1 L361.4 1078.5 L361.5 1077.0 L361.5 1075.6 L361.6 1074.1 L361.6 1072.6 L361.6 1072.6 L361.8 1072.6 L362.0 1072.7 L362.2 1072.5 L362.5 1072.5 L362.7 1072.6 L363.1 1072.6 L363.4 1072.5 L363.7 1072.5 L364.0 1072.6 L364.4 1072.5 L364.7 1072.4 L365.0 1072.7 L365.3 1072.6 L365.6 1072.7 L366.0 1072.8 L366.3 1072.9 L366.7 1072.9 L367.1 1073.0 L367.4 1073.1 L367.8 1073.1 L368.1 1073.3 L368.4 1073.3 L368.7 1073.4 L369.0 1073.6 L369.3 1073.8 L369.5 1073.8 L369.7 1074.0 L370.0 1074.2 L370.2 1074.2 L370.4 1074.4 L370.6 1074.5 L370.8 1074.7 L370.9 1075.0 L371.1 1075.2 L371.3 1075.4 L371.5 1075.5 L371.7 1075.7 L371.9 1076.1 L372.0 1076.3 L372.2 1076.5 L372.4 1077.0 L372.6 1077.3 L372.7 1077.7 L372.9 1078.1 L373.0 1078.3 L373.2 1078.5 L373.4 1078.8 L373.5 1079.0 L373.6 1079.2 L373.8 1079.4 L373.9 1079.6 L374.0 1079.8 L374.1 1080.0 L374.2 1080.1 L374.4 1080.2 L374.5 1080.4 L374.6 1080.5 L374.7 1080.5 L374.9 1080.6 L375.0 1080.6 L375.1 1080.6 L375.3 1080.5 L375.4 1080.4 L375.6 1080.2 L375.7 1080.2 L375.9 1080.0 L376.1 1079.9 L376.2 1079.7 L376.4 1079.5 L376.6 1079.4 L376.8 1079.3 L377.0 1079.2 L377.2 1079.2 L377.5 1079.0 L377.8 1079.0 L378.0 1079.2 L378.3 1079.0 L378.6 1079.0 L378.9 1078.9 L379.2 1079.0 L379.4 1079.0 L379.7 1079.0 L379.9 1078.8 L380.0 1078.9" fill="none" stroke="#231f20" stroke-width="2.5" stroke-linejoin="round" stroke-linecap="butt" clip-path="url(#c4)"/>
<path d="M379.5 1078.9 L380.5 1079.0 L381.5 1079.3 L382.5 1079.2 L383.5 1078.4 L384.5 1078.9 L385.5 1079.0 L386.5 1079.1 L387.5 1079.0 L388.5 1079.5 L389.5 1078.8 L390.5 1078.7 L391.5 1078.9 L392.5 1078.8 L393.5 1078.7 L394.5 1078.9 L395.5 1078.9 L396.5 1078.4 L397.5 1078.8 L398.5 1078.7 L399.5 1079.3 L400.5 1079.0 L401.5 1078.9 L402.5 1078.9 L403.5 1079.2 L404.5 1078.4 L405.5 1078.7 L406.5 1079.2 L407.5 1078.5 L408.5 1078.3 L409.5 1078.7 L410.5 1078.6 L411.5 1078.9 L412.5 1078.6 L413.5 1079.3 L414.5 1079.0 L415.5 1078.7 L416.5 1079.0 L417.5 1078.7 L418.5 1079.0 L419.5 1078.7 L420.5 1079.4 L421.5 1079.1 L422.5 1078.7 L423.5 1079.0 L424.5 1078.8 L425.5 1078.4 L426.5 1078.9 L427.5 1079.0 L428.5 1078.6 L429.5 1079.3 L430.5 1079.6 L431.5 1078.6 L432.5 1078.6 L433.5 1078.8 L434.5 1079.0 L435.5 1078.6 L436.5 1078.8 L437.5 1079.2 L438.5 1078.6 L439.5 1078.9 L440.5 1078.5 L441.5 1078.9 L442.5 1078.7 L443.5 1079.3 L444.5 1078.9 L445.5 1078.7 L446.5 1078.8 L447.5 1079.3 L448.5 1079.2 L449.5 1078.8 L450.5 1078.5 L451.5 1078.9 L452.5 1079.2 L453.5 1078.9 L454.5 1078.5 L455.5 1079.0 L456.5 1078.8 L457.5 1078.9 L458.5 1078.9 L459.5 1078.6 L460.5 1078.6 L461.5 1079.2 L462.5 1079.0 L463.5 1078.6 L464.5 1078.4 L465.5 1079.2 L466.5 1079.1 L467.5 1078.9 L468.5 1078.8 L469.5 1079.5 L470.5 1078.5 L471.5 1078.8 L472.5 1079.1 L473.5 1079.0 L474.5 1079.1 L475.5 1078.5 L476.5 1079.1 L477.5 1079.3 L478.5 1078.8 L479.5 1079.2 L480.5 1078.8 L481.5 1078.9 L482.5 1078.9 L483.5 1078.8 L484.5 1078.9 L485.5 1079.3 L486.5 1079.3 L487.5 1079.1 L488.5 1079.1 L489.5 1078.5 L490.5 1078.8 L491.5 1079.0 L492.5 1078.9 L493.5 1078.8 L494.5 1078.6 L495.5 1079.2 L496.5 1079.1 L497.5 1078.1 L498.5 1079.7 L499.5 1079.1 L500.5 1079.0 L501.5 1079.2 L502.5 1079.1 L503.5 1079.4 L504.5 1078.8 L505.5 1079.2 L506.5 1079.1 L507.5 1078.4 L508.5 1079.5 L509.5 1078.8 L510.5 1078.5 L511.5 1078.9 L512.5 1079.2 L513.5 1078.6 L514.5 1078.9 L515.5 1078.8 L516.5 1078.8 L517.5 1078.1 L518.5 1079.3 L519.5 1078.6 L520.5 1079.1 L521.5 1078.9 L522.5 1078.4 L523.5 1078.9 L524.5 1078.6 L525.5 1078.9" fill="none" stroke="#231f20" stroke-width="2.7" stroke-linejoin="round" stroke-linecap="butt" clip-path="url(#c4)"/>
<path d="M215.5 1199.8 L216.5 1200.1 L217.5 1200.1 L218.5 1200.3 L219.5 1200.5 L220.5 1199.7 L221.6 1200.9 L222.6 1201.3 L223.6 1200.3 L224.6 1201.3 L225.6 1200.9 L226.6 1200.9 L227.6 1200.0 L228.6 1200.9 L229.6 1199.1 L230.6 1199.2 L231.6 1200.5 L232.7 1201.1 L233.7 1200.4 L234.7 1199.6 L235.7 1199.4 L236.7 1200.3 L237.7 1200.4 L238.7 1199.5 L239.7 1200.1 L240.7 1200.1 L241.7 1199.9 L242.8 1198.9 L243.8 1199.6 L244.8 1200.2 L245.8 1201.2 L246.8 1201.0 L247.8 1200.0 L248.8 1199.7 L249.8 1200.4 L250.8 1199.9 L251.8 1200.3 L252.8 1200.6 L253.9 1200.4 L254.9 1200.7 L255.9 1201.2 L256.9 1199.5 L257.9 1201.1 L258.9 1199.1 L259.9 1199.7 L260.9 1200.9 L261.9 1199.7 L262.9 1199.8 L263.9 1200.3 L265.0 1199.8 L266.0 1200.0 L267.0 1200.3 L268.0 1200.1 L269.0 1199.9 L270.0 1199.8 L270.0 1200.2 L270.1 1199.5 L270.3 1200.2 L270.6 1201.5 L270.8 1199.4 L271.1 1198.5 L271.3 1200.2 L271.6 1199.5 L271.9 1198.4 L272.2 1197.9 L272.5 1197.7 L272.8 1197.6 L273.0 1196.4 L273.2 1196.6 L273.5 1194.7 L273.7 1194.6 L273.9 1194.0 L274.1 1193.5 L274.3 1193.0 L274.6 1192.1 L274.8 1191.6 L275.0 1191.5 L275.1 1191.6 L275.3 1189.3 L275.5 1189.2 L275.7 1188.3 L275.8 1188.0 L275.9 1187.4 L276.1 1186.9 L276.2 1186.5 L276.3 1186.0 L276.4 1185.6 L276.5 1185.3 L276.6 1185.0 L276.8 1184.8 L276.9 1184.6 L277.0 1184.6 L277.1 1184.6 L277.2 1184.8 L277.4 1185.0 L277.5 1185.3 L277.6 1185.6 L277.7 1186.0 L277.8 1186.4 L278.0 1186.9 L278.1 1187.4 L278.2 1187.9 L278.4 1188.5 L278.5 1189.0 L278.6 1189.6 L278.8 1190.3 L279.0 1190.7 L279.1 1191.5 L279.3 1192.7 L279.4 1194.1 L279.6 1194.2 L279.8 1194.9 L280.0 1195.5 L280.1 1195.7 L280.3 1196.4 L280.5 1197.5 L280.7 1198.4 L280.9 1198.4 L281.1 1198.2 L281.4 1198.9 L281.6 1199.7 L281.9 1199.4 L282.1 1200.1 L282.3 1198.9 L282.5 1200.0 L282.7 1199.4 L282.9 1200.1 L283.0 1199.1 L284.0 1200.2 L285.0 1200.5 L286.1 1200.5 L287.1 1200.8 L288.1 1200.3 L289.1 1198.9 L290.1 1200.6 L291.2 1200.7 L292.2 1200.0 L293.2 1199.9 L294.2 1200.2 L295.2 1200.2 L296.3 1199.5 L297.3 1200.8 L298.3 1201.2 L299.3 1200.5 L300.3 1200.3 L301.4 1198.3 L302.4 1200.5 L303.4 1200.5 L304.4 1200.5 L305.4 1200.3 L306.5 1199.7 L307.5 1200.3 L308.5 1200.2 L308.5 1200.2 L308.6 1200.0 L308.8 1199.8 L308.9 1199.9 L309.1 1199.3 L309.3 1198.6 L309.6 1197.9 L309.8 1197.0 L310.0 1198.5 L310.3 1196.8 L310.5 1197.0 L310.8 1195.9 L311.0 1195.1 L311.2 1194.4 L311.5 1193.2 L311.7 1193.0 L312.0 1190.7 L312.2 1189.6 L312.5 1188.5 L312.7 1187.5 L313.0 1186.9 L313.2 1184.5 L313.5 1182.4 L313.7 1183.1 L314.0 1182.4 L314.2 1181.2 L314.5 1180.6 L314.7 1180.4 L315.0 1179.0 L315.2 1178.5 L315.4 1177.6 L315.7 1178.1 L315.9 1177.4 L316.2 1177.4 L316.4 1176.5 L316.7 1175.7 L317.0 1177.2 L317.3 1176.5 L317.5 1176.7 L317.7 1176.6 L317.9 1174.8 L318.1 1176.1 L318.3 1174.9 L318.6 1174.2 L318.9 1174.7 L319.3 1174.9 L319.7 1176.2 L320.3 1175.0 L321.0 1174.9 L321.8 1175.1 L322.7 1174.9 L323.8 1174.5 L324.9 1175.6 L326.1 1173.8 L327.3 1173.6 L328.6 1173.0 L329.9 1173.3 L331.2 1173.3 L332.5 1173.5 L333.8 1173.4 L335.0 1174.3 L336.2 1173.8 L337.5 1172.9 L338.8 1173.1 L340.1 1172.5 L341.4 1172.5 L342.7 1172.4 L344.0 1173.5 L345.2 1171.5 L346.5 1171.4 L347.7 1172.1 L348.9 1171.1 L350.0 1170.9 L351.1 1171.5 L352.2 1170.5 L353.4 1171.7 L354.5 1171.1 L355.5 1170.3 L356.6 1170.3 L357.6 1169.8 L358.5 1170.9 L359.4 1169.9 L360.1 1169.8 L360.8 1169.1 L361.3 1170.4" fill="none" stroke="#231f20" stroke-width="3.9" stroke-linejoin="round" stroke-linecap="butt" clip-path="url(#c4)"/>
<path d="M361.9 1171.0 L361.9 1169.7 L361.9 1168.4 L361.9 1167.1 L361.9 1165.8 L361.9 1164.5 L361.9 1163.2 L361.9 1161.9 L361.9 1160.6 L361.9 1159.2 L361.9 1157.9 L361.9 1156.6 L361.9 1155.3 L361.9 1154.0 L362.0 1152.7 L362.0 1151.4 L362.0 1150.1 L362.0 1148.8 L362.0 1147.5 L362.0 1146.2 L362.0 1144.9 L362.0 1143.6 L362.0 1142.3 L362.0 1141.0 L362.0 1139.7 L362.0 1138.4 L362.0 1137.1 L362.0 1135.8 L362.0 1134.4 L362.0 1133.1 L362.0 1131.8 L362.0 1130.5 L362.0 1129.2 L362.0 1127.9 L362.0 1126.6 L362.0 1125.3 L362.0 1124.0 L362.0 1122.7 L362.0 1121.4 L362.0 1120.1 L362.0 1118.8 L362.1 1117.5 L362.1 1116.2 L362.1 1114.9 L362.1 1113.6 L362.1 1112.2 L362.1 1110.9 L362.1 1109.6 L362.1 1108.3 L362.1 1107.0 L362.1 1105.7 L362.1 1104.4 L362.1 1103.1 L362.1 1101.8 L362.1 1100.5" fill="none" stroke="#231f20" stroke-width="3.0" stroke-linejoin="round" stroke-linecap="butt" clip-path="url(#c4)"/>
<path d="M362.1 1100.5 L362.3 1100.5 L362.4 1100.6 L362.5 1100.7 L362.6 1100.9 L362.7 1101.1 L362.8 1101.3 L363.0 1101.5 L363.1 1101.7 L363.3 1101.9 L363.4 1102.2 L363.6 1102.4 L363.8 1102.7 L364.0 1103.0 L364.2 1103.3 L364.4 1103.6 L364.7 1103.9 L364.9 1104.2 L365.2 1104.5 L365.4 1104.9 L365.7 1105.2 L366.0 1105.6 L366.3 1106.0 L366.5 1106.5 L366.8 1107.0 L367.0 1107.5 L367.2 1108.1 L367.5 1108.7 L367.7 1109.3 L367.9 1110.0 L368.1 1110.7 L368.3 1111.4 L368.5 1112.2 L368.7 1113.0 L368.9 1113.7 L369.1 1114.5 L369.3 1115.2 L369.5 1116.0 L369.7 1116.7 L369.9 1117.5 L370.0 1118.3 L370.2 1119.0 L370.4 1119.8 L370.6 1120.6 L370.7 1121.4 L370.9 1122.1 L371.0 1122.9 L371.2 1123.8 L371.4 1124.6 L371.5 1125.4 L371.6 1126.2 L371.8 1127.1 L371.9 1127.9 L372.1 1128.7 L372.2 1129.6 L372.3 1130.4 L372.4 1131.3 L372.6 1132.2 L372.7 1133.1 L372.8 1134.0 L372.9 1135.0 L373.0 1136.0 L373.1 1137.0 L373.2 1138.1 L373.3 1139.2 L373.4 1140.2 L373.5 1141.4 L373.6 1142.5 L373.6 1143.7 L373.7 1144.9 L373.8 1146.1 L373.9 1147.4 L373.9 1148.7 L374.0 1150.0 L374.1 1151.4 L374.1 1153.0 L374.2 1154.7 L374.3 1156.5 L374.3 1158.3 L374.4 1160.1 L374.4 1161.9 L374.5 1163.5 L374.5 1165.1 L374.5 1166.4 L374.6 1167.6 L374.6 1168.5" fill="none" stroke="#231f20" stroke-width="2.6" stroke-linejoin="round" stroke-linecap="butt" clip-path="url(#c4)"/>
<path d="M374.8 1158.6 L375.7 1162.3 L376.6 1156.6 L377.5 1163.5 L378.4 1155.2 L379.3 1165.6 L380.2 1154.6 L381.1 1165.5 L382.0 1154.8 L382.9 1166.1 L383.8 1155.2 L384.7 1166.0 L385.6 1154.4 L386.5 1165.6 L387.4 1154.9 L388.3 1165.7 L389.2 1154.5 L390.1 1165.4 L391.0 1155.3 L391.9 1165.6 L392.8 1154.7 L393.7 1165.2 L394.6 1154.2 L395.5 1165.8 L396.4 1154.6 L397.3 1165.6 L398.2 1155.7 L399.1 1165.6 L400.0 1154.9 L400.9 1165.1 L401.8 1154.2 L402.7 1165.9 L403.6 1155.1 L404.5 1165.0 L405.4 1155.4 L406.3 1165.5 L407.2 1154.8 L408.1 1165.3 L409.0 1155.0 L409.9 1165.4 L410.8 1154.9 L411.7 1166.0 L412.6 1155.0 L413.5 1166.1 L414.4 1154.8 L415.3 1165.1 L416.2 1154.7 L417.1 1165.7 L418.0 1154.6 L418.9 1166.4 L419.8 1155.2 L420.7 1166.3 L421.6 1155.4 L422.5 1166.0 L423.4 1155.8 L424.3 1166.2 L425.2 1155.1 L426.1 1165.7 L427.0 1155.0 L427.9 1165.6 L428.8 1155.4 L429.7 1166.0 L430.6 1154.8 L431.5 1165.1 L432.4 1155.3 L433.3 1166.4 L434.2 1155.3 L435.1 1165.4 L436.0 1154.9 L436.9 1165.6 L437.8 1154.3 L438.7 1166.5 L439.6 1155.6 L440.5 1165.3 L441.4 1155.5 L442.3 1165.7 L443.2 1155.3 L444.1 1166.0 L445.0 1154.4 L445.9 1165.1 L446.8 1155.7 L447.7 1165.2 L448.6 1155.3 L449.5 1165.2 L450.4 1155.1 L451.3 1165.5 L452.2 1154.6 L453.1 1166.5 L454.0 1154.2 L454.9 1165.6 L455.8 1154.8 L456.7 1165.2 L457.6 1154.8 L458.5 1166.3 L459.4 1154.4 L460.3 1165.2 L461.2 1155.5 L462.1 1166.4 L463.0 1154.7 L463.9 1166.1 L464.8 1155.7 L465.7 1165.9 L466.6 1155.7 L467.5 1166.1 L468.4 1154.5 L469.3 1165.5 L470.2 1155.8 L471.1 1166.1 L472.0 1154.2 L472.9 1165.9 L473.8 1155.2 L474.7 1165.5 L475.6 1154.5 L476.5 1166.5 L477.4 1155.2 L478.3 1165.3 L479.2 1154.2 L480.1 1165.6 L481.0 1155.1 L481.9 1165.5 L482.8 1154.6 L483.7 1166.5 L484.6 1155.0 L485.5 1166.3 L486.4 1155.1 L487.3 1165.6 L488.2 1154.5 L489.1 1166.5 L490.0 1154.6 L490.9 1166.1 L491.8 1154.5 L492.7 1166.4 L493.6 1154.3 L494.5 1165.8 L495.4 1155.2 L496.3 1165.0 L497.2 1154.9 L498.1 1165.5 L499.0 1155.8 L499.9 1166.5 L500.8 1155.3 L501.7 1166.4 L502.6 1155.8 L503.5 1165.5 L504.4 1154.5 L505.3 1166.0 L506.2 1154.7 L507.1 1165.7 L508.0 1155.6 L508.9 1166.2 L509.8 1154.6 L510.7 1165.7 L511.6 1154.9 L512.5 1166.2 L513.4 1155.0 L514.3 1165.7 L515.2 1155.0 L516.1 1166.1 L517.0 1154.6 L517.9 1165.5 L518.8 1154.6 L519.7 1165.6 L520.6 1154.7 L521.5 1165.6 L522.4 1154.4 L523.3 1166.4 L524.2 1154.6 L525.1 1165.6" fill="none" stroke="#231f20" stroke-width="1.6" stroke-linejoin="round"/>
<clipPath id="c5"><rect x="677" y="1019" width="312" height="186"/></clipPath>
<rect x="677" y="1019" width="1" height="186" fill="#0d0d0d"/>
<rect x="708" y="1019" width="1" height="186" fill="#0d0d0d"/>
<rect x="739" y="1019" width="1" height="186" fill="#0d0d0d"/>
<rect x="770" y="1019" width="1" height="186" fill="#0d0d0d"/>
<rect x="802" y="1019" width="1" height="186" fill="#0d0d0d"/>
<rect x="833" y="1019" width="1" height="186" fill="#0d0d0d"/>
<rect x="864" y="1019" width="1" height="186" fill="#0d0d0d"/>
<rect x="895" y="1019" width="1" height="186" fill="#0d0d0d"/>
<rect x="926" y="1019" width="1" height="186" fill="#0d0d0d"/>
<rect x="957" y="1019" width="1" height="186" fill="#0d0d0d"/>
<rect x="988" y="1019" width="1" height="186" fill="#0d0d0d"/>
<rect x="677" y="1019" width="312" height="1" fill="#0d0d0d"/>
<rect x="677" y="1038" width="312" height="1" fill="#0d0d0d"/>
<rect x="677" y="1056" width="312" height="1" fill="#0d0d0d"/>
<rect x="677" y="1075" width="312" height="1" fill="#0d0d0d"/>
<rect x="677" y="1093" width="312" height="1" fill="#0d0d0d"/>
<rect x="677" y="1112" width="312" height="1" fill="#0d0d0d"/>
<rect x="677" y="1130" width="312" height="1" fill="#0d0d0d"/>
<rect x="677" y="1149" width="312" height="1" fill="#0d0d0d"/>
<rect x="677" y="1167" width="312" height="1" fill="#0d0d0d"/>
<rect x="677" y="1186" width="312" height="1" fill="#0d0d0d"/>
<rect x="677" y="1204" width="312" height="1" fill="#0d0d0d"/>
<path d="M677.5 1074.8 L678.8 1074.7 L680.2 1074.9 L681.5 1074.8 L682.9 1074.8 L684.2 1074.6 L685.5 1074.7 L686.9 1075.0 L688.2 1074.9 L689.6 1074.5 L690.9 1074.7 L692.2 1074.8 L693.6 1074.7 L694.9 1074.8 L696.2 1074.7 L697.6 1074.9 L698.9 1074.9 L700.3 1074.9 L701.6 1074.7 L702.9 1074.8 L704.3 1074.9 L705.6 1074.7 L707.0 1074.8 L708.3 1074.7 L708.3 1073.5 L708.3 1072.2 L708.3 1070.9 L708.3 1069.6 L708.3 1068.3 L708.4 1066.9 L708.4 1065.6 L708.4 1064.3 L708.4 1063.0 L708.4 1061.7 L708.4 1060.4 L708.4 1059.1 L708.4 1057.8 L708.4 1056.5 L708.4 1055.2 L708.5 1053.8 L708.5 1052.5 L708.5 1051.2 L708.5 1049.9 L708.5 1048.6 L708.5 1047.3 L709.8 1047.4 L711.1 1047.3 L712.4 1047.5 L713.7 1047.3 L715.0 1047.4 L716.3 1047.4 L717.6 1047.2 L718.9 1047.4 L720.2 1047.2 L721.5 1047.2 L722.8 1047.3 L724.1 1047.4 L725.4 1047.2 L726.7 1047.4 L728.0 1047.2 L729.3 1047.3 L730.6 1047.4 L731.9 1047.3 L733.2 1047.5 L734.5 1047.3 L735.8 1047.2 L737.2 1047.3 L738.5 1047.4 L739.8 1047.2 L741.1 1047.1 L742.4 1047.5 L743.7 1047.2 L745.0 1047.4 L746.3 1047.3 L747.6 1047.2 L748.9 1047.2 L750.2 1047.3 L751.5 1047.3 L752.8 1047.4 L754.1 1047.3 L755.4 1047.3 L756.7 1047.4 L758.0 1047.3 L759.3 1047.2 L760.6 1047.3 L761.9 1047.3 L763.2 1047.4 L764.5 1047.4 L765.8 1047.2 L767.1 1047.2 L768.4 1047.3 L769.7 1047.3 L771.0 1047.5 L772.3 1047.2 L773.6 1047.2 L774.9 1047.3 L776.2 1047.3 L777.5 1047.4 L778.8 1047.3 L780.1 1047.3 L781.4 1047.3 L782.7 1047.2 L784.0 1047.3 L785.3 1047.3 L786.6 1047.4 L787.9 1047.2 L789.2 1047.4 L790.5 1047.3 L791.8 1047.2 L793.2 1047.5 L794.5 1047.3 L795.8 1047.2 L797.1 1047.3 L798.4 1047.3 L799.7 1047.2 L801.0 1047.3 L802.3 1047.3 L803.6 1047.4 L804.9 1047.3 L806.2 1047.2 L807.5 1047.4 L808.8 1047.4 L810.1 1047.2 L811.4 1047.4 L812.7 1047.3 L814.0 1047.2 L815.3 1047.4 L816.6 1047.3 L817.9 1047.3 L819.2 1047.3 L820.5 1047.2 L821.8 1047.3 L823.1 1047.3 L824.4 1047.3 L825.7 1047.3 L827.0 1047.1 L828.3 1047.3 L829.6 1047.3 L830.9 1047.4 L832.2 1047.2 L833.5 1047.4 L834.8 1047.2 L836.1 1047.4 L837.4 1047.3 L838.7 1047.3 L840.0 1047.2 L841.3 1047.2 L842.6 1047.3 L843.9 1047.3 L845.2 1047.3 L846.5 1047.3 L847.8 1047.4 L849.2 1047.2 L850.5 1047.3 L851.8 1047.4 L853.1 1047.3 L854.4 1047.3 L855.7 1047.2 L857.0 1047.4 L858.3 1047.4 L859.6 1047.2 L860.9 1047.2 L862.2 1047.2 L863.5 1047.2 L864.8 1047.3 L866.1 1047.2 L867.4 1047.3 L868.7 1047.3 L870.0 1047.2 L871.3 1047.2 L872.6 1047.4 L873.9 1047.4 L875.2 1047.3 L876.5 1047.2 L877.8 1047.3 L879.1 1047.3 L880.4 1047.4 L881.7 1047.3 L883.0 1047.2 L884.3 1047.2 L885.6 1047.3 L886.9 1047.2 L888.2 1047.2 L889.5 1047.4 L890.8 1047.4 L892.1 1047.3 L893.4 1047.4 L894.7 1047.3 L896.0 1047.2 L897.3 1047.3 L898.6 1047.4 L899.9 1047.2 L901.2 1047.4 L902.5 1047.4 L903.8 1047.2 L905.2 1047.2 L906.5 1047.4 L907.8 1047.3 L909.1 1047.4 L910.4 1047.3 L911.7 1047.3 L913.0 1047.3 L914.3 1047.3 L915.6 1047.3 L916.9 1047.2 L918.2 1047.3 L919.5 1047.3 L920.8 1047.3 L922.1 1047.2 L923.4 1047.3 L924.7 1047.2 L926.0 1047.3 L927.3 1047.2 L928.6 1047.3 L929.9 1047.4 L931.2 1047.5 L932.5 1047.4 L933.8 1047.3 L935.1 1047.2 L936.4 1047.3 L937.7 1047.3 L939.0 1047.2 L940.3 1047.3 L941.6 1047.3 L942.9 1047.3 L944.2 1047.3 L945.5 1047.2 L946.8 1047.3 L948.1 1047.2 L949.4 1047.5 L950.7 1047.3 L952.0 1047.3 L953.3 1047.4 L954.6 1047.2 L955.9 1047.3 L957.2 1047.4 L958.5 1047.2 L959.8 1047.3 L961.2 1047.2 L962.5 1047.2 L963.8 1047.3 L965.1 1047.3 L966.4 1047.3 L967.7 1047.3 L969.0 1047.2 L970.3 1047.4 L971.6 1047.4 L972.9 1047.2 L974.2 1047.3 L975.5 1047.3 L976.8 1047.2 L978.1 1047.3 L979.4 1047.3 L980.7 1047.3 L982.0 1047.3 L983.3 1047.3 L984.6 1047.3 L985.9 1047.3 L987.2 1047.3 L988.5 1047.3" fill="none" stroke="#231f20" stroke-width="3.2" stroke-linejoin="round" stroke-linecap="butt" clip-path="url(#c5)"/>
<path d="M677.5 1111.3 L678.8 1111.1 L680.2 1111.2 L681.5 1111.3 L682.8 1111.2 L684.1 1111.2 L685.5 1111.3 L686.8 1111.3 L688.1 1111.2 L689.4 1111.1 L690.8 1111.2 L692.1 1111.1 L693.4 1111.2 L694.7 1111.2 L696.1 1111.0 L697.4 1111.2 L698.7 1111.2 L700.0 1111.2 L701.4 1111.2 L702.7 1111.1 L704.0 1111.0 L705.3 1110.9 L706.7 1111.2 L708.0 1111.3 L708.0 1111.2 L708.3 1111.3 L708.5 1111.3 L708.8 1110.9 L709.2 1111.1 L709.6 1110.9 L710.0 1110.7 L710.5 1110.8 L711.0 1110.7 L711.7 1110.7 L712.4 1110.6 L713.1 1110.4 L714.0 1110.4 L714.9 1110.2 L715.8 1109.8 L716.6 1109.7 L717.5 1109.5 L718.5 1109.1 L719.6 1108.8 L720.8 1108.5 L722.2 1108.1 L723.8 1107.9 L725.6 1107.5 L727.6 1106.9 L730.0 1106.6 L731.4 1106.2 L732.8 1106.2 L734.5 1105.7 L736.2 1105.5 L738.1 1105.0 L740.1 1104.5 L741.4 1104.3 L742.8 1104.1 L744.2 1103.7 L745.6 1103.7 L747.1 1103.2 L748.5 1103.3 L750.0 1102.6 L751.5 1102.3 L753.0 1102.3 L754.4 1101.9 L755.9 1101.5 L757.3 1101.5 L758.8 1101.1 L760.2 1100.8 L761.6 1100.5 L762.9 1100.4 L764.2 1100.1 L765.5 1099.8 L767.3 1099.5 L769.1 1099.2 L770.6 1098.7 L772.2 1098.7 L774.6 1098.0 L776.4 1097.5 L777.8 1097.3 L778.7 1096.9 L779.4 1096.9 L779.7 1096.8 L779.8 1096.5 L779.8 1096.4 L779.8 1096.3 L779.7 1096.1 L779.6 1096.0 L779.7 1095.6 L780.0 1095.5 L780.4 1095.2 L780.7 1094.8 L781.1 1094.4 L781.4 1094.1 L781.7 1093.6 L782.1 1093.5 L782.4 1092.9 L782.7 1092.7 L783.0 1092.2 L783.3 1092.0 L783.7 1091.4 L784.0 1091.1 L784.4 1090.6 L784.7 1090.0 L785.1 1089.5 L785.5 1089.2 L785.9 1088.6 L786.3 1087.9 L786.7 1087.6 L787.1 1087.2 L787.4 1086.6 L787.8 1086.4 L788.2 1085.8 L788.5 1085.3 L788.8 1085.2 L789.1 1085.3 L789.4 1084.9 L789.7 1084.9 L790.0 1084.9 L790.3 1084.8 L790.6 1085.0 L790.8 1084.9 L791.1 1084.8 L791.4 1084.6 L791.7 1084.8 L792.0 1084.7 L792.3 1084.3 L792.7 1084.4 L793.0 1084.2 L793.4 1083.9 L793.8 1084.1 L794.1 1084.3 L794.5 1084.0 L794.8 1084.2 L795.1 1084.1 L795.4 1083.9 L795.6 1083.9 L795.8 1083.8 L795.8 1082.5 L795.9 1081.2 L796.0 1079.9 L796.0 1078.6 L796.0 1077.3 L796.1 1076.0 L796.2 1074.7 L796.2 1073.4 L797.6 1073.3 L798.9 1073.4 L800.3 1073.2 L801.7 1073.5 L803.0 1073.6 L804.4 1073.6 L805.8 1073.4 L807.1 1073.6 L808.5 1073.4 L808.5 1073.2 L808.8 1073.5 L809.2 1073.7 L809.7 1073.5 L810.2 1073.8 L810.8 1073.8 L811.4 1073.8 L812.1 1073.9 L812.7 1074.1 L813.3 1074.3 L813.9 1074.4 L814.5 1074.6 L815.0 1074.8 L815.5 1074.9 L815.9 1075.0 L816.4 1075.3 L816.8 1075.4 L817.2 1075.5 L817.6 1075.6 L818.0 1075.7 L818.4 1075.9 L818.8 1076.1 L819.2 1076.3 L819.6 1076.5 L820.0 1076.6 L820.4 1077.1 L820.8 1077.2 L821.2 1077.5 L821.6 1077.7 L822.0 1078.3 L822.3 1078.5 L822.7 1078.6 L823.1 1078.7 L823.5 1079.1 L823.8 1079.3 L824.2 1079.4 L824.6 1079.6 L825.0 1079.4 L825.3 1079.5 L825.7 1079.6 L826.1 1079.5 L826.5 1079.4 L826.8 1079.4 L827.2 1079.0 L827.6 1079.0 L827.9 1079.0 L828.3 1078.9 L828.6 1078.7 L829.0 1078.4 L829.3 1078.5 L829.7 1078.2 L830.0 1078.4 L830.3 1078.5 L830.5 1078.2 L830.8 1078.2 L831.1 1078.1 L831.5 1078.0 L831.8 1078.0 L832.2 1078.0 L832.6 1078.0 L833.0 1078.4 L833.5 1078.2 L834.1 1078.0 L834.7 1078.2 L835.4 1078.2 L836.1 1078.3 L836.8 1078.4 L837.4 1078.7 L838.1 1078.7 L838.7 1078.6 L839.2 1078.8 L839.7 1078.9 L840.0 1078.7" fill="none" stroke="#231f20" stroke-width="2.2" stroke-linejoin="round" stroke-linecap="butt" clip-path="url(#c5)"/>
<path d="M840.0 1079.4 L841.0 1079.5 L842.0 1079.6 L843.0 1078.6 L844.0 1078.4 L845.0 1079.0 L846.0 1078.4 L847.0 1077.9 L848.0 1078.3 L849.0 1078.4 L850.0 1078.4 L851.0 1078.6 L852.0 1079.0 L853.0 1079.3 L854.0 1079.0 L855.0 1079.2 L856.0 1079.3 L857.0 1079.0 L858.0 1078.3 L859.0 1078.0 L860.0 1078.1 L861.0 1078.4 L862.0 1078.3 L863.0 1078.4 L864.0 1078.4 L865.0 1079.0 L866.0 1079.8 L867.0 1079.2 L868.0 1079.9 L869.0 1078.6 L870.0 1078.6 L871.0 1079.0 L872.0 1078.1 L873.0 1078.0 L874.0 1078.4 L875.0 1077.9 L876.0 1078.3 L877.0 1078.4 L878.0 1079.4 L879.0 1079.4 L880.0 1079.7 L881.0 1079.4 L882.0 1079.3 L883.0 1078.9 L884.0 1078.7 L885.0 1078.1 L886.0 1078.1 L887.0 1077.9 L888.0 1078.6 L889.0 1078.2 L890.0 1078.7 L891.0 1079.3 L892.0 1079.4 L893.0 1079.5 L894.0 1079.4 L895.0 1079.3 L896.0 1078.8 L897.0 1078.4 L898.0 1078.2 L899.0 1078.0 L900.0 1077.8 L901.0 1078.6 L902.0 1078.0 L903.0 1079.1 L904.0 1079.0 L905.0 1079.7 L906.0 1079.4 L907.0 1079.3 L908.0 1079.4 L909.0 1078.4 L910.0 1078.6 L911.0 1078.8 L912.0 1078.5 L913.0 1078.0 L914.0 1078.0 L915.0 1078.3 L916.0 1079.0 L917.0 1078.8 L918.0 1079.5 L919.0 1079.0 L920.0 1079.5 L921.0 1079.3 L922.0 1078.8 L923.0 1079.2 L924.0 1078.5 L925.0 1078.4 L926.0 1078.6 L927.0 1078.2 L928.0 1078.6 L929.0 1079.1 L930.0 1079.1 L931.0 1079.2 L932.0 1079.3 L933.0 1079.6 L934.0 1079.2 L935.0 1079.2 L936.0 1078.4 L937.0 1078.4 L938.0 1078.5 L939.0 1077.9 L940.0 1078.5 L941.0 1078.5 L942.0 1079.0 L943.0 1078.9 L944.0 1079.3 L945.0 1079.0 L946.0 1079.5 L947.0 1079.1 L948.0 1078.9 L949.0 1078.4 L950.0 1078.7 L951.0 1078.3 L952.0 1078.5 L953.0 1078.1 L954.0 1078.5 L955.0 1079.0 L956.0 1079.6 L957.0 1079.8 L958.0 1079.6 L959.0 1079.6 L960.0 1079.4 L961.0 1078.7 L962.0 1078.6 L963.0 1078.0 L964.0 1077.9 L965.0 1078.2 L966.0 1078.4 L967.0 1078.7 L968.0 1079.3 L969.0 1078.8 L970.0 1079.1 L971.0 1079.2 L972.0 1079.5 L973.0 1079.1 L974.0 1078.6 L975.0 1078.8 L976.0 1078.3 L977.0 1078.0 L978.0 1078.5 L979.0 1078.6 L980.0 1078.4 L981.0 1078.8 L982.0 1079.0 L983.0 1079.2 L984.0 1079.2 L985.0 1079.3 L986.0 1079.0 L987.0 1079.0 L988.0 1078.8 L989.0 1078.3 L990.0 1077.8 L991.0 1078.4" fill="none" stroke="#231f20" stroke-width="2.9" stroke-linejoin="round" stroke-linecap="butt" clip-path="url(#c5)"/>
<path d="M677.5 1185.7 L678.5 1187.9 L679.5 1186.9 L680.5 1186.1 L681.5 1187.8 L682.5 1185.1 L683.5 1186.3 L684.5 1186.9 L685.5 1186.3 L686.5 1186.2 L687.5 1185.1 L688.5 1187.5 L689.6 1185.0 L690.6 1183.4 L691.6 1185.6 L692.6 1187.2 L693.6 1186.2 L694.6 1185.9 L695.6 1186.1 L696.6 1186.6 L697.6 1185.8 L698.6 1185.5 L699.6 1185.8 L700.6 1185.4 L701.6 1187.0 L702.6 1186.0 L703.6 1186.8 L704.6 1185.5 L705.6 1185.0 L706.6 1188.6 L707.6 1187.5 L708.6 1186.8 L709.6 1186.6 L710.6 1186.0 L711.7 1187.1 L712.7 1184.0 L713.7 1186.3 L714.7 1187.3 L715.7 1187.0 L716.7 1185.7 L717.7 1185.7 L718.7 1185.5 L719.7 1187.1 L720.7 1187.5 L721.7 1185.1 L722.7 1185.8 L723.7 1186.2 L724.7 1185.0 L725.7 1187.6 L726.7 1185.3 L727.7 1186.6 L728.7 1186.0 L729.7 1186.0 L730.7 1185.3 L731.7 1185.0 L732.7 1187.0 L733.8 1186.9 L734.8 1186.7 L735.8 1185.6 L736.8 1185.3 L737.8 1186.0 L738.8 1185.3 L739.8 1185.9 L740.8 1184.9 L741.8 1188.1 L742.8 1184.9 L743.8 1182.8 L744.8 1185.6 L745.8 1187.2 L746.8 1184.9 L747.8 1187.7 L748.8 1185.2 L749.8 1187.3 L750.8 1186.8 L751.8 1187.3 L752.8 1185.9 L753.8 1188.4 L754.8 1184.5 L755.9 1188.0 L756.9 1185.4 L757.9 1185.8 L758.9 1184.0 L759.9 1185.5 L760.9 1185.6 L761.9 1184.5 L762.9 1184.9 L763.9 1185.6 L764.9 1187.4 L765.9 1187.7 L766.9 1185.3 L767.9 1185.1 L768.9 1185.6 L769.9 1187.8 L770.9 1185.3 L771.9 1186.1 L772.9 1187.9 L773.9 1186.1 L774.9 1185.4 L775.9 1184.5 L776.9 1185.9 L778.0 1185.3 L779.0 1188.3 L780.0 1185.6 L781.0 1185.7 L782.0 1185.3 L783.0 1185.9 L784.0 1186.2 L785.0 1187.6 L786.0 1185.0 L787.0 1185.3 L788.0 1185.6 L789.0 1186.3 L789.0 1186.2 L789.2 1185.9 L789.5 1185.4 L789.8 1186.3 L790.1 1184.9 L790.5 1184.9 L790.8 1183.6 L791.2 1183.8 L791.6 1184.5 L792.0 1184.9 L792.4 1186.3 L792.7 1184.4 L793.0 1182.9 L793.3 1184.0 L793.5 1184.0 L793.8 1183.4 L794.1 1185.3 L794.3 1182.9 L794.5 1183.5 L794.7 1182.7 L794.9 1180.9 L795.1 1182.1 L795.3 1181.9 L795.5 1181.3 L795.6 1181.0 L795.7 1180.6 L795.8 1180.2 L795.9 1179.8 L795.9 1179.3 L795.9 1178.8 L796.0 1178.3 L796.0 1177.8 L796.0 1177.4 L796.0 1176.9 L796.0 1176.6 L796.0 1176.2 L796.0 1177.4" fill="none" stroke="#231f20" stroke-width="5.0" stroke-linejoin="round" stroke-linecap="butt" clip-path="url(#c5)"/>
<path d="M796.1 1180.0 L796.1 1178.7 L796.1 1177.4 L796.1 1176.1 L796.1 1174.8 L796.1 1173.4 L796.1 1172.1 L796.1 1170.8 L796.1 1169.5 L796.1 1168.2 L796.1 1166.9 L796.1 1165.6 L796.1 1164.3 L796.1 1163.0 L796.1 1161.7 L796.2 1160.3 L796.2 1159.0 L796.2 1157.7 L796.2 1156.4 L796.2 1155.1 L796.2 1153.8 L796.2 1152.5 L796.2 1151.2 L796.2 1149.9 L796.2 1148.6 L796.2 1147.2 L796.2 1145.9 L796.2 1144.6 L796.2 1143.3 L796.2 1142.0 L796.2 1140.7 L796.2 1139.4 L796.2 1138.1 L796.2 1136.8 L796.2 1135.4 L796.2 1134.1 L796.2 1132.8 L796.2 1131.5 L796.2 1130.2 L796.2 1128.9 L796.2 1127.6 L796.2 1126.3 L796.2 1125.0 L796.2 1123.7 L796.3 1122.3 L796.3 1121.0 L796.3 1119.7 L796.3 1118.4 L796.3 1117.1 L796.3 1115.8 L796.3 1114.5 L796.3 1113.2 L796.3 1111.9 L796.3 1110.6 L796.3 1109.2 L796.3 1107.9 L796.3 1106.6 L796.3 1105.3 L796.3 1104.0" fill="none" stroke="#231f20" stroke-width="3.0" stroke-linejoin="round" stroke-linecap="butt" clip-path="url(#c5)"/>
<path d="M796.3 1105.7 L797.5 1105.5 L798.8 1105.8 L800.0 1105.7 L801.0 1105.7 L802.0 1106.2 L803.0 1106.7 L804.0 1106.0 L805.0 1107.1 L806.0 1105.8 L807.0 1108.1 L808.0 1108.3 L809.0 1107.4 L810.0 1108.5 L811.0 1109.1 L811.6 1109.9 L812.1 1110.2 L812.7 1113.6 L813.2 1112.8 L813.8 1114.4" fill="none" stroke="#231f20" stroke-width="5.0" stroke-linejoin="round" stroke-linecap="butt" clip-path="url(#c5)"/>
<path d="M813.8 1114.1 L814.0 1115.2 L814.1 1116.0 L814.4 1117.1 L814.6 1117.7 L814.9 1117.9 L815.1 1119.8 L815.4 1120.4 L815.8 1121.5 L816.1 1122.4 L816.4 1123.2 L816.7 1124.9 L817.0 1125.6 L817.3 1127.0 L817.6 1128.9 L817.9 1129.5 L818.3 1130.9 L818.6 1132.3 L818.9 1132.4 L819.3 1134.2 L819.6 1136.5 L820.0 1137.6 L820.3 1138.3 L820.7 1138.8 L821.0 1141.3 L821.4 1143.1 L821.7 1143.7 L822.1 1146.3 L822.5 1147.6 L822.9 1149.2 L823.3 1151.8 L823.7 1153.0 L824.1 1154.2 L824.4 1156.4 L824.8 1158.0 L825.1 1159.2 L825.4 1158.8 L825.7 1160.3 L825.9 1159.7 L826.1 1159.5 L826.3 1158.6 L826.5 1158.1 L826.7 1157.3 L826.9 1156.8 L827.1 1155.8 L827.3 1154.4 L827.5 1154.2 L827.7 1153.4 L828.0 1153.5 L828.3 1152.7 L828.6 1152.6 L828.9 1152.0 L829.2 1150.3 L829.6 1150.5 L829.9 1150.6 L830.3 1149.4 L830.6 1149.8 L831.0 1148.7 L831.3 1148.7 L831.7 1148.5 L832.0 1147.8 L832.3 1147.0 L832.7 1146.9 L833.1 1146.4 L833.5 1145.5 L833.9 1146.2 L834.2 1145.4 L834.6 1145.4 L835.0 1145.5 L835.3 1144.3 L835.6 1145.2 L835.8 1143.3 L836.0 1143.6" fill="none" stroke="#231f20" stroke-width="3.6" stroke-linejoin="round" stroke-linecap="butt" clip-path="url(#c5)"/>
<path d="M836.0 1144.0 L836.2 1145.3 L836.4 1145.1 L836.5 1146.8 L836.7 1147.1 L836.9 1148.8 L837.1 1149.5 L837.3 1151.6 L837.5 1152.8 L837.7 1153.2 L837.8 1154.5 L838.0 1155.5 L838.2 1155.6 L838.9 1156.2 L839.7 1158.3 L840.4 1159.3 L840.8 1158.2 L841.1 1157.0 L841.5 1155.9 L841.8 1155.8 L842.2 1153.6 L842.6 1154.7 L842.9 1152.1 L843.3 1150.9 L843.6 1150.8 L844.0 1148.5 L844.8 1149.3 L845.6 1147.1 L846.4 1147.8 L847.1 1148.0 L847.9 1146.1 L848.7 1144.3 L848.9 1146.3 L849.1 1146.5 L849.4 1148.4 L849.6 1147.9 L849.8 1151.1 L850.0 1152.2 L850.2 1152.2 L850.5 1153.0 L850.7 1154.2 L850.9 1153.8 L851.3 1155.5 L851.6 1157.2 L852.0 1159.3 L852.4 1159.0 L852.7 1161.0 L853.1 1160.7 L853.4 1160.8 L853.7 1158.9 L854.0 1157.7 L854.3 1157.3 L854.6 1155.1 L854.9 1154.9 L855.2 1154.5 L855.5 1151.8 L855.8 1151.5 L856.1 1151.0 L856.4 1150.1 L856.7 1149.0 L857.4 1149.0 L858.0 1146.2 L858.7 1147.0 L859.4 1145.4 L860.1 1144.0 L860.7 1143.4 L861.4 1142.7 L861.5 1143.9 L861.7 1145.0 L861.8 1146.0 L862.0 1147.0 L862.1 1148.0 L862.3 1149.0 L862.4 1150.0 L862.6 1151.0 L862.7 1152.1 L862.9 1153.1 L863.0 1154.1 L863.2 1155.1 L863.3 1156.1 L863.5 1157.1 L863.6 1157.4 L864.7 1157.4 L865.8 1158.0 L866.3 1158.0 L866.8 1157.1 L867.3 1156.4 L867.9 1152.4 L868.4 1152.4 L868.9 1151.7 L869.4 1150.5 L869.9 1149.9 L870.4 1148.2 L871.0 1147.4 L871.5 1148.1 L872.0 1146.5 L872.5 1144.5 L873.1 1145.0 L873.6 1145.5 L874.1 1143.5 L874.3 1143.5 L874.4 1146.9 L874.6 1144.9 L874.8 1146.7 L874.9 1148.3 L875.1 1149.0 L875.3 1150.8 L875.5 1151.3 L875.6 1152.4 L875.8 1153.0 L876.0 1153.9 L876.1 1154.5 L876.3 1155.6 L877.0 1156.9 L877.8 1157.4 L878.5 1158.4 L878.9 1158.0 L879.2 1158.3 L879.6 1156.0 L879.9 1154.5 L880.3 1154.4 L880.7 1153.6 L881.0 1151.7 L881.4 1150.6 L881.7 1149.9 L882.1 1147.8 L883.0 1149.1 L884.0 1148.2 L884.9 1145.8 L885.9 1146.7 L886.8 1145.4 L887.0 1147.0 L887.1 1147.7 L887.3 1148.1 L887.5 1148.9 L887.6 1149.9 L887.8 1152.5 L888.0 1152.8 L888.2 1154.6 L888.3 1154.3 L888.5 1155.9 L888.7 1156.8 L888.8 1157.3 L889.0 1159.1 L890.1 1158.6 L891.2 1160.0 L891.5 1160.0 L891.8 1158.8 L892.1 1158.1 L892.4 1156.5 L892.7 1155.0 L893.0 1154.0 L893.3 1153.4 L893.6 1152.6 L893.9 1152.1 L894.2 1150.7 L894.5 1148.9 L894.8 1149.5 L895.4 1148.9 L896.0 1147.2 L896.6 1146.4 L897.2 1145.6 L897.7 1145.0 L898.3 1143.4 L898.9 1142.3 L899.5 1142.6 L899.7 1142.2 L899.8 1144.1 L900.0 1144.1 L900.1 1145.5 L900.3 1147.0 L900.4 1147.8 L900.6 1150.3 L900.8 1149.6 L900.9 1152.5 L901.1 1152.8 L901.2 1151.7 L901.4 1154.6 L901.5 1155.7 L901.7 1156.5 L902.3 1156.6 L902.8 1158.1 L903.4 1159.2 L903.9 1159.1 L904.3 1158.8 L904.6 1158.1 L905.0 1157.6 L905.3 1155.8 L905.7 1154.8 L906.1 1154.4 L906.4 1151.7 L906.8 1151.8 L907.1 1151.3 L907.5 1149.7 L908.3 1149.3 L909.1 1149.8 L909.9 1148.9 L910.6 1147.1 L911.4 1146.7 L912.2 1146.3 L912.4 1148.5 L912.6 1149.0 L912.8 1149.1 L912.9 1150.1 L913.1 1151.3 L913.3 1151.7 L913.5 1153.9 L913.7 1154.4 L913.9 1156.7 L914.0 1156.6 L914.2 1157.8 L914.4 1159.5 L915.5 1159.8 L916.6 1160.3 L916.9 1159.5 L917.3 1157.0 L917.6 1156.3 L917.9 1156.6 L918.2 1154.2 L918.6 1153.9 L918.9 1152.6 L919.2 1153.1 L919.5 1149.8 L919.9 1148.9 L920.2 1148.3 L920.9 1147.5 L921.5 1147.2 L922.2 1147.1 L922.9 1146.6 L923.6 1144.8 L924.2 1143.1 L924.9 1144.2 L925.1 1144.0 L925.3 1146.1 L925.5 1146.2 L925.7 1148.2 L925.9 1148.5 L926.1 1148.2 L926.3 1150.1 L926.5 1151.4 L926.7 1152.5 L926.9 1153.3 L927.1 1153.9 L927.7 1155.9 L928.2 1155.7 L928.8 1158.1 L929.3 1159.2 L929.8 1157.7 L930.2 1156.2 L930.7 1156.0 L931.1 1154.7 L931.6 1154.4 L932.0 1153.7 L932.5 1151.5 L932.9 1150.2 L933.4 1150.5 L933.9 1149.0 L934.5 1149.2 L935.0 1147.7 L935.5 1146.2 L936.0 1146.3 L936.6 1143.7 L937.1 1144.8 L937.6 1142.8 L937.8 1145.1 L938.0 1144.5 L938.2 1145.8 L938.3 1147.5 L938.5 1147.7 L938.7 1148.9 L938.9 1150.4 L939.1 1150.7 L939.3 1150.9 L939.4 1152.7 L939.6 1154.2 L939.8 1154.4 L940.4 1155.6 L940.9 1156.1 L941.5 1157.8 L942.0 1159.4 L942.5 1158.2 L942.9 1157.9 L943.4 1155.0 L943.8 1155.8 L944.3 1154.7 L944.7 1152.3 L945.2 1153.1 L945.6 1150.9 L946.2 1152.4 L946.8 1151.1 L947.4 1149.8 L948.0 1149.0 L948.5 1147.6 L949.1 1147.5 L949.7 1145.4 L950.3 1145.3 L950.5 1145.4 L950.7 1148.1 L951.0 1147.3 L951.2 1148.5 L951.4 1150.8 L951.6 1151.0 L951.8 1151.4 L952.1 1151.7 L952.3 1154.3 L952.5 1153.1 L953.1 1154.9 L953.6 1155.9 L954.2 1158.0 L954.7 1159.0 L955.1 1158.2 L955.4 1157.1 L955.8 1155.4 L956.1 1155.8 L956.5 1153.1 L956.9 1152.3 L957.2 1151.6 L957.6 1151.2 L957.9 1149.9 L958.3 1149.7 L959.2 1146.7 L960.2 1148.1 L961.1 1146.8 L962.1 1146.9 L963.0 1145.3 L963.2 1145.6 L963.4 1148.8 L963.7 1149.2 L963.9 1148.8 L964.1 1150.8 L964.3 1152.2 L964.5 1153.2 L964.8 1154.5 L965.0 1155.4 L965.2 1156.9 L965.9 1156.8 L966.7 1158.3 L967.4 1159.3 L967.9 1157.4 L968.3 1157.1 L968.8 1156.1 L969.2 1155.0 L969.7 1154.2 L970.1 1153.2 L970.6 1152.4 L971.0 1150.6 L971.5 1150.7 L972.0 1149.1 L972.6 1148.5 L973.1 1148.7 L973.6 1145.2 L974.1 1146.5 L974.7 1143.4 L975.2 1144.6 L975.7 1142.9 L975.9 1143.3 L976.0 1144.8 L976.2 1146.1 L976.4 1146.7 L976.5 1148.2 L976.7 1149.9 L976.9 1148.1 L977.1 1150.6 L977.2 1152.1 L977.4 1153.2 L977.6 1153.1 L977.7 1156.2 L977.9 1156.9 L978.3 1157.7 L978.8 1157.0 L979.2 1158.3 L979.7 1159.5 L980.1 1161.8 L980.4 1161.7 L980.7 1158.4 L981.0 1157.4 L981.3 1156.8 L981.6 1155.4 L981.9 1154.2 L982.2 1153.7 L982.5 1152.2 L982.8 1151.3 L983.1 1151.9 L983.4 1149.9 L983.7 1149.6 L984.5 1149.1 L985.3 1148.1 L986.1 1147.0 L986.8 1146.4 L987.6 1144.8 L988.4 1144.8 L988.6 1143.6 L988.7 1147.2 L988.9 1146.3 L989.1 1148.1 L989.2 1148.5 L989.4 1150.7 L989.6 1151.6 L989.8 1151.4 L989.9 1152.6 L990.1 1154.2 L990.3 1155.4 L990.4 1156.7 L990.6 1157.7 L991.7 1158.1 L992.8 1159.0 L993.3 1157.5 L993.7 1156.1 L994.2 1155.3 L994.6 1154.5 L995.1 1152.7 L995.5 1151.9 L996.0 1151.0 L996.4 1150.8 L997.0 1148.6 L997.6 1149.4 L998.2 1148.5 L998.8 1147.0 L999.3 1147.4 L999.9 1145.0 L1000.5 1144.8 L1001.1 1145.6" fill="none" stroke="#231f20" stroke-width="4.0" stroke-linejoin="round" stroke-linecap="butt" clip-path="url(#c5)"/>
</svg>
<div class="tx">
<div class="t" style="left:427px;top:57.3px;font-size:6px;font-weight:normal;letter-spacing:0.2px">TM</div>
<div class="t" style="left:-158.5px;top:395px;width:600px;text-align:center;font-size:14.55px;transform:rotate(-90deg);">Efficiency (%)</div>
<div class="t" style="top:53px;font-size:32.75px;right:99.70px;">AAT3143</div>
<div class="t" style="top:89px;font-size:25.47px;right:99.40px;">High Efficiency 1X/1.5X/2X Charge Pump with</div>
<div class="t" style="top:118px;font-size:25.47px;right:99.40px;">PWM Control for White LED Applications</div>
<div class="t" style="top:194px;font-size:25.38px;left:130.00px;">Typical Characteristics</div>
<div class="t" style="top:226px;font-size:18.0px;left:130.50px;font-weight:normal;--sf:0.68em;--st:0.42em;word-spacing:0.7px;">V<sub>IN</sub> = 3.5V, C<sub>IN</sub> = C<sub>CP</sub> = C<sub>1</sub> = C<sub>2</sub> = 1&micro;F, T<sub>A</sub> = 25&deg;C, unless otherwise noted.</div>
<div class="t" style="top:1333px;font-size:14.55px;left:132.00px;font-weight:normal;font-family:'Liberation Serif',serif;font-style:italic;">3143.2006.05.1.0</div>
<div class="t" style="top:1329px;font-size:18.19px;right:100.80px;font-weight:normal;">5</div>
<div class="t" style="top:508px;font-size:10.9px;left:-112.40px;width:600px;text-align:center;font-weight:normal;">2.7</div>
<div class="t" style="top:508px;font-size:10.9px;left:-89.71px;width:600px;text-align:center;font-weight:normal;">2.8</div>
<div class="t" style="top:508px;font-size:10.9px;left:-67.03px;width:600px;text-align:center;font-weight:normal;">2.9</div>
<div class="t" style="top:508px;font-size:10.9px;left:-44.34px;width:600px;text-align:center;font-weight:normal;">3.0</div>
<div class="t" style="top:508px;font-size:10.9px;left:-21.65px;width:600px;text-align:center;font-weight:normal;">3.1</div>
<div class="t" style="top:508px;font-size:10.9px;left:1.03px;width:600px;text-align:center;font-weight:normal;">3.2</div>
<div class="t" style="top:508px;font-size:10.9px;left:23.72px;width:600px;text-align:center;font-weight:normal;">3.3</div>
<div class="t" style="top:508px;font-size:10.9px;left:46.41px;width:600px;text-align:center;font-weight:normal;">3.4</div>
<div class="t" style="top:508px;font-size:10.9px;left:69.09px;width:600px;text-align:center;font-weight:normal;">3.5</div>
<div class="t" style="top:508px;font-size:10.9px;left:91.78px;width:600px;text-align:center;font-weight:normal;">3.6</div>
<div class="t" style="top:508px;font-size:10.9px;left:114.47px;width:600px;text-align:center;font-weight:normal;">3.7</div>
<div class="t" style="top:508px;font-size:10.9px;left:137.15px;width:600px;text-align:center;font-weight:normal;">3.8</div>
<div class="t" style="top:508px;font-size:10.9px;left:159.84px;width:600px;text-align:center;font-weight:normal;">3.9</div>
<div class="t" style="top:508px;font-size:10.9px;left:182.53px;width:600px;text-align:center;font-weight:normal;">4.0</div>
<div class="t" style="top:508px;font-size:10.9px;left:205.21px;width:600px;text-align:center;font-weight:normal;">4.1</div>
<div class="t" style="top:508px;font-size:10.9px;left:227.90px;width:600px;text-align:center;font-weight:normal;">4.2</div>
<div class="t" style="top:309px;font-size:10.9px;right:926.40px;font-weight:normal;">100</div>
<div class="t" style="top:336px;font-size:10.9px;right:926.40px;font-weight:normal;">90</div>
<div class="t" style="top:362px;font-size:10.9px;right:926.40px;font-weight:normal;">80</div>
<div class="t" style="top:389px;font-size:10.9px;right:926.40px;font-weight:normal;">70</div>
<div class="t" style="top:415px;font-size:10.9px;right:926.40px;font-weight:normal;">60</div>
<div class="t" style="top:442px;font-size:10.9px;right:926.40px;font-weight:normal;">50</div>
<div class="t" style="top:468px;font-size:10.9px;right:926.40px;font-weight:normal;">40</div>
<div class="t" style="top:494px;font-size:10.9px;right:926.40px;font-weight:normal;">30</div>
<div class="t" style="top:259px;font-size:18.1px;left:51.30px;width:600px;text-align:center;word-spacing:0.5px;">Efficiency</div>
<div class="t" style="top:280px;font-size:14.4px;left:51.30px;width:600px;text-align:center;">(100% Duty Cycle, 4x20mA/channel)</div>
<div class="t" style="top:535px;font-size:14.4px;left:58.60px;width:600px;text-align:center;">Input Voltage (V)</div>
<div class="t" style="top:259px;font-size:18.1px;left:531.60px;width:600px;text-align:center;word-spacing:0.5px;">Turn-On to 1X Mode</div>
<div class="t" style="top:280px;font-size:14.4px;left:531.60px;width:600px;text-align:center;">(V<sub>IN</sub> = 4.2V)</div>
<div class="t" style="top:535px;font-size:14.4px;left:542.00px;width:600px;text-align:center;">Time (50&micro;s/div)</div>
<div class="t" style="top:332px;font-size:14.55px;right:429.40px;">V<sub>EN</sub></div>
<div class="t" style="top:349px;font-size:14.55px;right:429.40px;">(1V/div)</div>
<div class="t" style="top:383px;font-size:14.55px;right:429.40px;">V<sub>CP</sub></div>
<div class="t" style="top:400px;font-size:14.55px;right:429.40px;">(2V/div)</div>
<div class="t" style="top:429px;font-size:14.55px;right:429.40px;">V<sub>LED</sub></div>
<div class="t" style="top:446px;font-size:14.55px;right:429.40px;">(2V/div)</div>
<div class="t" style="top:475px;font-size:14.55px;right:429.40px;">I<sub>IN</sub></div>
<div class="t" style="top:493px;font-size:14.55px;right:429.40px;">(100mA/div)</div>
<div class="t" style="top:612px;font-size:18.1px;left:61.00px;width:600px;text-align:center;word-spacing:0.5px;">Turn-On to 1.5X Mode</div>
<div class="t" style="top:633px;font-size:14.4px;left:61.00px;width:600px;text-align:center;">(V<sub>IN</sub> = 3.5V)</div>
<div class="t" style="top:887px;font-size:14.4px;left:71.50px;width:600px;text-align:center;">Time (50&micro;s/div)</div>
<div class="t" style="top:685px;font-size:14.55px;right:899.70px;">V<sub>EN</sub></div>
<div class="t" style="top:701px;font-size:14.55px;right:899.70px;">(1V/div)</div>
<div class="t" style="top:738px;font-size:14.55px;right:899.70px;">V<sub>CP</sub></div>
<div class="t" style="top:755px;font-size:14.55px;right:899.70px;">(2V/div)</div>
<div class="t" style="top:782px;font-size:14.55px;right:899.70px;">V<sub>LED</sub></div>
<div class="t" style="top:799px;font-size:14.55px;right:899.70px;">(2V/div)</div>
<div class="t" style="top:828px;font-size:14.55px;right:899.70px;">I<sub>IN</sub></div>
<div class="t" style="top:845px;font-size:14.55px;right:899.70px;">(50mA/div)</div>
<div class="t" style="top:612px;font-size:18.1px;left:523.00px;width:600px;text-align:center;word-spacing:0.5px;">Turn-On to 2X Mode</div>
<div class="t" style="top:633px;font-size:14.4px;left:523.00px;width:600px;text-align:center;">(V<sub>IN</sub> = 2.7V)</div>
<div class="t" style="top:887px;font-size:14.4px;left:533.70px;width:600px;text-align:center;">Time (50&micro;s/div)</div>
<div class="t" style="top:685px;font-size:14.55px;right:437.40px;">V<sub>EN</sub></div>
<div class="t" style="top:701px;font-size:14.55px;right:437.40px;">(1V/div)</div>
<div class="t" style="top:735px;font-size:14.55px;right:437.40px;">V<sub>CP</sub></div>
<div class="t" style="top:752px;font-size:14.55px;right:437.40px;">(2V/div)</div>
<div class="t" style="top:786px;font-size:14.55px;right:437.40px;">V<sub>LED</sub></div>
<div class="t" style="top:803px;font-size:14.55px;right:437.40px;">(2V/div)</div>
<div class="t" style="top:828px;font-size:14.55px;right:437.40px;">I<sub>IN</sub></div>
<div class="t" style="top:845px;font-size:14.55px;right:437.40px;">(50mA/div)</div>
<div class="t" style="top:964px;font-size:18.1px;left:61.00px;width:600px;text-align:center;word-spacing:0.5px;">LED Turn-On Delay</div>
<div class="t" style="top:985px;font-size:14.4px;left:61.00px;width:600px;text-align:center;">(PWM Frequency = 500Hz)</div>
<div class="t" style="top:1240px;font-size:14.4px;left:71.50px;width:600px;text-align:center;">Time (5&micro;s/div)</div>
<div class="t" style="top:1042px;font-size:14.55px;right:899.70px;">V<sub>EN</sub></div>
<div class="t" style="top:1059px;font-size:14.55px;right:899.70px;">(2V/div)</div>
<div class="t" style="top:1095px;font-size:14.55px;right:899.70px;">V<sub>LED</sub></div>
<div class="t" style="top:1112px;font-size:14.55px;right:899.70px;">(2V/div)</div>
<div class="t" style="top:1166px;font-size:14.55px;right:899.70px;">I<sub>LED</sub></div>
<div class="t" style="top:1183px;font-size:14.55px;right:899.70px;">(10mA/div)</div>
<div class="t" style="top:964px;font-size:18.1px;left:523.00px;width:600px;text-align:center;word-spacing:0.5px;">LED Turn-On Delay</div>
<div class="t" style="top:985px;font-size:14.4px;left:523.00px;width:600px;text-align:center;">(PWM Frequency = 5kHz)</div>
<div class="t" style="top:1240px;font-size:14.4px;left:533.70px;width:600px;text-align:center;">Time (1&micro;s/div)</div>
<div class="t" style="top:1042px;font-size:14.55px;right:437.40px;">V<sub>EN</sub></div>
<div class="t" style="top:1059px;font-size:14.55px;right:437.40px;">(2V/div)</div>
<div class="t" style="top:1095px;font-size:14.55px;right:437.40px;">V<sub>LED</sub></div>
<div class="t" style="top:1112px;font-size:14.55px;right:437.40px;">(2V/div)</div>
<div class="t" style="top:1166px;font-size:14.55px;right:437.40px;">I<sub>LED</sub></div>
<div class="t" style="top:1183px;font-size:14.55px;right:437.40px;">(10mA/div)</div>
</div>
</body></html>
